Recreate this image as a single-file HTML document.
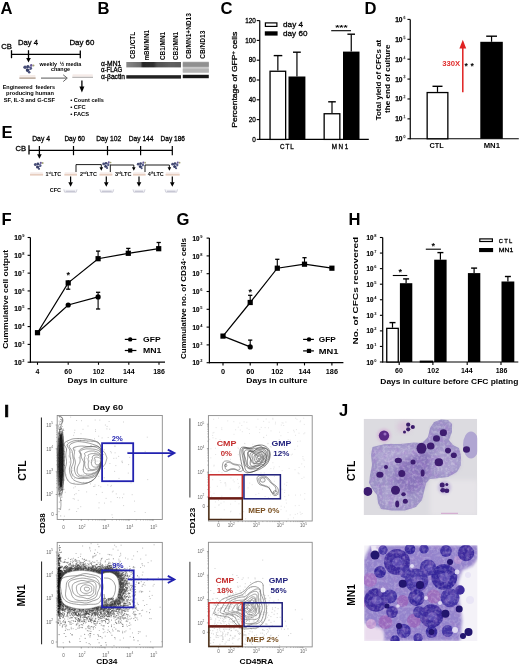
<!DOCTYPE html>
<html><head><meta charset="utf-8"><style>
html,body{margin:0;padding:0;background:#fff;width:520px;height:666px;overflow:hidden}
svg{display:block}
text{font-family:"Liberation Sans",sans-serif}
</style></head><body>
<svg width="520" height="666" viewBox="0 0 520 666">
<defs><filter id="soft" x="0" y="0" width="100%" height="100%"><feGaussianBlur stdDeviation="0.3"/></filter></defs>
<rect width="520" height="666" fill="#fff"/>
<g filter="url(#soft)">
<rect width="520" height="666" fill="#fff"/>
<text x="0.60" y="13.50" font-size="16.6" fill="#000" font-weight="bold" >A</text>
<text x="97.60" y="14.00" font-size="16.6" fill="#000" font-weight="bold" >B</text>
<text x="220.40" y="13.60" font-size="16.6" fill="#000" font-weight="bold" >C</text>
<text x="364.40" y="13.80" font-size="16.6" fill="#000" font-weight="bold" >D</text>
<text x="1.40" y="138.00" font-size="16.6" fill="#000" font-weight="bold" >E</text>
<text x="1.60" y="225.00" font-size="16.6" fill="#000" font-weight="bold" >F</text>
<text x="176.40" y="225.00" font-size="16.6" fill="#000" font-weight="bold" >G</text>
<text x="348.60" y="225.00" font-size="16.6" fill="#000" font-weight="bold" >H</text>
<text x="4.30" y="416.50" font-size="17.0" fill="#000" font-weight="bold" stroke="#000" stroke-width="0.7">I</text>
<text x="339.00" y="416.20" font-size="16.6" fill="#000" font-weight="bold" >J</text>
<text x="1.20" y="48.60" font-size="7.8" fill="#000" font-weight="normal" stroke="#000" stroke-width="0.28" textLength="10.70" lengthAdjust="spacingAndGlyphs" >CB</text>
<text x="18.00" y="45.20" font-size="7.6" fill="#000" font-weight="normal" stroke="#000" stroke-width="0.28" textLength="20.00" lengthAdjust="spacingAndGlyphs" >Day 4</text>
<text x="69.40" y="45.20" font-size="7.6" fill="#000" font-weight="normal" stroke="#000" stroke-width="0.28" textLength="25.00" lengthAdjust="spacingAndGlyphs" >Day 60</text>
<line x1="11.50" y1="54.40" x2="80.30" y2="54.40" stroke="#000" stroke-width="1.3" />
<line x1="11.50" y1="50.20" x2="11.50" y2="58.20" stroke="#000" stroke-width="1.3" />
<line x1="80.30" y1="50.60" x2="80.30" y2="58.20" stroke="#000" stroke-width="1.3" />
<line x1="28.50" y1="50.20" x2="28.50" y2="54.40" stroke="#000" stroke-width="1.3" />
<line x1="28.50" y1="54.40" x2="28.50" y2="58.60" stroke="#000" stroke-width="1.3" />
<path d="M26.20,58.10 L30.80,58.10 L28.50,62.60 Z" fill="#000"/>
<g transform="translate(21.60,63.20) scale(1.15)"><circle cx="3" cy="3.5" r="1.5" fill="#4a5078"/><circle cx="5.5" cy="2.9" r="1.4" fill="#3e4470"/><circle cx="7.6" cy="4.4" r="1.5" fill="#525a88"/><circle cx="5.2" cy="6" r="1.6" fill="#363c66"/><circle cx="8.4" cy="1.9" r="1.1" fill="#6a5a98"/><circle cx="10.3" cy="2.0" r="0.9" fill="#a0a070"/><circle cx="6.6" cy="7.8" r="1.1" fill="#4a5078"/><circle cx="6.4" cy="4.6" r="0.7" fill="#e8e8f0"/></g>
<rect x="19.40" y="75.40" width="16.20" height="3.2" fill="#f9f2ef"/>
<line x1="19.40" y1="78.10" x2="35.60" y2="78.10" stroke="#8a7460" stroke-width="0.9" />
<line x1="19.90" y1="75.80" x2="35.10" y2="75.80" stroke="#ead6d0" stroke-width="0.5" />
<text x="39.40" y="65.50" font-size="6.0" fill="#000" font-weight="bold" textLength="41.80" lengthAdjust="spacingAndGlyphs" >weekly&#160;&#160;&#189; media</text>
<text x="51.00" y="71.30" font-size="6.0" fill="#000" font-weight="bold" textLength="19.00" lengthAdjust="spacingAndGlyphs" >change</text>
<line x1="41.00" y1="78.10" x2="66.80" y2="78.10" stroke="#666" stroke-width="1.1" />
<path d="M63.2,74.8 L67.3,78.1 L63.2,81.6" fill="none" stroke="#666" stroke-width="1.0"/>
<rect x="72.30" y="74.60" width="20.70" height="3.2" fill="#f9f2ef"/>
<line x1="72.30" y1="77.30" x2="93.00" y2="77.30" stroke="#a0a0a0" stroke-width="0.9" />
<line x1="72.80" y1="75.00" x2="92.50" y2="75.00" stroke="#ead6d0" stroke-width="0.5" />
<line x1="81.90" y1="80.50" x2="81.90" y2="87.10" stroke="#000" stroke-width="1.3" />
<path d="M79.40,86.60 L84.40,86.60 L81.90,92.40 Z" fill="#000"/>
<text x="2.70" y="88.60" font-size="6.2" fill="#000" font-weight="bold" textLength="52.30" lengthAdjust="spacingAndGlyphs" >Engineered&#160; feeders</text>
<text x="6.00" y="94.80" font-size="6.2" fill="#000" font-weight="bold" textLength="48.00" lengthAdjust="spacingAndGlyphs" >producing human</text>
<text x="3.80" y="101.90" font-size="6.2" fill="#000" font-weight="bold" textLength="51.20" lengthAdjust="spacingAndGlyphs" >SF, IL-3 and G-CSF</text>
<text x="70.20" y="101.60" font-size="6.2" fill="#000" font-weight="bold" >&#8226;</text>
<text x="73.80" y="101.60" font-size="6.2" fill="#000" font-weight="bold" textLength="30.00" lengthAdjust="spacingAndGlyphs" >Count cells</text>
<text x="70.20" y="108.60" font-size="6.2" fill="#000" font-weight="bold" >&#8226;</text>
<text x="73.80" y="108.60" font-size="6.2" fill="#000" font-weight="bold" textLength="11.80" lengthAdjust="spacingAndGlyphs" >CFC</text>
<text x="70.20" y="115.50" font-size="6.2" fill="#000" font-weight="bold" >&#8226;</text>
<text x="73.80" y="115.50" font-size="6.2" fill="#000" font-weight="bold" textLength="15.20" lengthAdjust="spacingAndGlyphs" >FACS</text>
<text x="135.40" y="58.80" font-size="7.6" fill="#000" font-weight="bold" textLength="26.90" lengthAdjust="spacingAndGlyphs" transform="rotate(-90 135.40 58.80)" >CB1/CTL</text>
<text x="149.20" y="60.60" font-size="7.6" fill="#000" font-weight="bold" textLength="30.60" lengthAdjust="spacingAndGlyphs" transform="rotate(-90 149.20 60.60)" >mBM/MN1</text>
<text x="164.80" y="60.00" font-size="7.6" fill="#000" font-weight="bold" textLength="28.10" lengthAdjust="spacingAndGlyphs" transform="rotate(-90 164.80 60.00)" >CB1/MN1</text>
<text x="177.50" y="60.00" font-size="7.6" fill="#000" font-weight="bold" textLength="28.10" lengthAdjust="spacingAndGlyphs" transform="rotate(-90 177.50 60.00)" >CB2/MN1</text>
<text x="191.30" y="58.80" font-size="7.6" fill="#000" font-weight="bold" textLength="45.70" lengthAdjust="spacingAndGlyphs" transform="rotate(-90 191.30 58.80)" >CB/MN1+ND13</text>
<text x="204.60" y="58.80" font-size="7.6" fill="#000" font-weight="bold" textLength="28.20" lengthAdjust="spacingAndGlyphs" transform="rotate(-90 204.60 58.80)" >CB/ND13</text>
<text x="101.00" y="66.10" font-size="6.3" fill="#000" font-weight="normal" stroke="#000" stroke-width="0.28" textLength="20.30" lengthAdjust="spacingAndGlyphs" >&#945;-MN1</text>
<text x="101.00" y="72.40" font-size="6.3" fill="#000" font-weight="normal" stroke="#000" stroke-width="0.28" textLength="21.30" lengthAdjust="spacingAndGlyphs" >&#945;-FLAG</text>
<text x="101.00" y="78.60" font-size="6.3" fill="#000" font-weight="normal" stroke="#000" stroke-width="0.28" textLength="24.00" lengthAdjust="spacingAndGlyphs" >&#945;-&#946;actin</text>
<defs><linearGradient id="mn1g" x1="0" x2="1" y1="0" y2="0"><stop offset="0" stop-color="#888"/><stop offset="0.26" stop-color="#6a6a6a"/><stop offset="0.3" stop-color="#262626"/><stop offset="0.5" stop-color="#303030"/><stop offset="0.56" stop-color="#505050"/><stop offset="0.8" stop-color="#606060"/><stop offset="1" stop-color="#5a5a5a"/></linearGradient><filter id="bl1"><feGaussianBlur stdDeviation="0.5"/></filter><filter id="bl2"><feGaussianBlur stdDeviation="1.0"/></filter><filter id="bl3"><feGaussianBlur stdDeviation="2.0"/></filter></defs>
<rect x="126.30" y="62.00" width="54.70" height="5.40" fill="url(#mn1g)" filter="url(#bl1)"/>
<rect x="126.30" y="75.20" width="54.70" height="3.40" fill="#202020" filter="url(#bl1)"/>
<rect x="182.80" y="61.60" width="26.00" height="11.20" fill="#c8c8c8" />
<rect x="182.80" y="62.20" width="26.00" height="4.60" fill="#909090" filter="url(#bl1)"/>
<rect x="182.80" y="68.80" width="26.00" height="3.60" fill="#b4b4b4" filter="url(#bl1)"/>
<rect x="182.80" y="74.80" width="26.00" height="3.40" fill="#181818" filter="url(#bl1)"/>
<line x1="259.75" y1="20.60" x2="259.75" y2="139.90" stroke="#000" stroke-width="1.2" />
<line x1="259.25" y1="139.40" x2="368.80" y2="139.40" stroke="#000" stroke-width="1.2" />
<line x1="256.75" y1="139.40" x2="259.75" y2="139.40" stroke="#000" stroke-width="1.1" />
<text x="255.80" y="141.60" font-size="6.4" fill="#000" font-weight="normal" stroke="#000" stroke-width="0.28" text-anchor="end" >0</text>
<line x1="256.75" y1="119.60" x2="259.75" y2="119.60" stroke="#000" stroke-width="1.1" />
<text x="255.80" y="121.80" font-size="6.4" fill="#000" font-weight="normal" stroke="#000" stroke-width="0.28" text-anchor="end" >20</text>
<line x1="256.75" y1="99.80" x2="259.75" y2="99.80" stroke="#000" stroke-width="1.1" />
<text x="255.80" y="102.00" font-size="6.4" fill="#000" font-weight="normal" stroke="#000" stroke-width="0.28" text-anchor="end" >40</text>
<line x1="256.75" y1="80.00" x2="259.75" y2="80.00" stroke="#000" stroke-width="1.1" />
<text x="255.80" y="82.20" font-size="6.4" fill="#000" font-weight="normal" stroke="#000" stroke-width="0.28" text-anchor="end" >60</text>
<line x1="256.75" y1="60.20" x2="259.75" y2="60.20" stroke="#000" stroke-width="1.1" />
<text x="255.80" y="62.40" font-size="6.4" fill="#000" font-weight="normal" stroke="#000" stroke-width="0.28" text-anchor="end" >80</text>
<line x1="256.75" y1="40.40" x2="259.75" y2="40.40" stroke="#000" stroke-width="1.1" />
<text x="255.80" y="42.60" font-size="6.4" fill="#000" font-weight="normal" stroke="#000" stroke-width="0.28" text-anchor="end" >100</text>
<line x1="256.75" y1="20.60" x2="259.75" y2="20.60" stroke="#000" stroke-width="1.1" />
<text x="255.80" y="22.80" font-size="6.4" fill="#000" font-weight="normal" stroke="#000" stroke-width="0.28" text-anchor="end" >120</text>
<rect x="270.05" y="71.25" width="15.60" height="68.15" fill="#fff" stroke="#000" stroke-width="1.3" />
<line x1="277.85" y1="55.60" x2="277.85" y2="70.60" stroke="#000" stroke-width="1.2" />
<line x1="273.70" y1="55.60" x2="282.30" y2="55.60" stroke="#000" stroke-width="1.4" />
<rect x="288.50" y="76.50" width="16.90" height="62.90" fill="#000" />
<line x1="296.95" y1="52.20" x2="296.95" y2="76.50" stroke="#000" stroke-width="1.2" />
<line x1="293.00" y1="52.20" x2="300.80" y2="52.20" stroke="#000" stroke-width="1.4" />
<rect x="324.15" y="113.75" width="15.70" height="25.65" fill="#fff" stroke="#000" stroke-width="1.3" />
<line x1="332.00" y1="101.80" x2="332.00" y2="113.10" stroke="#000" stroke-width="1.2" />
<line x1="328.20" y1="101.80" x2="335.80" y2="101.80" stroke="#000" stroke-width="1.4" />
<rect x="343.00" y="51.60" width="16.50" height="87.80" fill="#000" />
<line x1="351.25" y1="34.20" x2="351.25" y2="51.60" stroke="#000" stroke-width="1.2" />
<line x1="347.40" y1="34.20" x2="355.00" y2="34.20" stroke="#000" stroke-width="1.4" />
<line x1="331.20" y1="30.70" x2="351.00" y2="30.70" stroke="#000" stroke-width="1.1" />
<text x="335.20" y="30.20" font-size="6.5" fill="#000" font-weight="bold" textLength="12.50" lengthAdjust="spacingAndGlyphs" >***</text>
<rect x="265.40" y="22.90" width="11.50" height="3.50" fill="#fff" stroke="#000" stroke-width="1.2" />
<rect x="264.80" y="31.30" width="12.80" height="4.30" fill="#000" />
<text x="283.10" y="27.30" font-size="7.8" fill="#000" font-weight="normal" stroke="#000" stroke-width="0.28" textLength="19.90" lengthAdjust="spacingAndGlyphs" >day 4</text>
<text x="283.10" y="35.90" font-size="7.8" fill="#000" font-weight="normal" stroke="#000" stroke-width="0.28" textLength="24.30" lengthAdjust="spacingAndGlyphs" >day 60</text>
<text x="237.50" y="79.70" font-size="7.0" fill="#000" font-weight="normal" stroke="#000" stroke-width="0.28" text-anchor="middle" textLength="96.00" lengthAdjust="spacingAndGlyphs" transform="rotate(-90 237.50 79.70)" >Percentage of GFP<tspan font-size="4.6" dy="-2.6">+</tspan><tspan dy="2.6"> cells</tspan></text>
<text x="280.00" y="148.70" font-size="6.3" fill="#000" font-weight="normal" stroke="#000" stroke-width="0.28" textLength="13.80" lengthAdjust="spacing" >CTL</text>
<text x="331.80" y="148.90" font-size="6.3" fill="#000" font-weight="normal" stroke="#000" stroke-width="0.28" textLength="16.40" lengthAdjust="spacing" >MN1</text>
<line x1="410.25" y1="19.40" x2="410.25" y2="139.25" stroke="#000" stroke-width="1.2" />
<line x1="409.75" y1="138.75" x2="518.80" y2="138.75" stroke="#000" stroke-width="1.2" />
<line x1="407.45" y1="138.75" x2="410.25" y2="138.75" stroke="#000" stroke-width="1.1" />
<text x="395.20" y="141.25" font-size="7.0" fill="#000" font-weight="bold" textLength="7.30" lengthAdjust="spacingAndGlyphs" stroke="#000" stroke-width="0.25">10</text>
<text x="403.40" y="138.15" font-size="3.4" fill="#555" font-weight="normal" stroke="#555" stroke-width="0.28" >0</text>
<line x1="407.45" y1="118.86" x2="410.25" y2="118.86" stroke="#000" stroke-width="1.1" />
<text x="395.20" y="121.36" font-size="7.0" fill="#000" font-weight="bold" textLength="7.30" lengthAdjust="spacingAndGlyphs" stroke="#000" stroke-width="0.25">10</text>
<text x="403.40" y="118.26" font-size="3.4" fill="#555" font-weight="normal" stroke="#555" stroke-width="0.28" >1</text>
<line x1="407.45" y1="98.97" x2="410.25" y2="98.97" stroke="#000" stroke-width="1.1" />
<text x="395.20" y="101.47" font-size="7.0" fill="#000" font-weight="bold" textLength="7.30" lengthAdjust="spacingAndGlyphs" stroke="#000" stroke-width="0.25">10</text>
<text x="403.40" y="98.37" font-size="3.4" fill="#555" font-weight="normal" stroke="#555" stroke-width="0.28" >2</text>
<line x1="407.45" y1="79.08" x2="410.25" y2="79.08" stroke="#000" stroke-width="1.1" />
<text x="395.20" y="81.58" font-size="7.0" fill="#000" font-weight="bold" textLength="7.30" lengthAdjust="spacingAndGlyphs" stroke="#000" stroke-width="0.25">10</text>
<text x="403.40" y="78.48" font-size="3.4" fill="#555" font-weight="normal" stroke="#555" stroke-width="0.28" >3</text>
<line x1="407.45" y1="59.18" x2="410.25" y2="59.18" stroke="#000" stroke-width="1.1" />
<text x="395.20" y="61.68" font-size="7.0" fill="#000" font-weight="bold" textLength="7.30" lengthAdjust="spacingAndGlyphs" stroke="#000" stroke-width="0.25">10</text>
<text x="403.40" y="58.58" font-size="3.4" fill="#555" font-weight="normal" stroke="#555" stroke-width="0.28" >4</text>
<line x1="407.45" y1="39.29" x2="410.25" y2="39.29" stroke="#000" stroke-width="1.1" />
<text x="395.20" y="41.79" font-size="7.0" fill="#000" font-weight="bold" textLength="7.30" lengthAdjust="spacingAndGlyphs" stroke="#000" stroke-width="0.25">10</text>
<text x="403.40" y="38.69" font-size="3.4" fill="#555" font-weight="normal" stroke="#555" stroke-width="0.28" >5</text>
<line x1="407.45" y1="19.40" x2="410.25" y2="19.40" stroke="#000" stroke-width="1.1" />
<text x="395.20" y="21.90" font-size="7.0" fill="#000" font-weight="bold" textLength="7.30" lengthAdjust="spacingAndGlyphs" stroke="#000" stroke-width="0.25">10</text>
<text x="403.40" y="18.80" font-size="3.4" fill="#555" font-weight="normal" stroke="#555" stroke-width="0.28" >6</text>
<rect x="427.15" y="92.55" width="20.70" height="46.20" fill="#fff" stroke="#000" stroke-width="1.3" />
<line x1="437.50" y1="86.30" x2="437.50" y2="91.90" stroke="#000" stroke-width="1.2" />
<line x1="432.50" y1="86.30" x2="442.50" y2="86.30" stroke="#000" stroke-width="1.4" />
<rect x="480.30" y="41.80" width="22.50" height="96.95" fill="#000" />
<line x1="491.55" y1="36.20" x2="491.55" y2="41.80" stroke="#000" stroke-width="1.2" />
<line x1="486.20" y1="36.20" x2="497.00" y2="36.20" stroke="#000" stroke-width="1.4" />
<line x1="462.80" y1="92.20" x2="462.80" y2="47.00" stroke="#e02020" stroke-width="1.5" />
<path d="M459.4,48.6 L466.2,48.6 L462.8,39.8 Z" fill="#e02020"/>
<text x="442.20" y="66.30" font-size="8.0" fill="#e02c2c" font-weight="bold" textLength="17.90" lengthAdjust="spacingAndGlyphs" >330X</text>
<text x="464.60" y="69.20" font-size="8.6" fill="#000" font-weight="bold" >*</text>
<text x="470.60" y="69.20" font-size="8.6" fill="#000" font-weight="bold" >*</text>
<text x="429.50" y="148.20" font-size="7.6" fill="#000" font-weight="bold" textLength="14.30" lengthAdjust="spacingAndGlyphs" >CTL</text>
<text x="483.70" y="148.20" font-size="7.6" fill="#000" font-weight="bold" textLength="16.30" lengthAdjust="spacingAndGlyphs" >MN1</text>
<text x="381.00" y="80.00" font-size="6.6" fill="#000" font-weight="bold" text-anchor="middle" textLength="80.50" lengthAdjust="spacingAndGlyphs" transform="rotate(-90 381.00 80.00)" >Total yield of CFCs at</text>
<text x="389.90" y="78.80" font-size="6.6" fill="#000" font-weight="bold" text-anchor="middle" textLength="68.50" lengthAdjust="spacingAndGlyphs" transform="rotate(-90 389.90 78.80)" >the end of culture</text>
<text x="15.60" y="150.60" font-size="7.2" fill="#000" font-weight="normal" stroke="#000" stroke-width="0.28" textLength="10.60" lengthAdjust="spacingAndGlyphs" >CB</text>
<text x="32.20" y="141.00" font-size="7.0" fill="#000" font-weight="normal" stroke="#000" stroke-width="0.28" textLength="17.80" lengthAdjust="spacingAndGlyphs" >Day 4</text>
<text x="64.40" y="141.00" font-size="7.0" fill="#000" font-weight="normal" stroke="#000" stroke-width="0.28" textLength="20.60" lengthAdjust="spacingAndGlyphs" >Day 60</text>
<text x="96.20" y="141.00" font-size="7.0" fill="#000" font-weight="normal" stroke="#000" stroke-width="0.28" textLength="25.00" lengthAdjust="spacingAndGlyphs" >Day 102</text>
<text x="128.70" y="141.00" font-size="7.0" fill="#000" font-weight="normal" stroke="#000" stroke-width="0.28" textLength="24.80" lengthAdjust="spacingAndGlyphs" >Day 144</text>
<text x="160.60" y="141.00" font-size="7.0" fill="#000" font-weight="normal" stroke="#000" stroke-width="0.28" textLength="24.40" lengthAdjust="spacingAndGlyphs" >Day 186</text>
<line x1="29.00" y1="150.40" x2="172.30" y2="150.40" stroke="#000" stroke-width="1.3" />
<line x1="29.00" y1="145.20" x2="29.00" y2="154.60" stroke="#000" stroke-width="1.3" />
<line x1="73.50" y1="146.00" x2="73.50" y2="155.20" stroke="#000" stroke-width="1.2" />
<line x1="107.50" y1="146.00" x2="107.50" y2="155.20" stroke="#000" stroke-width="1.2" />
<line x1="140.60" y1="146.00" x2="140.60" y2="155.20" stroke="#000" stroke-width="1.2" />
<line x1="172.30" y1="146.00" x2="172.30" y2="155.20" stroke="#000" stroke-width="1.2" />
<line x1="39.40" y1="146.00" x2="39.40" y2="150.40" stroke="#000" stroke-width="1.2" />
<line x1="39.40" y1="150.40" x2="39.40" y2="154.80" stroke="#000" stroke-width="1.3" />
<path d="M37.10,154.30 L41.70,154.30 L39.40,158.80 Z" fill="#000"/>
<g transform="translate(32.40,161.00) scale(1.0)"><circle cx="3" cy="3.5" r="1.5" fill="#4a5078"/><circle cx="5.5" cy="2.9" r="1.4" fill="#3e4470"/><circle cx="7.6" cy="4.4" r="1.5" fill="#525a88"/><circle cx="5.2" cy="6" r="1.6" fill="#363c66"/><circle cx="8.4" cy="1.9" r="1.1" fill="#6a5a98"/><circle cx="10.3" cy="2.0" r="0.9" fill="#a0a070"/><circle cx="6.6" cy="7.8" r="1.1" fill="#4a5078"/><circle cx="6.4" cy="4.6" r="0.7" fill="#e8e8f0"/></g>
<rect x="30.00" y="172.60" width="13.10" height="2.8" fill="#f9f2ef"/>
<line x1="30.00" y1="174.90" x2="43.10" y2="174.90" stroke="#d8b098" stroke-width="0.9" />
<line x1="30.50" y1="173.00" x2="42.60" y2="173.00" stroke="#ead6d0" stroke-width="0.5" />
<rect x="64.40" y="172.60" width="12.60" height="2.8" fill="#f9f2ef"/>
<line x1="64.40" y1="174.90" x2="77.00" y2="174.90" stroke="#d8b098" stroke-width="0.9" />
<line x1="64.90" y1="173.00" x2="76.50" y2="173.00" stroke="#ead6d0" stroke-width="0.5" />
<rect x="99.50" y="172.60" width="12.80" height="2.8" fill="#f9f2ef"/>
<line x1="99.50" y1="174.90" x2="112.30" y2="174.90" stroke="#d8b098" stroke-width="0.9" />
<line x1="100.00" y1="173.00" x2="111.80" y2="173.00" stroke="#ead6d0" stroke-width="0.5" />
<rect x="133.00" y="172.60" width="12.60" height="2.8" fill="#f9f2ef"/>
<line x1="133.00" y1="174.90" x2="145.60" y2="174.90" stroke="#d8b098" stroke-width="0.9" />
<line x1="133.50" y1="173.00" x2="145.10" y2="173.00" stroke="#ead6d0" stroke-width="0.5" />
<rect x="165.60" y="172.60" width="14.10" height="2.8" fill="#f9f2ef"/>
<line x1="165.60" y1="174.90" x2="179.70" y2="174.90" stroke="#d8b098" stroke-width="0.9" />
<line x1="166.10" y1="173.00" x2="179.20" y2="173.00" stroke="#ead6d0" stroke-width="0.5" />
<text x="45.60" y="176.10" font-size="6.0" fill="#000" font-weight="bold" textLength="15.60" lengthAdjust="spacingAndGlyphs" >1<tspan font-size="3.2" dy="-2">st</tspan><tspan dy="2">LTC</tspan></text>
<text x="80.00" y="176.10" font-size="6.0" fill="#000" font-weight="bold" textLength="16.90" lengthAdjust="spacingAndGlyphs" >2<tspan font-size="3.2" dy="-2">nd</tspan><tspan dy="2">LTC</tspan></text>
<text x="115.00" y="176.10" font-size="6.0" fill="#000" font-weight="bold" textLength="16.50" lengthAdjust="spacingAndGlyphs" >3<tspan font-size="3.2" dy="-2">rd</tspan><tspan dy="2">LTC</tspan></text>
<text x="147.80" y="176.10" font-size="6.0" fill="#000" font-weight="bold" textLength="16.00" lengthAdjust="spacingAndGlyphs" >4<tspan font-size="3.2" dy="-2">th</tspan><tspan dy="2">LTC</tspan></text>
<line x1="76.00" y1="172.00" x2="76.00" y2="164.60" stroke="#000" stroke-width="0.9" />
<line x1="76.00" y1="164.60" x2="101.30" y2="164.60" stroke="#000" stroke-width="0.9" />
<line x1="101.30" y1="164.60" x2="101.30" y2="167.80" stroke="#000" stroke-width="0.9" />
<path d="M99.50,167.30 L103.10,167.30 L101.30,170.80 Z" fill="#000"/>
<g transform="translate(100.80,160.60) scale(0.95)"><circle cx="3" cy="3.5" r="1.5" fill="#4a5078"/><circle cx="5.5" cy="2.9" r="1.4" fill="#3e4470"/><circle cx="7.6" cy="4.4" r="1.5" fill="#525a88"/><circle cx="5.2" cy="6" r="1.6" fill="#363c66"/><circle cx="8.4" cy="1.9" r="1.1" fill="#6a5a98"/><circle cx="10.3" cy="2.0" r="0.9" fill="#a0a070"/><circle cx="6.6" cy="7.8" r="1.1" fill="#4a5078"/><circle cx="6.4" cy="4.6" r="0.7" fill="#e8e8f0"/></g>
<line x1="110.30" y1="164.60" x2="110.30" y2="172.00" stroke="#000" stroke-width="0.9" />
<line x1="110.30" y1="165.00" x2="133.80" y2="165.00" stroke="#000" stroke-width="0.9" />
<line x1="133.80" y1="165.00" x2="133.80" y2="167.80" stroke="#000" stroke-width="0.9" />
<path d="M132.00,167.30 L135.60,167.30 L133.80,170.80 Z" fill="#000"/>
<g transform="translate(135.40,160.80) scale(0.95)"><circle cx="3" cy="3.5" r="1.5" fill="#4a5078"/><circle cx="5.5" cy="2.9" r="1.4" fill="#3e4470"/><circle cx="7.6" cy="4.4" r="1.5" fill="#525a88"/><circle cx="5.2" cy="6" r="1.6" fill="#363c66"/><circle cx="8.4" cy="1.9" r="1.1" fill="#6a5a98"/><circle cx="10.3" cy="2.0" r="0.9" fill="#a0a070"/><circle cx="6.6" cy="7.8" r="1.1" fill="#4a5078"/><circle cx="6.4" cy="4.6" r="0.7" fill="#e8e8f0"/></g>
<line x1="145.00" y1="165.00" x2="145.00" y2="172.00" stroke="#000" stroke-width="0.9" />
<line x1="145.00" y1="165.00" x2="169.40" y2="165.00" stroke="#000" stroke-width="0.9" />
<line x1="169.40" y1="165.00" x2="169.40" y2="167.80" stroke="#000" stroke-width="0.9" />
<path d="M167.60,167.30 L171.20,167.30 L169.40,170.80 Z" fill="#000"/>
<g transform="translate(169.80,160.80) scale(0.95)"><circle cx="3" cy="3.5" r="1.5" fill="#4a5078"/><circle cx="5.5" cy="2.9" r="1.4" fill="#3e4470"/><circle cx="7.6" cy="4.4" r="1.5" fill="#525a88"/><circle cx="5.2" cy="6" r="1.6" fill="#363c66"/><circle cx="8.4" cy="1.9" r="1.1" fill="#6a5a98"/><circle cx="10.3" cy="2.0" r="0.9" fill="#a0a070"/><circle cx="6.6" cy="7.8" r="1.1" fill="#4a5078"/><circle cx="6.4" cy="4.6" r="0.7" fill="#e8e8f0"/></g>
<line x1="70.60" y1="176.50" x2="70.60" y2="182.70" stroke="#000" stroke-width="1.2" />
<path d="M68.30,182.20 L72.90,182.20 L70.60,186.80 Z" fill="#000"/>
<line x1="106.30" y1="176.50" x2="106.30" y2="182.70" stroke="#000" stroke-width="1.2" />
<path d="M104.00,182.20 L108.60,182.20 L106.30,186.80 Z" fill="#000"/>
<line x1="139.00" y1="176.50" x2="139.00" y2="182.70" stroke="#000" stroke-width="1.2" />
<path d="M136.70,182.20 L141.30,182.20 L139.00,186.80 Z" fill="#000"/>
<line x1="172.30" y1="176.50" x2="172.30" y2="182.70" stroke="#000" stroke-width="1.2" />
<path d="M170.00,182.20 L174.60,182.20 L172.30,186.80 Z" fill="#000"/>
<text x="49.70" y="192.00" font-size="6.0" fill="#000" font-weight="bold" textLength="11.30" lengthAdjust="spacingAndGlyphs" >CFC</text>
<path d="M63.80,189.40 L64.60,192.20 L76.20,192.20 L77.00,189.40" fill="#f4f4f8" stroke="#b8b8c8" stroke-width="0.6"/>
<line x1="65.80" y1="191.20" x2="75.00" y2="191.20" stroke="#9898b0" stroke-width="0.6" />
<path d="M100.00,189.40 L100.80,192.20 L112.90,192.20 L113.70,189.40" fill="#f4f4f8" stroke="#b8b8c8" stroke-width="0.6"/>
<line x1="102.00" y1="191.20" x2="111.70" y2="191.20" stroke="#9898b0" stroke-width="0.6" />
<path d="M133.00,189.40 L133.80,192.20 L144.20,192.20 L145.00,189.40" fill="#f4f4f8" stroke="#b8b8c8" stroke-width="0.6"/>
<line x1="135.00" y1="191.20" x2="143.00" y2="191.20" stroke="#9898b0" stroke-width="0.6" />
<path d="M165.00,189.40 L165.80,192.20 L176.70,192.20 L177.50,189.40" fill="#f4f4f8" stroke="#b8b8c8" stroke-width="0.6"/>
<line x1="167.00" y1="191.20" x2="175.50" y2="191.20" stroke="#9898b0" stroke-width="0.6" />
<line x1="30.40" y1="237.50" x2="30.40" y2="362.70" stroke="#000" stroke-width="1.2" />
<line x1="29.90" y1="362.20" x2="165.00" y2="362.20" stroke="#000" stroke-width="1.2" />
<line x1="27.60" y1="362.20" x2="30.40" y2="362.20" stroke="#000" stroke-width="1.1" />
<text x="14.20" y="364.80" font-size="7.0" fill="#000" font-weight="bold" textLength="7.40" lengthAdjust="spacingAndGlyphs" stroke="#000" stroke-width="0.2">10</text>
<text x="22.30" y="361.80" font-size="4.0" fill="#000" font-weight="bold" >2</text>
<line x1="27.60" y1="344.39" x2="30.40" y2="344.39" stroke="#000" stroke-width="1.1" />
<text x="14.20" y="346.99" font-size="7.0" fill="#000" font-weight="bold" textLength="7.40" lengthAdjust="spacingAndGlyphs" stroke="#000" stroke-width="0.2">10</text>
<text x="22.30" y="343.99" font-size="4.0" fill="#000" font-weight="bold" >3</text>
<line x1="27.60" y1="326.57" x2="30.40" y2="326.57" stroke="#000" stroke-width="1.1" />
<text x="14.20" y="329.17" font-size="7.0" fill="#000" font-weight="bold" textLength="7.40" lengthAdjust="spacingAndGlyphs" stroke="#000" stroke-width="0.2">10</text>
<text x="22.30" y="326.17" font-size="4.0" fill="#000" font-weight="bold" >4</text>
<line x1="27.60" y1="308.76" x2="30.40" y2="308.76" stroke="#000" stroke-width="1.1" />
<text x="14.20" y="311.36" font-size="7.0" fill="#000" font-weight="bold" textLength="7.40" lengthAdjust="spacingAndGlyphs" stroke="#000" stroke-width="0.2">10</text>
<text x="22.30" y="308.36" font-size="4.0" fill="#000" font-weight="bold" >5</text>
<line x1="27.60" y1="290.94" x2="30.40" y2="290.94" stroke="#000" stroke-width="1.1" />
<text x="14.20" y="293.54" font-size="7.0" fill="#000" font-weight="bold" textLength="7.40" lengthAdjust="spacingAndGlyphs" stroke="#000" stroke-width="0.2">10</text>
<text x="22.30" y="290.54" font-size="4.0" fill="#000" font-weight="bold" >6</text>
<line x1="27.60" y1="273.13" x2="30.40" y2="273.13" stroke="#000" stroke-width="1.1" />
<text x="14.20" y="275.73" font-size="7.0" fill="#000" font-weight="bold" textLength="7.40" lengthAdjust="spacingAndGlyphs" stroke="#000" stroke-width="0.2">10</text>
<text x="22.30" y="272.73" font-size="4.0" fill="#000" font-weight="bold" >7</text>
<line x1="27.60" y1="255.31" x2="30.40" y2="255.31" stroke="#000" stroke-width="1.1" />
<text x="14.20" y="257.91" font-size="7.0" fill="#000" font-weight="bold" textLength="7.40" lengthAdjust="spacingAndGlyphs" stroke="#000" stroke-width="0.2">10</text>
<text x="22.30" y="254.91" font-size="4.0" fill="#000" font-weight="bold" >8</text>
<line x1="27.60" y1="237.50" x2="30.40" y2="237.50" stroke="#000" stroke-width="1.1" />
<text x="14.20" y="240.10" font-size="7.0" fill="#000" font-weight="bold" textLength="7.40" lengthAdjust="spacingAndGlyphs" stroke="#000" stroke-width="0.2">10</text>
<text x="22.30" y="237.10" font-size="4.0" fill="#000" font-weight="bold" >9</text>
<line x1="37.50" y1="362.20" x2="37.50" y2="364.80" stroke="#000" stroke-width="1.1" />
<line x1="68.20" y1="362.20" x2="68.20" y2="364.80" stroke="#000" stroke-width="1.1" />
<line x1="98.50" y1="362.20" x2="98.50" y2="364.80" stroke="#000" stroke-width="1.1" />
<line x1="128.80" y1="362.20" x2="128.80" y2="364.80" stroke="#000" stroke-width="1.1" />
<line x1="159.00" y1="362.20" x2="159.00" y2="364.80" stroke="#000" stroke-width="1.1" />
<text x="37.50" y="374.40" font-size="7.0" fill="#000" font-weight="bold" text-anchor="middle" >4</text>
<text x="68.20" y="374.40" font-size="7.0" fill="#000" font-weight="bold" text-anchor="middle" >60</text>
<text x="98.50" y="374.40" font-size="7.0" fill="#000" font-weight="bold" text-anchor="middle" >102</text>
<text x="128.80" y="374.40" font-size="7.0" fill="#000" font-weight="bold" text-anchor="middle" >144</text>
<text x="159.00" y="374.40" font-size="7.0" fill="#000" font-weight="bold" text-anchor="middle" >186</text>
<text x="67.60" y="383.20" font-size="7.3" fill="#000" font-weight="bold" textLength="60.20" lengthAdjust="spacingAndGlyphs" >Days in culture</text>
<text x="7.90" y="299.40" font-size="6.9" fill="#000" font-weight="bold" text-anchor="middle" textLength="98.80" lengthAdjust="spacingAndGlyphs" transform="rotate(-90 7.90 299.40)" >Cummulative cell output</text>
<polyline points="37.5,332.7 68.2,282.9 98.1,258.7 128.3,253.3 158.7,248.7" fill="none" stroke="#000" stroke-width="1.2"/>
<polyline points="37.5,332.7 68.2,305.0 98.1,296.9" fill="none" stroke="#000" stroke-width="1.2"/>
<line x1="68.20" y1="280.00" x2="68.20" y2="289.20" stroke="#000" stroke-width="1.1" />
<line x1="66.10" y1="289.20" x2="70.30" y2="289.20" stroke="#000" stroke-width="1.3" />
<line x1="98.10" y1="251.10" x2="98.10" y2="258.70" stroke="#000" stroke-width="1.1" />
<line x1="96.00" y1="251.10" x2="100.20" y2="251.10" stroke="#000" stroke-width="1.3" />
<line x1="128.30" y1="248.40" x2="128.30" y2="253.30" stroke="#000" stroke-width="1.1" />
<line x1="126.20" y1="248.40" x2="130.40" y2="248.40" stroke="#000" stroke-width="1.3" />
<line x1="158.70" y1="242.50" x2="158.70" y2="248.70" stroke="#000" stroke-width="1.1" />
<line x1="156.60" y1="242.50" x2="160.80" y2="242.50" stroke="#000" stroke-width="1.3" />
<line x1="98.10" y1="292.30" x2="98.10" y2="309.00" stroke="#000" stroke-width="1.1" />
<line x1="96.00" y1="292.30" x2="100.20" y2="292.30" stroke="#000" stroke-width="1.3" />
<line x1="96.00" y1="309.00" x2="100.20" y2="309.00" stroke="#000" stroke-width="1.3" />
<rect x="34.90" y="330.10" width="5.20" height="5.20" fill="#000" />
<rect x="65.60" y="280.30" width="5.20" height="5.20" fill="#000" />
<rect x="95.50" y="256.10" width="5.20" height="5.20" fill="#000" />
<rect x="125.70" y="250.70" width="5.20" height="5.20" fill="#000" />
<rect x="156.10" y="246.10" width="5.20" height="5.20" fill="#000" />
<circle cx="68.20" cy="305.00" r="2.6" fill="#000"/>
<circle cx="98.10" cy="296.90" r="2.6" fill="#000"/>
<text x="68.20" y="278.40" font-size="9" fill="#000" font-weight="bold" text-anchor="middle" >*</text>
<line x1="124.80" y1="339.40" x2="136.40" y2="339.40" stroke="#000" stroke-width="1.2" />
<circle cx="130.20" cy="339.40" r="2.2" fill="#000"/>
<line x1="124.80" y1="350.50" x2="136.40" y2="350.50" stroke="#000" stroke-width="1.2" />
<rect x="128.10" y="348.40" width="4.20" height="4.20" fill="#000" />
<text x="143.00" y="342.20" font-size="6.6" fill="#000" font-weight="bold" textLength="17.60" lengthAdjust="spacingAndGlyphs" >GFP</text>
<text x="143.00" y="353.30" font-size="6.6" fill="#000" font-weight="bold" textLength="18.40" lengthAdjust="spacingAndGlyphs" >MN1</text>
<line x1="209.40" y1="238.10" x2="209.40" y2="363.20" stroke="#000" stroke-width="1.2" />
<line x1="208.90" y1="362.70" x2="343.40" y2="362.70" stroke="#000" stroke-width="1.2" />
<line x1="206.60" y1="362.70" x2="209.40" y2="362.70" stroke="#000" stroke-width="1.1" />
<text x="192.60" y="365.30" font-size="7.0" fill="#000" font-weight="bold" textLength="7.00" lengthAdjust="spacingAndGlyphs" stroke="#000" stroke-width="0.2">10</text>
<text x="200.30" y="362.30" font-size="4.0" fill="#000" font-weight="bold" >2</text>
<line x1="206.60" y1="344.90" x2="209.40" y2="344.90" stroke="#000" stroke-width="1.1" />
<text x="192.60" y="347.50" font-size="7.0" fill="#000" font-weight="bold" textLength="7.00" lengthAdjust="spacingAndGlyphs" stroke="#000" stroke-width="0.2">10</text>
<text x="200.30" y="344.50" font-size="4.0" fill="#000" font-weight="bold" >3</text>
<line x1="206.60" y1="327.10" x2="209.40" y2="327.10" stroke="#000" stroke-width="1.1" />
<text x="192.60" y="329.70" font-size="7.0" fill="#000" font-weight="bold" textLength="7.00" lengthAdjust="spacingAndGlyphs" stroke="#000" stroke-width="0.2">10</text>
<text x="200.30" y="326.70" font-size="4.0" fill="#000" font-weight="bold" >4</text>
<line x1="206.60" y1="309.30" x2="209.40" y2="309.30" stroke="#000" stroke-width="1.1" />
<text x="192.60" y="311.90" font-size="7.0" fill="#000" font-weight="bold" textLength="7.00" lengthAdjust="spacingAndGlyphs" stroke="#000" stroke-width="0.2">10</text>
<text x="200.30" y="308.90" font-size="4.0" fill="#000" font-weight="bold" >5</text>
<line x1="206.60" y1="291.50" x2="209.40" y2="291.50" stroke="#000" stroke-width="1.1" />
<text x="192.60" y="294.10" font-size="7.0" fill="#000" font-weight="bold" textLength="7.00" lengthAdjust="spacingAndGlyphs" stroke="#000" stroke-width="0.2">10</text>
<text x="200.30" y="291.10" font-size="4.0" fill="#000" font-weight="bold" >6</text>
<line x1="206.60" y1="273.70" x2="209.40" y2="273.70" stroke="#000" stroke-width="1.1" />
<text x="192.60" y="276.30" font-size="7.0" fill="#000" font-weight="bold" textLength="7.00" lengthAdjust="spacingAndGlyphs" stroke="#000" stroke-width="0.2">10</text>
<text x="200.30" y="273.30" font-size="4.0" fill="#000" font-weight="bold" >7</text>
<line x1="206.60" y1="255.90" x2="209.40" y2="255.90" stroke="#000" stroke-width="1.1" />
<text x="192.60" y="258.50" font-size="7.0" fill="#000" font-weight="bold" textLength="7.00" lengthAdjust="spacingAndGlyphs" stroke="#000" stroke-width="0.2">10</text>
<text x="200.30" y="255.50" font-size="4.0" fill="#000" font-weight="bold" >8</text>
<line x1="206.60" y1="238.10" x2="209.40" y2="238.10" stroke="#000" stroke-width="1.1" />
<text x="192.60" y="240.70" font-size="7.0" fill="#000" font-weight="bold" textLength="7.00" lengthAdjust="spacingAndGlyphs" stroke="#000" stroke-width="0.2">10</text>
<text x="200.30" y="237.70" font-size="4.0" fill="#000" font-weight="bold" >9</text>
<line x1="223.00" y1="362.70" x2="223.00" y2="365.40" stroke="#000" stroke-width="1.1" />
<line x1="250.20" y1="362.70" x2="250.20" y2="365.40" stroke="#000" stroke-width="1.1" />
<line x1="277.30" y1="362.70" x2="277.30" y2="365.40" stroke="#000" stroke-width="1.1" />
<line x1="304.50" y1="362.70" x2="304.50" y2="365.40" stroke="#000" stroke-width="1.1" />
<line x1="331.90" y1="362.70" x2="331.90" y2="365.40" stroke="#000" stroke-width="1.1" />
<text x="223.00" y="373.70" font-size="7.3" fill="#000" font-weight="bold" text-anchor="middle" >0</text>
<text x="250.20" y="373.70" font-size="7.3" fill="#000" font-weight="bold" text-anchor="middle" >60</text>
<text x="277.30" y="373.70" font-size="7.3" fill="#000" font-weight="bold" text-anchor="middle" >102</text>
<text x="304.50" y="373.70" font-size="7.3" fill="#000" font-weight="bold" text-anchor="middle" >144</text>
<text x="331.90" y="373.70" font-size="7.3" fill="#000" font-weight="bold" text-anchor="middle" >186</text>
<text x="246.30" y="383.00" font-size="7.2" fill="#000" font-weight="bold" textLength="61.10" lengthAdjust="spacingAndGlyphs" >Days in culture</text>
<text x="186.40" y="298.50" font-size="7.0" fill="#000" font-weight="bold" text-anchor="middle" textLength="121.00" lengthAdjust="spacingAndGlyphs" transform="rotate(-90 186.40 298.50)" >Cummulative no. of CD34<tspan font-size="4.2" dy="-2.4">+</tspan><tspan dy="2.4"> cells</tspan></text>
<polyline points="223,336.1 250.2,302.5 277.3,268.2 304.5,264.2 331.9,268.2" fill="none" stroke="#000" stroke-width="1.2"/>
<polyline points="223,336.1 250.2,346.9" fill="none" stroke="#000" stroke-width="1.2"/>
<line x1="250.20" y1="340.10" x2="250.20" y2="346.90" stroke="#000" stroke-width="1.1" />
<line x1="248.10" y1="340.10" x2="252.30" y2="340.10" stroke="#000" stroke-width="1.3" />
<line x1="250.20" y1="295.30" x2="250.20" y2="302.50" stroke="#000" stroke-width="1.1" />
<line x1="248.10" y1="295.30" x2="252.30" y2="295.30" stroke="#000" stroke-width="1.3" />
<line x1="277.30" y1="259.30" x2="277.30" y2="268.20" stroke="#000" stroke-width="1.1" />
<line x1="275.20" y1="259.30" x2="279.40" y2="259.30" stroke="#000" stroke-width="1.3" />
<line x1="304.50" y1="257.70" x2="304.50" y2="264.20" stroke="#000" stroke-width="1.1" />
<line x1="302.40" y1="257.70" x2="306.60" y2="257.70" stroke="#000" stroke-width="1.3" />
<rect x="220.40" y="333.50" width="5.20" height="5.20" fill="#000" />
<rect x="247.60" y="299.90" width="5.20" height="5.20" fill="#000" />
<rect x="274.70" y="265.60" width="5.20" height="5.20" fill="#000" />
<rect x="301.90" y="261.60" width="5.20" height="5.20" fill="#000" />
<rect x="329.30" y="265.60" width="5.20" height="5.20" fill="#000" />
<circle cx="250.20" cy="346.90" r="2.6" fill="#000"/>
<text x="250.20" y="295.20" font-size="9" fill="#000" font-weight="bold" text-anchor="middle" >*</text>
<line x1="303.10" y1="339.40" x2="313.90" y2="339.40" stroke="#000" stroke-width="1.2" />
<circle cx="309.00" cy="339.40" r="2.2" fill="#000"/>
<line x1="303.10" y1="350.90" x2="313.90" y2="350.90" stroke="#000" stroke-width="1.2" />
<rect x="306.90" y="348.80" width="4.20" height="4.20" fill="#000" />
<text x="318.80" y="342.20" font-size="6.6" fill="#000" font-weight="bold" textLength="17.00" lengthAdjust="spacingAndGlyphs" >GFP</text>
<text x="318.80" y="353.70" font-size="6.6" fill="#000" font-weight="bold" textLength="19.70" lengthAdjust="spacingAndGlyphs" >MN1</text>
<line x1="382.70" y1="237.50" x2="382.70" y2="362.50" stroke="#000" stroke-width="1.2" />
<line x1="382.20" y1="362.00" x2="518.30" y2="362.00" stroke="#000" stroke-width="1.2" />
<line x1="379.90" y1="362.00" x2="382.70" y2="362.00" stroke="#000" stroke-width="1.1" />
<text x="366.50" y="364.60" font-size="7.0" fill="#000" font-weight="bold" textLength="7.00" lengthAdjust="spacingAndGlyphs" stroke="#000" stroke-width="0.2">10</text>
<text x="374.20" y="361.60" font-size="4.0" fill="#000" font-weight="bold" >0</text>
<line x1="379.90" y1="346.44" x2="382.70" y2="346.44" stroke="#000" stroke-width="1.1" />
<text x="366.50" y="349.04" font-size="7.0" fill="#000" font-weight="bold" textLength="7.00" lengthAdjust="spacingAndGlyphs" stroke="#000" stroke-width="0.2">10</text>
<text x="374.20" y="346.04" font-size="4.0" fill="#000" font-weight="bold" >1</text>
<line x1="379.90" y1="330.88" x2="382.70" y2="330.88" stroke="#000" stroke-width="1.1" />
<text x="366.50" y="333.48" font-size="7.0" fill="#000" font-weight="bold" textLength="7.00" lengthAdjust="spacingAndGlyphs" stroke="#000" stroke-width="0.2">10</text>
<text x="374.20" y="330.48" font-size="4.0" fill="#000" font-weight="bold" >2</text>
<line x1="379.90" y1="315.31" x2="382.70" y2="315.31" stroke="#000" stroke-width="1.1" />
<text x="366.50" y="317.91" font-size="7.0" fill="#000" font-weight="bold" textLength="7.00" lengthAdjust="spacingAndGlyphs" stroke="#000" stroke-width="0.2">10</text>
<text x="374.20" y="314.91" font-size="4.0" fill="#000" font-weight="bold" >3</text>
<line x1="379.90" y1="299.75" x2="382.70" y2="299.75" stroke="#000" stroke-width="1.1" />
<text x="366.50" y="302.35" font-size="7.0" fill="#000" font-weight="bold" textLength="7.00" lengthAdjust="spacingAndGlyphs" stroke="#000" stroke-width="0.2">10</text>
<text x="374.20" y="299.35" font-size="4.0" fill="#000" font-weight="bold" >4</text>
<line x1="379.90" y1="284.19" x2="382.70" y2="284.19" stroke="#000" stroke-width="1.1" />
<text x="366.50" y="286.79" font-size="7.0" fill="#000" font-weight="bold" textLength="7.00" lengthAdjust="spacingAndGlyphs" stroke="#000" stroke-width="0.2">10</text>
<text x="374.20" y="283.79" font-size="4.0" fill="#000" font-weight="bold" >5</text>
<line x1="379.90" y1="268.62" x2="382.70" y2="268.62" stroke="#000" stroke-width="1.1" />
<text x="366.50" y="271.23" font-size="7.0" fill="#000" font-weight="bold" textLength="7.00" lengthAdjust="spacingAndGlyphs" stroke="#000" stroke-width="0.2">10</text>
<text x="374.20" y="268.23" font-size="4.0" fill="#000" font-weight="bold" >6</text>
<line x1="379.90" y1="253.06" x2="382.70" y2="253.06" stroke="#000" stroke-width="1.1" />
<text x="366.50" y="255.66" font-size="7.0" fill="#000" font-weight="bold" textLength="7.00" lengthAdjust="spacingAndGlyphs" stroke="#000" stroke-width="0.2">10</text>
<text x="374.20" y="252.66" font-size="4.0" fill="#000" font-weight="bold" >7</text>
<line x1="379.90" y1="237.50" x2="382.70" y2="237.50" stroke="#000" stroke-width="1.1" />
<text x="366.50" y="240.10" font-size="7.0" fill="#000" font-weight="bold" textLength="7.00" lengthAdjust="spacingAndGlyphs" stroke="#000" stroke-width="0.2">10</text>
<text x="374.20" y="237.10" font-size="4.0" fill="#000" font-weight="bold" >8</text>
<line x1="399.20" y1="362.00" x2="399.20" y2="364.90" stroke="#000" stroke-width="1.1" />
<line x1="432.90" y1="362.00" x2="432.90" y2="364.90" stroke="#000" stroke-width="1.1" />
<line x1="467.20" y1="362.00" x2="467.20" y2="364.90" stroke="#000" stroke-width="1.1" />
<line x1="501.00" y1="362.00" x2="501.00" y2="364.90" stroke="#000" stroke-width="1.1" />
<text x="398.90" y="373.30" font-size="7.0" fill="#000" font-weight="bold" text-anchor="middle" >60</text>
<text x="433.20" y="373.30" font-size="7.0" fill="#000" font-weight="bold" text-anchor="middle" >102</text>
<text x="466.80" y="373.30" font-size="7.0" fill="#000" font-weight="bold" text-anchor="middle" >144</text>
<text x="501.50" y="373.30" font-size="7.0" fill="#000" font-weight="bold" text-anchor="middle" >186</text>
<text x="380.30" y="384.00" font-size="7.2" fill="#000" font-weight="bold" textLength="138.00" lengthAdjust="spacingAndGlyphs" >Days in culture before CFC plating</text>
<text x="358.50" y="290.60" font-size="7.0" fill="#000" font-weight="bold" text-anchor="middle" textLength="107.70" lengthAdjust="spacingAndGlyphs" transform="rotate(-90 358.50 290.60)" >No. of CFCs recovered</text>
<rect x="386.75" y="328.35" width="11.50" height="33.65" fill="#fff" stroke="#000" stroke-width="1.3" />
<line x1="392.50" y1="322.60" x2="392.50" y2="327.70" stroke="#000" stroke-width="1.2" />
<line x1="389.50" y1="322.60" x2="395.50" y2="322.60" stroke="#000" stroke-width="1.4" />
<rect x="399.90" y="283.20" width="12.40" height="78.80" fill="#000" />
<line x1="406.10" y1="278.90" x2="406.10" y2="283.20" stroke="#000" stroke-width="1.2" />
<line x1="403.10" y1="278.90" x2="409.10" y2="278.90" stroke="#000" stroke-width="1.4" />
<rect x="420.35" y="361.25" width="12.20" height="0.75" fill="#fff" stroke="#000" stroke-width="1.3" />
<rect x="434.20" y="259.70" width="12.40" height="102.30" fill="#000" />
<line x1="440.40" y1="252.60" x2="440.40" y2="259.70" stroke="#000" stroke-width="1.2" />
<line x1="437.40" y1="252.60" x2="443.40" y2="252.60" stroke="#000" stroke-width="1.4" />
<rect x="467.90" y="273.10" width="12.40" height="88.90" fill="#000" />
<line x1="474.10" y1="268.10" x2="474.10" y2="273.10" stroke="#000" stroke-width="1.2" />
<line x1="471.10" y1="268.10" x2="477.10" y2="268.10" stroke="#000" stroke-width="1.4" />
<rect x="501.50" y="281.50" width="12.80" height="80.50" fill="#000" />
<line x1="507.90" y1="276.50" x2="507.90" y2="281.50" stroke="#000" stroke-width="1.2" />
<line x1="504.90" y1="276.50" x2="510.90" y2="276.50" stroke="#000" stroke-width="1.4" />
<line x1="392.80" y1="275.50" x2="407.30" y2="275.50" stroke="#000" stroke-width="1.1" />
<text x="400.20" y="275.40" font-size="9" fill="#000" font-weight="bold" text-anchor="middle" >*</text>
<line x1="425.80" y1="249.20" x2="440.90" y2="249.20" stroke="#000" stroke-width="1.1" />
<text x="433.30" y="249.40" font-size="9" fill="#000" font-weight="bold" text-anchor="middle" >*</text>
<rect x="479.80" y="238.90" width="12.60" height="2.60" fill="#fff" stroke="#000" stroke-width="1.2" />
<rect x="479.10" y="248.00" width="14.00" height="4.10" fill="#000" />
<text x="498.80" y="242.50" font-size="5.9" fill="#000" font-weight="normal" stroke="#000" stroke-width="0.28" textLength="13.40" lengthAdjust="spacing" >CTL</text>
<text x="498.80" y="252.40" font-size="5.9" fill="#000" font-weight="normal" stroke="#000" stroke-width="0.28" textLength="14.40" lengthAdjust="spacingAndGlyphs" >MN1</text>
<!--FLOW-->
<rect x="57.20" y="415.50" width="105.10" height="104.00" fill="#fff" stroke="#8a8a8a" stroke-width="0.9" />
<path d="M56.1,441.6h1.1M56.1,437.4h1.1M56.1,434.5h1.1M56.1,432.1h1.1M56.1,430.3h1.1M56.1,428.7h1.1M56.1,427.3h1.1M56.1,426.1h1.1M56.1,464.8h1.1M56.1,460.8h1.1M56.1,457.9h1.1M56.1,455.7h1.1M56.1,453.9h1.1M56.1,452.3h1.1M56.1,451.0h1.1M56.1,449.8h1.1M56.1,487.7h1.1M56.1,483.6h1.1M56.1,480.8h1.1M56.1,478.6h1.1M56.1,476.8h1.1M56.1,475.3h1.1M56.1,474.0h1.1M56.1,472.8h1.1" stroke="#777" stroke-width="0.45"/>
<line x1="55.70" y1="425.00" x2="57.20" y2="425.00" stroke="#555" stroke-width="0.5" />
<text x="46.20" y="426.80" font-size="4.6" fill="#666" font-weight="normal" >10</text>
<text x="51.30" y="424.40" font-size="3.2" fill="#666" font-weight="normal" >5</text>
<line x1="55.70" y1="448.75" x2="57.20" y2="448.75" stroke="#555" stroke-width="0.5" />
<text x="46.20" y="450.55" font-size="4.6" fill="#666" font-weight="normal" >10</text>
<text x="51.30" y="448.15" font-size="3.2" fill="#666" font-weight="normal" >4</text>
<line x1="55.70" y1="471.75" x2="57.20" y2="471.75" stroke="#555" stroke-width="0.5" />
<text x="46.20" y="473.55" font-size="4.6" fill="#666" font-weight="normal" >10</text>
<text x="51.30" y="471.15" font-size="3.2" fill="#666" font-weight="normal" >3</text>
<line x1="55.70" y1="494.50" x2="57.20" y2="494.50" stroke="#555" stroke-width="0.5" />
<text x="46.20" y="496.30" font-size="4.6" fill="#666" font-weight="normal" >10</text>
<text x="51.30" y="493.90" font-size="3.2" fill="#666" font-weight="normal" >2</text>
<line x1="55.70" y1="514.50" x2="57.20" y2="514.50" stroke="#555" stroke-width="0.5" />
<text x="51.20" y="516.20" font-size="4.6" fill="#666" font-weight="normal" >0</text>
<path d="M88.4,519.5v1.1M92.6,519.5v1.1M95.6,519.5v1.1M97.9,519.5v1.1M99.7,519.5v1.1M101.3,519.5v1.1M102.7,519.5v1.1M103.9,519.5v1.1M112.2,519.5v1.1M116.5,519.5v1.1M119.4,519.5v1.1M121.8,519.5v1.1M123.7,519.5v1.1M125.3,519.5v1.1M126.7,519.5v1.1M127.9,519.5v1.1M136.2,519.5v1.1M140.5,519.5v1.1M143.4,519.5v1.1M145.8,519.5v1.1M147.7,519.5v1.1M149.3,519.5v1.1M150.7,519.5v1.1M151.9,519.5v1.1" stroke="#777" stroke-width="0.45"/>
<line x1="63.60" y1="519.50" x2="63.60" y2="521.00" stroke="#555" stroke-width="0.5" />
<text x="63.60" y="529.00" font-size="4.6" fill="#666" font-weight="normal" text-anchor="middle" >0</text>
<line x1="81.30" y1="519.50" x2="81.30" y2="521.00" stroke="#555" stroke-width="0.5" />
<text x="78.50" y="529.00" font-size="4.6" fill="#666" font-weight="normal" >10</text>
<text x="83.70" y="526.80" font-size="3.2" fill="#666" font-weight="normal" >2</text>
<line x1="105.00" y1="519.50" x2="105.00" y2="521.00" stroke="#555" stroke-width="0.5" />
<text x="102.20" y="529.00" font-size="4.6" fill="#666" font-weight="normal" >10</text>
<text x="107.40" y="526.80" font-size="3.2" fill="#666" font-weight="normal" >3</text>
<line x1="129.00" y1="519.50" x2="129.00" y2="521.00" stroke="#555" stroke-width="0.5" />
<text x="126.20" y="529.00" font-size="4.6" fill="#666" font-weight="normal" >10</text>
<text x="131.40" y="526.80" font-size="3.2" fill="#666" font-weight="normal" >4</text>
<line x1="153.00" y1="519.50" x2="153.00" y2="521.00" stroke="#555" stroke-width="0.5" />
<text x="150.20" y="529.00" font-size="4.6" fill="#666" font-weight="normal" >10</text>
<text x="155.40" y="526.80" font-size="3.2" fill="#666" font-weight="normal" >5</text>
<path d="M61.0 456.4h.01M73.2 498.6h.01M65.3 492.3h.01M122.1 461.0h.01M114.6 471.4h.01M107.8 485.0h.01M147.3 437.2h.01M71.3 471.2h.01M106.1 498.4h.01M86.5 474.6h.01M102.3 492.4h.01M73.2 474.1h.01M78.8 475.8h.01M93.0 476.6h.01M105.4 425.0h.01M118.6 456.4h.01M90.7 445.5h.01M78.2 500.3h.01M119.6 497.8h.01M67.6 445.0h.01M88.2 471.4h.01M80.4 440.4h.01M90.5 483.9h.01M93.1 472.6h.01M102.9 451.0h.01M83.2 474.4h.01M122.5 462.6h.01M95.0 452.6h.01M74.8 449.2h.01M83.2 477.4h.01M94.8 486.5h.01M74.5 450.0h.01M62.0 477.3h.01M98.7 485.6h.01M72.8 470.3h.01M83.7 482.4h.01M72.2 458.1h.01M109.3 480.7h.01M82.7 469.6h.01M122.1 442.0h.01M111.4 485.4h.01M91.5 460.2h.01M123.6 505.6h.01M116.3 493.9h.01M109.1 421.5h.01M96.2 472.1h.01M102.1 437.9h.01M72.2 475.9h.01M112.4 491.9h.01M71.8 471.9h.01M110.7 451.6h.01M59.2 458.3h.01M113.2 491.1h.01M113.8 458.4h.01M87.7 468.4h.01M84.3 440.1h.01M99.8 420.1h.01M66.2 474.9h.01M97.8 466.2h.01M61.0 435.4h.01M62.6 448.1h.01M88.0 426.0h.01M132.2 494.7h.01M91.5 445.8h.01M109.7 429.2h.01M104.2 449.7h.01M75.1 450.4h.01M108.2 437.5h.01M74.5 494.7h.01M92.2 441.7h.01M75.3 486.7h.01M99.1 502.8h.01M61.3 485.5h.01M111.4 452.8h.01M112.0 514.8h.01M98.9 507.9h.01M99.2 461.0h.01M74.8 447.6h.01M119.0 478.4h.01M112.6 517.5h.01M100.8 486.8h.01M60.8 442.9h.01M81.3 475.1h.01M64.9 456.6h.01M58.2 508.7h.01M115.1 452.8h.01M94.5 438.8h.01M80.1 453.4h.01M134.8 511.5h.01M71.2 452.4h.01M78.5 440.9h.01M110.9 501.8h.01M127.9 452.2h.01M63.0 489.9h.01M86.3 458.1h.01M70.6 417.1h.01M97.1 461.1h.01M68.7 455.9h.01M76.6 420.5h.01M117.4 497.5h.01M145.3 512.5h.01M97.9 443.8h.01M96.4 494.6h.01M98.6 436.2h.01M67.6 442.4h.01M104.5 468.6h.01M73.7 487.9h.01M73.6 435.3h.01M115.0 446.1h.01M110.8 486.4h.01M109.9 463.5h.01M106.9 428.9h.01M131.0 482.9h.01M74.4 499.1h.01M81.5 420.7h.01M73.5 447.8h.01M95.2 420.0h.01M122.5 497.7h.01M68.0 480.1h.01M92.3 480.0h.01M59.3 476.5h.01M83.0 429.3h.01M107.1 426.4h.01M62.7 467.5h.01M87.7 441.7h.01M104.2 477.8h.01M74.4 432.7h.01M62.3 438.0h.01M123.8 494.1h.01M91.0 462.3h.01M145.2 451.4h.01M121.9 461.9h.01M89.9 469.2h.01M86.1 482.6h.01M69.0 509.8h.01M86.6 491.9h.01M62.7 471.8h.01M76.6 511.5h.01M134.5 501.1h.01M114.9 446.2h.01M72.9 468.1h.01M98.8 447.5h.01M85.2 439.3h.01M123.5 422.0h.01M64.4 516.2h.01M78.8 490.5h.01M115.8 465.6h.01M103.6 454.5h.01M84.9 459.0h.01M89.6 461.0h.01M93.6 486.5h.01M80.7 506.7h.01M74.8 430.2h.01M81.0 433.7h.01M95.5 429.7h.01M147.7 479.6h.01M78.9 457.7h.01M95.5 431.4h.01M128.3 473.1h.01M128.6 464.6h.01M116.5 441.2h.01M78.1 508.6h.01M116.3 458.2h.01M95.0 485.0h.01M74.1 483.0h.01M58.9 490.9h.01M76.1 493.7h.01M69.4 462.1h.01M113.7 440.1h.01M93.7 460.2h.01M94.0 455.6h.01M69.6 509.3h.01M129.7 457.4h.01M69.3 457.0h.01M63.2 432.3h.01M104.5 503.1h.01M85.1 462.0h.01M74.4 478.7h.01M98.7 476.4h.01" stroke="#666" stroke-width="0.5" stroke-linecap="square" opacity="0.6"/>
<path d="M59.4 451.1h.01M61.6 465.5h.01M59.8 471.3h.01M60.3 464.8h.01M58.7 426.0h.01M59.8 468.3h.01M58.4 458.0h.01M63.8 479.2h.01M61.1 435.1h.01M59.8 483.3h.01M58.5 452.3h.01M61.0 427.9h.01M58.8 489.0h.01M61.1 451.8h.01M60.6 469.7h.01M60.1 458.9h.01M58.7 484.1h.01M60.1 484.4h.01M59.6 484.5h.01M59.2 476.5h.01M59.3 429.5h.01M58.7 428.2h.01M58.9 466.1h.01M60.2 442.8h.01M58.5 471.4h.01M60.5 465.4h.01M61.4 433.5h.01M61.8 441.1h.01M59.2 439.1h.01M60.1 444.1h.01M60.2 457.8h.01M58.3 475.7h.01M58.7 489.0h.01M61.1 442.4h.01M59.4 450.6h.01M59.7 493.3h.01M58.7 480.0h.01M61.3 466.7h.01M59.8 441.6h.01M59.1 465.1h.01M60.1 450.0h.01M59.4 502.1h.01M60.8 463.8h.01M58.8 467.7h.01M58.8 439.7h.01M58.6 440.9h.01M60.5 448.5h.01M61.4 449.3h.01M62.3 457.2h.01M58.8 469.5h.01M58.5 466.7h.01M61.5 482.2h.01M59.0 434.6h.01M59.3 466.2h.01M58.4 466.8h.01M59.9 494.0h.01M59.2 457.5h.01M60.5 468.5h.01M58.8 445.4h.01M61.8 470.5h.01M60.0 470.0h.01M59.8 449.2h.01M61.1 453.1h.01M59.6 461.3h.01M59.3 473.6h.01M59.3 438.7h.01M59.3 479.8h.01M61.3 455.2h.01M60.6 500.3h.01M58.7 491.5h.01M58.8 453.8h.01M58.8 449.3h.01M59.0 511.6h.01M59.2 474.7h.01M60.1 473.4h.01M59.2 453.4h.01M59.0 459.3h.01M58.6 478.2h.01M59.3 474.4h.01M58.7 445.2h.01M62.6 487.1h.01M59.1 468.2h.01M58.9 442.7h.01M58.7 482.1h.01M59.1 458.4h.01M61.9 477.8h.01M63.2 450.8h.01M58.7 469.3h.01M58.8 429.1h.01M61.7 469.5h.01M59.7 431.2h.01M59.3 465.3h.01M59.0 460.7h.01M61.1 476.6h.01M58.7 471.8h.01M59.9 486.1h.01M61.2 440.3h.01M59.1 493.6h.01M58.4 494.4h.01M63.2 437.7h.01M58.9 445.9h.01M58.4 450.4h.01M59.1 461.5h.01M58.8 465.7h.01M58.9 473.9h.01M59.3 456.8h.01M58.5 441.4h.01M59.2 481.1h.01M59.3 455.0h.01M59.7 484.9h.01M60.1 472.7h.01M59.1 455.5h.01M59.6 485.6h.01M58.8 478.2h.01M58.6 451.7h.01M60.6 429.4h.01M62.0 450.9h.01M59.3 474.4h.01M64.9 457.1h.01M61.8 497.5h.01M61.5 467.2h.01M61.6 465.8h.01M59.2 470.0h.01M61.7 444.1h.01M61.5 459.4h.01M59.9 448.6h.01M61.0 426.0h.01M59.9 476.8h.01M58.9 452.9h.01M58.4 459.4h.01M58.9 432.1h.01M59.2 450.0h.01M59.5 477.7h.01M58.7 463.8h.01M61.4 451.4h.01M61.3 492.7h.01M63.7 460.7h.01M60.9 454.8h.01M59.4 485.0h.01M58.6 426.9h.01M59.3 473.0h.01M59.0 439.4h.01M58.3 446.0h.01M58.8 448.1h.01M60.4 464.5h.01M60.1 464.1h.01M59.4 468.0h.01M61.1 466.1h.01M58.5 490.1h.01M59.6 496.0h.01M59.2 476.2h.01M60.2 477.1h.01M60.1 454.3h.01M58.8 439.7h.01M61.2 473.8h.01M60.2 462.6h.01M59.9 479.2h.01M58.7 425.1h.01M60.7 515.9h.01M63.2 436.3h.01M61.6 462.6h.01M59.1 481.9h.01M59.7 434.0h.01M59.6 450.8h.01M59.2 421.2h.01M60.7 433.1h.01M59.7 422.9h.01M60.7 464.0h.01M59.6 467.9h.01M60.3 455.5h.01M59.0 487.4h.01M58.8 489.9h.01M59.1 461.8h.01M61.2 457.5h.01M61.3 456.4h.01M59.9 452.8h.01M58.4 488.3h.01M59.2 466.8h.01M59.3 455.3h.01M59.2 457.4h.01M58.4 473.0h.01M61.2 454.0h.01M58.9 468.3h.01M59.0 461.3h.01M64.0 489.3h.01M58.8 485.4h.01M58.8 433.5h.01M60.0 458.8h.01M59.9 476.3h.01M59.6 453.0h.01M60.5 478.3h.01M62.2 468.8h.01M60.7 474.0h.01M59.6 460.8h.01M58.9 468.2h.01M60.9 472.6h.01M59.8 432.4h.01M59.1 443.6h.01M59.4 441.5h.01M58.4 495.9h.01M58.7 468.1h.01M59.5 469.6h.01M61.0 465.5h.01M64.6 451.6h.01M60.0 447.1h.01M60.5 479.1h.01M58.7 454.5h.01M58.9 493.9h.01M62.8 466.0h.01M58.9 463.9h.01M59.2 457.7h.01M58.5 460.6h.01M59.6 462.8h.01M58.3 492.7h.01M59.6 509.1h.01M60.7 438.9h.01M58.4 467.2h.01M61.1 476.4h.01M60.3 444.0h.01M59.5 449.4h.01M61.1 452.9h.01M60.5 475.2h.01M62.7 461.2h.01M58.7 460.3h.01M60.8 463.8h.01M61.0 467.2h.01M59.2 508.6h.01M60.8 465.8h.01M61.2 478.9h.01M60.4 451.7h.01M59.4 469.3h.01M58.5 455.9h.01M60.9 459.2h.01M62.9 444.1h.01M59.6 445.8h.01M58.9 471.4h.01M59.3 477.2h.01M63.0 471.5h.01M62.9 448.8h.01M59.2 468.6h.01M60.9 481.2h.01M60.6 461.5h.01M59.4 467.7h.01M61.1 485.7h.01M59.6 453.8h.01M59.1 481.6h.01M60.9 453.5h.01M59.8 473.3h.01M59.7 454.2h.01M59.9 468.5h.01M60.9 491.5h.01M59.5 449.3h.01M61.9 450.2h.01M58.7 455.9h.01" stroke="#333" stroke-width="0.5" stroke-linecap="square" opacity="0.7"/>
<path d="M57.6,461.5 a3.3,34 0 1,0 6.6,0 a3.3,34 0 1,0 -6.6,0Z M58.1,461.0 a2.8,30 0 1,0 5.6,0 a2.8,30 0 1,0 -5.6,0Z M58.6,460.5 a2.3,26 0 1,0 4.6,0 a2.3,26 0 1,0 -4.6,0Z M59.0,460.0 a1.9,22 0 1,0 3.8,0 a1.9,22 0 1,0 -3.8,0Z M59.4,460.0 a1.5,18 0 1,0 3.0,0 a1.5,18 0 1,0 -3.0,0Z" fill="none" stroke="#333" stroke-width="0.6"/>
<ellipse cx="61.0" cy="461" rx="2.0" ry="28" fill="#141414" filter="url(#bl1)"/>
<path d="M61.2 463.6h.01M63.7 454.1h.01M60.3 461.7h.01M58.9 467.2h.01M60.3 457.1h.01M59.3 444.8h.01M60.4 459.8h.01M60.9 459.5h.01M60.0 460.9h.01M60.2 469.9h.01M59.1 457.5h.01M61.1 456.8h.01M60.2 484.6h.01M62.0 475.4h.01M62.0 459.3h.01M60.1 447.6h.01M60.6 454.4h.01M61.0 465.9h.01M61.7 472.3h.01M59.3 494.0h.01M60.9 457.3h.01M62.8 462.8h.01M60.8 455.8h.01M61.2 461.9h.01M60.9 455.5h.01M59.7 446.0h.01M61.9 475.0h.01M61.2 462.6h.01M61.1 478.7h.01M61.7 453.9h.01M61.7 464.5h.01M59.0 470.0h.01M61.4 434.9h.01M60.4 442.7h.01M61.1 471.4h.01M60.2 462.4h.01M60.1 435.6h.01M61.9 450.8h.01M60.9 446.5h.01M60.7 454.4h.01M60.7 482.4h.01M61.0 453.1h.01M60.9 489.1h.01M58.6 457.6h.01M60.1 451.0h.01M60.7 482.8h.01M61.7 474.3h.01M62.3 480.3h.01M60.0 488.1h.01M62.9 476.0h.01M61.1 478.2h.01M61.5 437.5h.01M60.4 449.9h.01M60.4 467.5h.01M62.4 464.2h.01M60.8 471.4h.01M60.9 454.8h.01M62.1 476.8h.01M62.7 489.4h.01M59.5 469.6h.01M60.8 473.1h.01M61.0 468.6h.01M62.8 474.4h.01M63.5 464.6h.01M60.9 454.7h.01M61.4 464.4h.01M61.9 463.2h.01M62.1 440.5h.01M60.7 464.9h.01M61.8 462.0h.01M60.3 464.6h.01M58.3 454.1h.01M59.6 468.3h.01M61.2 470.3h.01M61.8 451.9h.01M58.7 466.1h.01M59.2 472.5h.01M61.0 471.9h.01M57.6 448.9h.01M61.6 447.4h.01M62.0 461.9h.01M58.0 447.0h.01M61.8 496.1h.01M60.8 450.2h.01M62.4 450.4h.01M61.3 470.3h.01M60.8 454.8h.01M61.1 428.8h.01M62.0 459.1h.01M61.2 447.4h.01M61.1 453.8h.01M59.6 438.6h.01M61.5 448.4h.01M61.1 458.6h.01M62.9 459.7h.01M61.0 445.3h.01M60.9 450.7h.01M60.4 448.8h.01M61.8 462.5h.01M60.8 458.4h.01M60.3 443.2h.01M62.6 469.3h.01M62.8 450.7h.01M60.6 465.7h.01M60.0 447.6h.01M62.2 464.4h.01M60.2 458.6h.01M63.9 461.0h.01M60.9 467.2h.01M62.0 466.3h.01M59.7 462.5h.01M61.0 462.5h.01M62.1 442.6h.01M61.5 459.2h.01M60.5 429.9h.01M63.5 429.2h.01M61.8 455.9h.01M60.8 457.1h.01M60.4 480.8h.01M60.8 469.4h.01M62.4 475.5h.01M60.3 455.9h.01M61.1 466.4h.01M60.2 476.3h.01M62.3 467.6h.01M60.9 465.2h.01M61.9 461.8h.01M61.6 447.7h.01M60.5 448.1h.01M61.8 440.6h.01M62.0 466.1h.01M59.9 456.7h.01M61.8 451.2h.01M64.6 465.4h.01M60.8 452.6h.01M61.7 475.0h.01M59.7 487.0h.01M61.5 466.8h.01M60.5 451.1h.01M61.8 439.9h.01M61.0 488.5h.01M59.9 466.9h.01M62.2 444.4h.01M60.8 475.5h.01M60.0 437.6h.01M61.1 454.6h.01M60.1 457.4h.01M61.5 455.7h.01M61.0 444.9h.01M60.7 493.8h.01M61.7 455.2h.01M59.8 466.0h.01M62.0 461.2h.01M59.0 438.6h.01M62.7 453.1h.01M61.2 463.6h.01M60.8 473.6h.01M60.3 456.0h.01M61.6 465.8h.01M60.9 456.1h.01M60.9 468.9h.01M62.1 426.5h.01M60.6 469.1h.01M60.8 452.1h.01M61.5 452.7h.01M62.1 421.3h.01M60.9 446.0h.01M61.2 469.3h.01M61.1 492.9h.01M61.8 451.0h.01M62.6 451.6h.01M60.1 467.6h.01M60.9 464.8h.01M61.0 452.7h.01M61.7 458.5h.01M62.6 455.5h.01M61.0 469.5h.01M61.3 471.9h.01M62.2 485.3h.01M59.8 473.6h.01M60.3 470.2h.01M60.6 463.1h.01M61.0 473.9h.01M61.3 447.2h.01M60.5 490.9h.01M62.8 464.8h.01M60.3 480.6h.01M60.8 449.9h.01M62.2 475.3h.01M61.8 466.5h.01M61.0 458.4h.01M61.4 451.7h.01M61.9 448.7h.01M61.0 486.0h.01M61.7 478.0h.01M60.1 462.6h.01M61.1 463.7h.01M59.4 450.9h.01M60.1 435.4h.01M59.9 436.0h.01M62.3 452.5h.01M60.6 458.8h.01M61.3 444.7h.01M60.1 472.1h.01M60.8 468.2h.01M60.8 463.2h.01M60.2 436.5h.01M61.9 458.0h.01M59.3 460.6h.01M61.7 443.4h.01M63.7 430.5h.01M60.2 487.7h.01M61.1 469.7h.01M59.4 455.6h.01M61.0 483.3h.01M59.3 476.5h.01M61.7 467.3h.01M60.5 464.1h.01M59.1 471.9h.01M59.7 481.4h.01M59.4 462.0h.01M60.7 457.8h.01M61.9 469.1h.01M60.6 421.6h.01M59.8 462.2h.01M60.1 455.3h.01M61.1 460.7h.01M58.5 458.4h.01M61.6 465.7h.01M61.4 462.5h.01M58.5 461.9h.01M62.2 459.1h.01M59.3 467.4h.01M60.7 453.9h.01M62.2 474.7h.01M59.3 437.4h.01M59.1 463.8h.01M59.8 467.3h.01M59.8 443.2h.01M60.8 455.0h.01M60.4 479.5h.01M60.4 459.2h.01M60.5 448.6h.01M60.8 419.3h.01M60.1 465.8h.01M61.3 462.4h.01M60.9 469.5h.01M59.9 489.7h.01M62.8 460.9h.01M59.6 462.9h.01M61.7 451.4h.01M60.2 460.1h.01M61.3 460.6h.01M61.5 471.6h.01M61.8 468.8h.01M62.4 450.3h.01M60.1 454.3h.01M63.9 480.3h.01M61.4 447.6h.01M60.1 471.5h.01M59.6 483.7h.01M63.4 470.2h.01M62.6 464.5h.01M60.9 480.1h.01M61.7 465.9h.01M62.3 460.9h.01M61.1 458.2h.01M60.5 477.1h.01M60.9 470.7h.01M61.8 482.6h.01M61.0 456.3h.01M59.7 456.6h.01M61.7 454.9h.01M59.2 464.9h.01M60.2 451.3h.01M62.2 474.0h.01M61.2 465.7h.01M61.2 447.3h.01M61.1 419.5h.01M62.0 435.4h.01M60.9 481.1h.01M59.0 460.1h.01M61.2 463.1h.01M57.8 455.0h.01M58.9 466.5h.01M62.6 434.1h.01M62.0 433.0h.01M60.5 438.1h.01M60.9 461.9h.01M61.1 470.8h.01M62.0 467.6h.01M60.2 459.2h.01M60.1 443.0h.01M60.3 472.1h.01M61.1 457.0h.01M61.2 460.7h.01M60.6 459.9h.01M61.7 454.4h.01M59.9 450.8h.01M60.9 452.7h.01M60.3 442.9h.01M59.9 464.4h.01M62.2 458.5h.01M60.6 475.2h.01M59.9 435.6h.01M61.0 477.4h.01M59.9 459.9h.01M61.6 458.7h.01M61.8 449.7h.01M62.0 449.5h.01M59.9 440.0h.01M60.8 473.5h.01M62.9 457.9h.01M60.8 471.0h.01M62.3 472.5h.01M62.5 453.9h.01M59.6 457.6h.01M62.2 456.1h.01M61.7 475.3h.01M61.9 462.8h.01M62.7 463.3h.01M61.4 471.0h.01M61.1 459.9h.01M61.6 489.6h.01M60.6 448.0h.01M61.5 478.5h.01M58.9 480.6h.01M62.7 445.0h.01M60.4 473.1h.01M61.5 464.9h.01M61.3 473.2h.01M61.1 444.2h.01M61.1 464.4h.01M61.0 447.3h.01M59.3 456.4h.01M60.4 480.9h.01M62.2 459.1h.01M59.9 429.5h.01M59.9 441.4h.01M63.1 445.0h.01M62.2 475.2h.01M62.6 451.2h.01M61.0 439.2h.01M61.2 476.6h.01M61.8 464.5h.01M61.5 465.8h.01M60.9 449.8h.01M59.5 481.0h.01M60.2 459.3h.01M59.4 433.4h.01M62.6 445.1h.01M60.6 449.2h.01M60.8 458.7h.01M61.3 471.7h.01M61.0 450.8h.01M61.5 452.6h.01M60.3 491.9h.01M59.4 462.2h.01M62.7 453.6h.01M60.2 461.5h.01M60.5 443.5h.01M60.1 468.5h.01M60.4 474.6h.01M61.0 452.8h.01M61.7 475.0h.01M59.9 456.9h.01M61.2 465.0h.01M60.3 450.6h.01M62.2 449.8h.01M59.7 440.0h.01M61.0 464.1h.01M61.7 457.0h.01M59.6 457.5h.01M61.0 445.2h.01M61.1 444.6h.01M60.1 452.1h.01M60.7 467.6h.01M61.9 465.2h.01M61.2 451.4h.01M60.5 465.1h.01M60.7 485.6h.01M61.4 462.5h.01M62.2 489.3h.01M61.7 467.1h.01M61.7 479.6h.01M62.5 453.6h.01M59.4 477.4h.01M59.5 444.4h.01M58.6 464.4h.01M61.8 456.3h.01M58.6 433.0h.01M60.9 441.9h.01M61.7 476.8h.01M59.5 467.9h.01M60.2 479.1h.01M60.6 463.7h.01M61.7 420.3h.01M59.4 464.5h.01M61.2 453.0h.01M61.6 453.9h.01M61.1 454.7h.01M61.1 450.2h.01M62.2 447.5h.01M61.1 478.3h.01M60.9 467.2h.01M60.6 451.8h.01M61.6 455.0h.01M60.6 474.6h.01M61.6 466.3h.01M61.0 463.7h.01M62.0 443.8h.01M60.1 454.8h.01M61.0 445.0h.01M61.3 434.1h.01M61.3 473.4h.01M62.0 456.3h.01M61.3 455.1h.01M61.8 447.5h.01M62.9 471.5h.01M61.8 490.2h.01M59.8 469.1h.01M59.5 473.9h.01M61.6 443.5h.01M60.5 463.4h.01M61.2 463.9h.01M60.7 481.7h.01M62.2 461.0h.01M62.1 447.7h.01M59.8 460.0h.01M61.2 454.8h.01M60.6 481.1h.01M59.6 470.2h.01M61.6 465.7h.01M60.8 463.4h.01M61.3 472.7h.01M63.4 454.0h.01M62.2 448.0h.01M62.0 434.5h.01M60.5 477.5h.01M59.7 467.9h.01M62.2 469.8h.01M60.6 461.4h.01M60.9 484.1h.01M60.5 447.1h.01M61.0 477.7h.01M63.3 449.0h.01M60.6 454.5h.01M60.6 443.8h.01M61.1 462.1h.01M61.2 456.7h.01M59.7 466.8h.01M59.1 452.6h.01M60.3 441.3h.01M60.7 468.7h.01M60.1 478.8h.01M59.9 471.0h.01M59.9 460.0h.01M60.5 466.4h.01M60.8 436.9h.01M59.3 456.0h.01M60.3 476.9h.01M61.2 467.1h.01M60.8 448.7h.01M59.5 472.7h.01M60.5 458.8h.01M60.9 470.9h.01M61.6 441.0h.01M59.2 453.3h.01M61.6 465.2h.01M60.4 464.9h.01M61.1 468.4h.01M61.6 460.5h.01M60.0 457.9h.01M60.1 467.3h.01M60.8 472.8h.01M61.6 439.5h.01M60.3 456.2h.01M59.5 457.8h.01M60.2 462.9h.01M61.2 474.8h.01M62.0 442.1h.01M60.4 468.1h.01M60.5 436.5h.01M60.7 450.1h.01M60.7 453.4h.01M59.9 456.9h.01M60.4 452.1h.01M61.1 453.5h.01M61.0 455.9h.01M60.9 456.9h.01M59.9 434.9h.01M60.3 441.1h.01M60.1 454.6h.01M61.9 468.1h.01M62.3 474.7h.01M61.2 500.5h.01M62.4 462.2h.01M60.6 449.7h.01M60.6 463.2h.01M59.6 470.2h.01" stroke="#222" stroke-width="0.5" stroke-linecap="square" opacity="0.8"/>
<path d="M58.6,416.5 Q62.5,415.8 62.6,420 Q62,426 59.5,428 M59,494 Q62,500 60.5,510" fill="none" stroke="#555" stroke-width="0.5"/>
<path d="M64.2,443.5 L64.7,442.7 L65.6,442.0 L66.8,441.3 L68.0,440.7 L69.3,440.2 L70.4,439.7 L71.4,439.3 L72.3,439.0 L73.3,438.8 L74.2,438.7 L75.3,438.6 L76.5,438.5 L77.9,438.5 L79.4,438.5 L81.0,438.6 L82.7,438.7 L84.3,438.8 L85.8,439.0 L87.2,439.2 L88.6,439.4 L89.9,439.6 L91.2,439.9 L92.4,440.2 L93.5,440.5 L94.6,440.8 L95.6,441.1 L96.5,441.5 L97.3,441.8 L98.1,442.3 L98.8,442.8 L99.4,443.4 L99.8,443.9 L100.2,444.6 L100.6,445.3 L100.9,446.3 L101.2,447.4 L101.5,448.9 L101.9,450.6 L102.2,452.5 L102.5,454.5 L102.6,456.3 L102.7,458.0 L102.6,459.5 L102.5,460.8 L102.2,462.1 L101.9,463.3 L101.6,464.5 L101.2,465.8 L100.8,467.1 L100.3,468.4 L99.8,469.8 L99.2,471.0 L98.6,472.3 L98.0,473.5 L97.4,474.6 L96.7,475.8 L96.0,476.8 L95.3,477.9 L94.5,478.8 L93.5,479.7 L92.4,480.5 L91.2,481.3 L89.9,481.9 L88.5,482.5 L87.1,483.1 L85.8,483.5 L84.5,483.8 L83.2,484.1 L81.9,484.2 L80.6,484.3 L79.3,484.3 L78.0,484.3 L76.7,484.2 L75.3,484.1 L74.0,483.9 L72.7,483.6 L71.5,483.3 L70.4,482.8 L69.5,482.2 L68.7,481.5 L68.1,480.8 L67.5,479.9 L67.0,479.0 L66.5,478.0 L66.1,476.9 L65.7,475.7 L65.4,474.4 L65.2,473.1 L65.0,471.8 L65.0,470.5 L65.1,469.2 L65.4,468.0 L65.7,466.7 L66.1,465.4 L66.3,464.1 L66.5,462.8 L66.5,461.5 L66.4,460.1 L66.2,458.8 L66.0,457.5 L65.9,456.2 L65.8,455.0 L65.9,453.9 L66.0,452.8 L66.2,451.9 L66.4,450.9 L66.5,450.0 L66.5,449.0 L66.2,448.0 L65.6,447.1 L65.0,446.1 L64.4,445.2 L64.1,444.3Z M67.1,444.9 L67.5,444.2 L68.3,443.5 L69.3,442.8 L70.4,442.2 L71.6,441.7 L72.6,441.3 L73.6,440.9 L74.5,440.7 L75.4,440.5 L76.3,440.4 L77.3,440.4 L78.5,440.4 L79.8,440.4 L81.3,440.5 L82.8,440.6 L84.3,440.7 L85.8,440.8 L87.1,440.9 L88.3,441.0 L89.5,441.1 L90.6,441.1 L91.7,441.2 L92.8,441.2 L93.8,441.4 L94.8,441.5 L95.7,441.7 L96.6,442.0 L97.4,442.3 L98.2,442.8 L98.9,443.4 L99.4,444.1 L99.9,444.7 L100.3,445.4 L100.6,446.3 L100.9,447.2 L101.1,448.4 L101.4,449.9 L101.7,451.7 L102.0,453.7 L102.1,455.6 L102.2,457.2 L102.4,458.4 L102.5,459.6 L102.4,460.8 L102.0,462.0 L101.8,463.1 L101.4,464.0 L101.1,465.0 L100.7,466.2 L100.3,467.5 L99.9,468.9 L99.3,470.3 L98.7,471.6 L98.1,472.9 L97.5,474.1 L96.8,475.3 L96.1,476.5 L95.4,477.6 L94.5,478.7 L93.5,479.7 L92.4,480.5 L91.2,481.3 L89.9,481.9 L88.6,482.4 L87.3,482.8 L86.1,483.0 L85.0,483.1 L83.9,483.1 L82.8,483.0 L81.8,482.9 L80.8,482.6 L79.8,482.4 L78.8,482.1 L77.8,481.8 L76.8,481.5 L75.8,481.1 L74.9,480.7 L74.0,480.2 L73.3,479.6 L72.7,479.0 L72.2,478.3 L71.7,477.5 L71.3,476.7 L70.9,475.8 L70.5,474.9 L70.1,473.8 L69.8,472.7 L69.6,471.6 L69.5,470.4 L69.4,469.3 L69.5,468.2 L69.8,467.1 L70.1,466.0 L70.4,464.8 L70.7,463.7 L70.9,462.6 L70.9,461.4 L70.8,460.3 L70.6,459.1 L70.4,457.9 L70.1,456.8 L70.0,455.7 L69.9,454.7 L69.9,453.8 L69.9,452.8 L70.0,451.9 L69.9,451.1 L69.8,450.1 L69.4,449.2 L68.8,448.3 L68.1,447.4 L67.5,446.5 L67.1,445.7Z M69.2,445.9 L69.5,445.2 L70.2,444.5 L71.1,443.8 L72.1,443.3 L73.2,442.8 L74.2,442.4 L75.1,442.1 L75.9,441.9 L76.8,441.7 L77.7,441.6 L78.7,441.6 L79.9,441.7 L81.2,441.8 L82.7,442.0 L84.2,442.2 L85.7,442.5 L87.2,442.8 L88.6,443.1 L89.8,443.4 L91.0,443.7 L92.1,444.1 L93.1,444.4 L94.1,444.7 L95.0,445.0 L95.9,445.3 L96.7,445.6 L97.4,446.0 L98.1,446.3 L98.7,446.7 L99.2,447.1 L99.6,447.6 L100.0,448.1 L100.3,448.6 L100.6,449.2 L100.8,449.9 L101.0,450.7 L101.3,451.8 L101.5,453.1 L101.8,454.5 L102.0,455.8 L102.3,457.1 L102.4,458.4 L102.3,459.7 L102.1,460.8 L101.8,461.8 L101.7,462.9 L101.4,464.0 L101.1,465.1 L100.7,466.3 L100.3,467.5 L99.9,468.6 L99.4,469.7 L98.9,470.8 L98.4,471.7 L97.8,472.7 L97.3,473.5 L96.7,474.4 L96.1,475.1 L95.5,475.8 L94.8,476.4 L93.9,476.8 L93.1,477.2 L92.1,477.5 L91.2,477.7 L90.3,477.9 L89.3,478.1 L88.5,478.2 L87.5,478.3 L86.6,478.4 L85.6,478.4 L84.6,478.4 L83.6,478.5 L82.5,478.5 L81.4,478.5 L80.2,478.5 L79.0,478.5 L77.9,478.3 L76.8,478.1 L75.9,477.8 L75.1,477.4 L74.4,476.9 L73.7,476.4 L73.1,475.7 L72.5,475.0 L72.1,474.1 L71.7,473.2 L71.4,472.2 L71.2,471.1 L71.1,469.9 L71.2,468.8 L71.4,467.8 L71.8,466.7 L72.3,465.6 L72.8,464.5 L73.2,463.5 L73.5,462.4 L73.6,461.4 L73.6,460.3 L73.4,459.3 L73.2,458.2 L73.0,457.2 L72.7,456.2 L72.6,455.3 L72.5,454.4 L72.5,453.5 L72.4,452.7 L72.3,451.8 L72.0,450.9 L71.6,450.1 L70.9,449.2 L70.3,448.3 L69.7,447.5 L69.3,446.7Z M73.4,447.9 L74.0,447.5 L74.9,447.1 L76.1,446.8 L77.3,446.5 L78.5,446.3 L79.6,446.2 L80.5,446.1 L81.3,446.1 L82.1,446.1 L83.0,446.1 L83.8,446.2 L84.8,446.2 L85.8,446.4 L86.9,446.5 L88.0,446.6 L89.1,446.7 L90.1,446.7 L90.9,446.7 L91.7,446.6 L92.5,446.5 L93.3,446.4 L94.0,446.3 L94.7,446.3 L95.5,446.2 L96.2,446.2 L96.8,446.3 L97.5,446.4 L98.1,446.6 L98.7,446.9 L99.2,447.2 L99.7,447.7 L100.0,448.1 L100.3,448.6 L100.6,449.2 L100.8,449.9 L101.0,450.8 L101.3,451.9 L101.5,453.3 L101.8,454.7 L101.9,456.2 L102.1,457.5 L102.1,458.8 L102.0,459.9 L101.9,460.9 L101.8,461.8 L101.6,462.8 L101.3,463.5 L101.0,464.3 L100.7,465.2 L100.4,466.1 L100.0,467.1 L99.6,468.0 L99.2,468.9 L98.7,469.8 L98.3,470.6 L97.8,471.4 L97.4,472.1 L96.8,472.9 L96.2,473.5 L95.6,474.2 L94.8,474.7 L94.0,475.2 L93.0,475.7 L92.1,476.1 L91.2,476.4 L90.2,476.7 L89.3,476.9 L88.4,477.1 L87.5,477.3 L86.5,477.4 L85.6,477.4 L84.6,477.5 L83.6,477.5 L82.5,477.5 L81.5,477.4 L80.5,477.3 L79.5,477.1 L78.7,476.8 L78.0,476.4 L77.3,476.0 L76.8,475.5 L76.3,474.9 L75.9,474.2 L75.5,473.5 L75.2,472.7 L74.9,471.8 L74.7,470.9 L74.6,469.9 L74.5,468.9 L74.5,468.0 L74.6,467.0 L74.8,466.1 L75.0,465.1 L75.3,464.2 L75.4,463.3 L75.4,462.3 L75.3,461.4 L75.1,460.4 L74.8,459.3 L74.5,458.3 L74.2,457.4 L74.0,456.4 L74.0,455.6 L74.1,454.7 L74.2,454.0 L74.4,453.2 L74.5,452.5 L74.5,451.8 L74.3,451.1 L74.0,450.4 L73.6,449.7 L73.3,449.1 L73.2,448.5Z M79.1,450.7 L79.4,450.2 L79.9,449.8 L80.5,449.3 L81.2,448.9 L81.9,448.6 L82.5,448.3 L83.0,448.0 L83.5,447.8 L84.0,447.6 L84.6,447.5 L85.1,447.3 L85.8,447.2 L86.5,447.1 L87.3,447.0 L88.2,446.8 L89.1,446.7 L90.0,446.6 L90.9,446.6 L91.7,446.6 L92.5,446.6 L93.4,446.7 L94.2,446.8 L95.0,447.0 L95.8,447.2 L96.5,447.5 L97.2,447.9 L97.9,448.2 L98.5,448.6 L99.0,449.0 L99.4,449.5 L99.8,449.9 L100.1,450.3 L100.3,450.8 L100.5,451.3 L100.7,451.9 L100.9,452.6 L101.1,453.5 L101.3,454.6 L101.5,455.8 L101.7,456.9 L101.9,458.0 L101.9,459.1 L101.7,460.1 L101.8,460.9 L101.7,461.7 L101.4,462.4 L101.1,463.1 L100.9,463.9 L100.7,464.8 L100.4,465.7 L100.0,466.6 L99.7,467.4 L99.3,468.2 L98.9,469.0 L98.5,469.7 L98.1,470.3 L97.7,471.0 L97.2,471.6 L96.7,472.1 L96.2,472.6 L95.5,473.0 L94.8,473.4 L94.0,473.7 L93.2,474.1 L92.4,474.4 L91.5,474.7 L90.7,475.0 L89.8,475.2 L88.9,475.4 L88.0,475.6 L87.1,475.8 L86.1,475.9 L85.1,476.0 L84.1,476.1 L83.0,476.1 L82.0,476.0 L81.1,475.9 L80.3,475.7 L79.6,475.3 L79.0,474.9 L78.5,474.4 L78.0,473.9 L77.7,473.2 L77.4,472.5 L77.2,471.8 L77.1,470.9 L77.1,470.0 L77.1,469.0 L77.3,468.1 L77.5,467.2 L77.8,466.3 L78.3,465.4 L78.7,464.5 L79.2,463.7 L79.6,462.9 L79.9,462.1 L80.0,461.3 L80.1,460.5 L80.1,459.7 L80.1,458.9 L80.0,458.2 L80.0,457.5 L80.1,456.8 L80.2,456.2 L80.3,455.6 L80.4,455.0 L80.5,454.5 L80.5,453.9 L80.3,453.4 L79.9,452.8 L79.6,452.2 L79.2,451.7 L79.0,451.1Z M80.1,451.2 L80.4,450.8 L81.0,450.4 L81.7,450.1 L82.5,449.8 L83.3,449.5 L84.0,449.3 L84.6,449.2 L85.2,449.0 L85.7,449.0 L86.3,448.9 L86.9,448.9 L87.6,448.9 L88.3,448.9 L89.1,448.9 L90.0,448.9 L90.9,448.9 L91.7,449.0 L92.5,449.0 L93.2,449.1 L94.0,449.2 L94.7,449.3 L95.4,449.4 L96.0,449.6 L96.7,449.8 L97.3,450.0 L97.8,450.2 L98.3,450.5 L98.8,450.7 L99.2,451.0 L99.6,451.4 L99.9,451.7 L100.2,452.0 L100.4,452.4 L100.5,452.8 L100.7,453.3 L100.9,453.9 L101.0,454.7 L101.2,455.6 L101.4,456.6 L101.5,457.6 L101.6,458.6 L101.6,459.5 L101.6,460.2 L101.7,460.9 L101.4,461.6 L101.2,462.2 L101.1,462.8 L100.9,463.6 L100.7,464.3 L100.4,465.1 L100.1,465.8 L99.8,466.5 L99.5,467.2 L99.1,467.9 L98.8,468.5 L98.4,469.1 L98.0,469.7 L97.6,470.3 L97.2,470.8 L96.6,471.3 L96.0,471.8 L95.4,472.2 L94.6,472.6 L93.8,473.0 L93.0,473.3 L92.3,473.6 L91.5,473.8 L90.8,474.0 L90.0,474.1 L89.3,474.1 L88.6,474.1 L87.9,474.1 L87.2,474.0 L86.5,473.9 L85.8,473.7 L85.2,473.5 L84.6,473.2 L84.2,472.8 L83.9,472.4 L83.6,471.9 L83.5,471.4 L83.4,470.8 L83.3,470.2 L83.3,469.6 L83.3,468.9 L83.3,468.3 L83.4,467.5 L83.5,466.8 L83.5,466.2 L83.6,465.5 L83.7,464.9 L83.8,464.3 L83.9,463.7 L83.9,463.1 L83.8,462.5 L83.7,461.9 L83.4,461.2 L83.0,460.6 L82.6,459.8 L82.2,459.1 L81.8,458.4 L81.6,457.7 L81.4,457.1 L81.3,456.5 L81.3,455.9 L81.4,455.3 L81.4,454.8 L81.3,454.2 L81.1,453.7 L80.8,453.1 L80.4,452.6 L80.1,452.1 L80.0,451.6Z M84.6,453.3 L84.9,453.0 L85.3,452.7 L85.9,452.5 L86.5,452.2 L87.0,452.0 L87.5,451.8 L87.9,451.6 L88.3,451.5 L88.7,451.4 L89.1,451.3 L89.5,451.2 L90.0,451.1 L90.5,451.1 L91.1,451.0 L91.8,451.0 L92.5,451.0 L93.2,451.0 L93.8,451.0 L94.5,451.1 L95.1,451.3 L95.8,451.5 L96.4,451.7 L97.0,451.9 L97.5,452.2 L98.0,452.5 L98.4,452.7 L98.9,453.0 L99.2,453.2 L99.5,453.5 L99.8,453.7 L100.1,454.0 L100.2,454.2 L100.4,454.4 L100.5,454.7 L100.7,455.1 L100.8,455.5 L100.9,456.0 L101.1,456.7 L101.2,457.4 L101.4,458.1 L101.5,458.8 L101.5,459.6 L101.5,460.3 L101.3,460.9 L101.3,461.5 L101.1,462.0 L101.0,462.6 L100.8,463.3 L100.6,463.9 L100.4,464.6 L100.2,465.1 L99.9,465.7 L99.6,466.2 L99.4,466.7 L99.1,467.1 L98.8,467.6 L98.5,468.0 L98.2,468.4 L97.9,468.7 L97.5,469.0 L97.1,469.2 L96.6,469.4 L96.1,469.7 L95.6,469.8 L95.0,470.0 L94.5,470.2 L94.0,470.3 L93.4,470.4 L92.9,470.5 L92.3,470.6 L91.8,470.6 L91.2,470.6 L90.6,470.6 L90.0,470.6 L89.4,470.6 L88.8,470.5 L88.3,470.4 L87.8,470.2 L87.4,470.0 L87.0,469.7 L86.7,469.4 L86.4,469.1 L86.2,468.7 L85.9,468.3 L85.7,467.9 L85.4,467.4 L85.2,466.8 L85.0,466.3 L84.9,465.8 L84.7,465.2 L84.7,464.7 L84.7,464.1 L84.7,463.6 L84.7,463.0 L84.8,462.4 L84.7,461.8 L84.6,461.2 L84.5,460.6 L84.4,460.0 L84.3,459.3 L84.3,458.8 L84.3,458.2 L84.4,457.7 L84.6,457.2 L84.8,456.8 L85.0,456.4 L85.1,456.0 L85.2,455.6 L85.1,455.2 L85.0,454.8 L84.7,454.4 L84.6,454.0 L84.5,453.6Z M88.1,455.0 L88.4,454.8 L88.7,454.6 L89.2,454.4 L89.7,454.2 L90.1,454.1 L90.5,453.9 L90.8,453.8 L91.2,453.7 L91.5,453.7 L91.8,453.6 L92.2,453.6 L92.6,453.6 L93.0,453.6 L93.5,453.6 L94.1,453.6 L94.6,453.6 L95.1,453.7 L95.6,453.7 L96.1,453.8 L96.5,453.8 L97.0,453.9 L97.4,454.0 L97.8,454.1 L98.2,454.2 L98.5,454.2 L98.8,454.3 L99.1,454.3 L99.4,454.4 L99.7,454.5 L99.9,454.6 L100.1,454.7 L100.3,454.8 L100.4,455.0 L100.5,455.3 L100.6,455.6 L100.8,455.9 L100.9,456.4 L101.0,457.1 L101.1,457.8 L101.2,458.5 L101.3,459.3 L101.2,460.0 L101.2,460.5 L101.2,460.9 L101.1,461.4 L101.0,461.8 L100.9,462.3 L100.7,462.7 L100.6,463.0 L100.4,463.4 L100.3,463.8 L100.1,464.2 L99.9,464.5 L99.7,464.9 L99.5,465.2 L99.3,465.6 L99.1,465.9 L98.9,466.3 L98.6,466.6 L98.3,466.9 L97.9,467.3 L97.5,467.6 L97.0,467.9 L96.4,468.3 L95.9,468.6 L95.4,468.8 L94.8,469.1 L94.3,469.3 L93.8,469.4 L93.2,469.5 L92.7,469.6 L92.2,469.6 L91.7,469.6 L91.2,469.5 L90.7,469.5 L90.2,469.3 L89.8,469.2 L89.5,469.0 L89.2,468.7 L89.0,468.4 L88.8,468.1 L88.7,467.8 L88.6,467.4 L88.5,467.0 L88.4,466.6 L88.3,466.1 L88.3,465.7 L88.2,465.2 L88.2,464.7 L88.2,464.3 L88.2,463.9 L88.3,463.4 L88.3,463.0 L88.4,462.5 L88.4,462.1 L88.4,461.6 L88.4,461.2 L88.3,460.7 L88.2,460.2 L88.1,459.7 L88.1,459.3 L88.1,458.9 L88.1,458.5 L88.3,458.1 L88.4,457.8 L88.5,457.4 L88.6,457.1 L88.7,456.8 L88.6,456.5 L88.5,456.2 L88.3,455.9 L88.1,455.6 L88.1,455.3Z M92.2,457.0 L92.3,456.8 L92.4,456.6 L92.6,456.4 L92.9,456.2 L93.1,456.0 L93.3,455.9 L93.4,455.7 L93.6,455.6 L93.7,455.5 L93.9,455.4 L94.1,455.3 L94.3,455.2 L94.6,455.1 L94.9,455.1 L95.3,455.0 L95.7,455.0 L96.1,455.0 L96.5,455.0 L96.8,455.0 L97.2,455.1 L97.6,455.1 L98.0,455.3 L98.3,455.4 L98.6,455.5 L98.9,455.6 L99.2,455.8 L99.4,455.9 L99.7,456.0 L99.9,456.2 L100.1,456.3 L100.2,456.5 L100.3,456.6 L100.4,456.8 L100.5,457.0 L100.6,457.2 L100.7,457.5 L100.8,457.9 L100.8,458.4 L100.9,458.9 L101.0,459.4 L101.0,459.9 L101.0,460.3 L101.0,460.6 L101.0,461.0 L101.0,461.3 L100.8,461.5 L100.8,461.8 L100.7,462.2 L100.6,462.5 L100.5,462.9 L100.3,463.2 L100.2,463.6 L100.0,463.9 L99.9,464.2 L99.7,464.5 L99.5,464.8 L99.3,465.1 L99.1,465.4 L98.9,465.7 L98.7,465.9 L98.4,466.1 L98.0,466.4 L97.7,466.6 L97.3,466.7 L96.9,466.9 L96.6,467.0 L96.2,467.1 L95.9,467.1 L95.6,467.2 L95.2,467.2 L94.9,467.1 L94.6,467.1 L94.3,467.0 L94.0,467.0 L93.7,466.9 L93.4,466.8 L93.1,466.7 L92.9,466.5 L92.7,466.4 L92.5,466.2 L92.4,466.0 L92.2,465.7 L92.1,465.5 L92.0,465.3 L91.9,465.0 L91.8,464.7 L91.6,464.4 L91.5,464.1 L91.5,463.8 L91.4,463.4 L91.4,463.1 L91.4,462.8 L91.5,462.5 L91.6,462.1 L91.7,461.8 L91.7,461.5 L91.8,461.1 L91.8,460.8 L91.9,460.4 L91.9,460.1 L92.0,459.8 L92.1,459.5 L92.2,459.3 L92.3,459.1 L92.4,458.8 L92.5,458.6 L92.6,458.4 L92.6,458.2 L92.6,458.0 L92.5,457.8 L92.4,457.6 L92.2,457.4 L92.2,457.2Z M94.4,458.1 L94.4,457.9 L94.6,457.8 L94.7,457.6 L94.9,457.5 L95.1,457.4 L95.3,457.3 L95.4,457.2 L95.6,457.2 L95.7,457.1 L95.9,457.1 L96.1,457.1 L96.3,457.1 L96.6,457.1 L96.9,457.1 L97.2,457.2 L97.5,457.2 L97.8,457.3 L98.1,457.4 L98.4,457.5 L98.6,457.6 L98.9,457.7 L99.1,457.8 L99.3,457.9 L99.5,457.9 L99.6,458.0 L99.8,458.0 L99.9,458.1 L100.0,458.1 L100.1,458.1 L100.2,458.2 L100.3,458.3 L100.4,458.3 L100.5,458.4 L100.5,458.5 L100.6,458.7 L100.6,458.8 L100.7,459.1 L100.7,459.3 L100.8,459.6 L100.8,460.0 L100.8,460.3 L100.8,460.5 L100.9,460.7 L100.8,461.0 L100.8,461.2 L100.7,461.4 L100.7,461.6 L100.6,461.8 L100.5,462.0 L100.5,462.2 L100.4,462.4 L100.3,462.6 L100.2,462.8 L100.1,463.0 L100.0,463.2 L99.9,463.4 L99.8,463.5 L99.7,463.7 L99.5,463.9 L99.4,464.0 L99.2,464.2 L99.0,464.3 L98.7,464.5 L98.5,464.6 L98.3,464.7 L98.0,464.8 L97.8,464.8 L97.6,464.8 L97.4,464.9 L97.2,464.9 L97.0,464.8 L96.8,464.8 L96.6,464.8 L96.4,464.7 L96.3,464.7 L96.1,464.6 L95.9,464.5 L95.8,464.4 L95.7,464.3 L95.6,464.2 L95.5,464.0 L95.5,463.9 L95.4,463.7 L95.4,463.6 L95.3,463.4 L95.3,463.2 L95.2,463.0 L95.2,462.8 L95.2,462.6 L95.1,462.4 L95.1,462.2 L95.2,462.1 L95.2,461.9 L95.2,461.7 L95.3,461.5 L95.3,461.3 L95.2,461.1 L95.2,460.9 L95.2,460.7 L95.1,460.4 L95.1,460.2 L95.0,460.1 L95.0,459.9 L95.0,459.7 L95.0,459.5 L95.0,459.4 L95.0,459.2 L94.9,459.0 L94.9,458.9 L94.7,458.7 L94.6,458.5 L94.5,458.4 L94.4,458.2Z" fill="none" stroke="#4a4a4a" stroke-width="0.55"/>
<path d="M101,449 Q106,452 107,458 Q106,465 102,468" fill="none" stroke="#555" stroke-width="0.5"/>
<path d="M59,417 Q63,416 63,421 Q61,426 59,424" fill="none" stroke="#555" stroke-width="0.5"/>
<rect x="57.20" y="542.40" width="105.10" height="104.60" fill="#fff" stroke="#8a8a8a" stroke-width="0.9" />
<path d="M56.1,568.1h1.1M56.1,564.0h1.1M56.1,561.2h1.1M56.1,558.9h1.1M56.1,557.1h1.1M56.1,555.6h1.1M56.1,554.2h1.1M56.1,553.1h1.1M56.1,591.1h1.1M56.1,587.0h1.1M56.1,584.2h1.1M56.1,581.9h1.1M56.1,580.1h1.1M56.1,578.6h1.1M56.1,577.2h1.1M56.1,576.1h1.1M56.1,614.8h1.1M56.1,610.5h1.1M56.1,607.6h1.1M56.1,605.2h1.1M56.1,603.3h1.1M56.1,601.7h1.1M56.1,600.3h1.1M56.1,599.1h1.1" stroke="#777" stroke-width="0.45"/>
<line x1="55.70" y1="552.00" x2="57.20" y2="552.00" stroke="#555" stroke-width="0.5" />
<text x="46.20" y="553.80" font-size="4.6" fill="#666" font-weight="normal" >10</text>
<text x="51.30" y="551.40" font-size="3.2" fill="#666" font-weight="normal" >5</text>
<line x1="55.70" y1="575.00" x2="57.20" y2="575.00" stroke="#555" stroke-width="0.5" />
<text x="46.20" y="576.80" font-size="4.6" fill="#666" font-weight="normal" >10</text>
<text x="51.30" y="574.40" font-size="3.2" fill="#666" font-weight="normal" >4</text>
<line x1="55.70" y1="598.00" x2="57.20" y2="598.00" stroke="#555" stroke-width="0.5" />
<text x="46.20" y="599.80" font-size="4.6" fill="#666" font-weight="normal" >10</text>
<text x="51.30" y="597.40" font-size="3.2" fill="#666" font-weight="normal" >3</text>
<line x1="55.70" y1="622.00" x2="57.20" y2="622.00" stroke="#555" stroke-width="0.5" />
<text x="46.20" y="623.80" font-size="4.6" fill="#666" font-weight="normal" >10</text>
<text x="51.30" y="621.40" font-size="3.2" fill="#666" font-weight="normal" >2</text>
<line x1="55.70" y1="642.00" x2="57.20" y2="642.00" stroke="#555" stroke-width="0.5" />
<text x="51.20" y="643.70" font-size="4.6" fill="#666" font-weight="normal" >0</text>
<path d="M88.4,647.0v1.1M92.6,647.0v1.1M95.6,647.0v1.1M97.9,647.0v1.1M99.7,647.0v1.1M101.3,647.0v1.1M102.7,647.0v1.1M103.9,647.0v1.1M112.2,647.0v1.1M116.5,647.0v1.1M119.4,647.0v1.1M121.8,647.0v1.1M123.7,647.0v1.1M125.3,647.0v1.1M126.7,647.0v1.1M127.9,647.0v1.1M136.2,647.0v1.1M140.5,647.0v1.1M143.4,647.0v1.1M145.8,647.0v1.1M147.7,647.0v1.1M149.3,647.0v1.1M150.7,647.0v1.1M151.9,647.0v1.1" stroke="#777" stroke-width="0.45"/>
<line x1="63.60" y1="647.00" x2="63.60" y2="648.50" stroke="#555" stroke-width="0.5" />
<text x="63.60" y="656.50" font-size="4.6" fill="#666" font-weight="normal" text-anchor="middle" >0</text>
<line x1="81.30" y1="647.00" x2="81.30" y2="648.50" stroke="#555" stroke-width="0.5" />
<text x="78.50" y="656.50" font-size="4.6" fill="#666" font-weight="normal" >10</text>
<text x="83.70" y="654.30" font-size="3.2" fill="#666" font-weight="normal" >2</text>
<line x1="105.00" y1="647.00" x2="105.00" y2="648.50" stroke="#555" stroke-width="0.5" />
<text x="102.20" y="656.50" font-size="4.6" fill="#666" font-weight="normal" >10</text>
<text x="107.40" y="654.30" font-size="3.2" fill="#666" font-weight="normal" >3</text>
<line x1="129.00" y1="647.00" x2="129.00" y2="648.50" stroke="#555" stroke-width="0.5" />
<text x="126.20" y="656.50" font-size="4.6" fill="#666" font-weight="normal" >10</text>
<text x="131.40" y="654.30" font-size="3.2" fill="#666" font-weight="normal" >4</text>
<line x1="153.00" y1="647.00" x2="153.00" y2="648.50" stroke="#555" stroke-width="0.5" />
<text x="150.20" y="656.50" font-size="4.6" fill="#666" font-weight="normal" >10</text>
<text x="155.40" y="654.30" font-size="3.2" fill="#666" font-weight="normal" >5</text>
<path d="M116.6 574.3h.01M108.9 616.3h.01M118.3 578.2h.01M67.8 563.0h.01M104.7 571.8h.01M101.3 608.9h.01M105.5 568.6h.01M99.3 570.9h.01M63.6 608.0h.01M93.9 570.4h.01M58.5 580.8h.01M115.1 572.0h.01M80.8 611.5h.01M126.1 596.6h.01M120.3 599.3h.01M94.1 626.5h.01M84.0 566.8h.01M120.9 581.4h.01M61.4 609.4h.01M128.7 597.8h.01M85.8 568.4h.01M106.9 567.0h.01M126.7 587.5h.01M59.1 600.5h.01M119.8 606.0h.01M75.9 564.7h.01M125.6 587.1h.01M100.9 572.0h.01M113.7 573.4h.01M88.9 631.0h.01M110.9 605.5h.01M118.2 601.2h.01M100.0 615.1h.01M59.6 607.5h.01M71.1 624.5h.01M73.3 568.5h.01M110.1 565.4h.01M121.1 593.6h.01M107.7 609.9h.01M121.7 580.1h.01M84.5 566.6h.01M111.5 567.8h.01M122.4 599.0h.01M61.2 574.4h.01M97.3 571.9h.01M92.6 566.6h.01M57.9 595.3h.01M101.4 573.3h.01M103.4 609.9h.01M122.5 601.6h.01M121.1 602.0h.01M80.2 566.6h.01M121.5 599.0h.01M88.7 567.6h.01M119.1 593.3h.01M59.7 606.5h.01M85.5 615.1h.01M106.6 571.9h.01M121.5 591.7h.01M124.8 586.3h.01M58.7 585.6h.01M116.6 575.5h.01M104.6 606.4h.01M122.9 580.1h.01M119.6 603.7h.01M105.9 572.1h.01M83.1 621.0h.01M129.6 604.3h.01M58.4 585.1h.01M107.1 570.3h.01M118.8 598.7h.01M98.6 566.4h.01M122.0 582.3h.01M69.9 611.5h.01M97.4 610.2h.01M68.1 616.9h.01M112.2 607.4h.01M67.8 606.9h.01M72.4 568.2h.01M111.6 606.5h.01M58.5 571.0h.01M112.3 571.2h.01M97.9 572.6h.01M111.9 607.6h.01M120.8 573.8h.01M117.5 573.7h.01M70.1 568.3h.01M120.0 612.6h.01M107.3 566.5h.01M114.4 571.4h.01M134.0 614.4h.01M77.1 568.5h.01M70.3 609.7h.01M84.2 566.6h.01M118.7 576.1h.01M77.9 569.3h.01M118.1 576.1h.01M82.8 564.8h.01M57.8 592.7h.01M126.4 581.4h.01M71.8 570.4h.01M133.0 570.5h.01M116.6 615.5h.01M125.2 592.1h.01M57.8 578.5h.01M99.0 573.5h.01M101.8 606.0h.01M66.4 569.5h.01M104.2 606.0h.01M58.4 585.5h.01M121.3 596.9h.01M100.8 560.8h.01M105.0 571.1h.01M92.6 571.4h.01M128.9 590.4h.01M76.8 562.9h.01M64.8 574.1h.01M86.1 610.1h.01M105.1 616.0h.01M108.4 607.5h.01M79.7 611.1h.01M67.5 569.8h.01M100.5 569.9h.01M60.5 577.4h.01M89.2 569.4h.01M60.2 574.1h.01M58.7 592.5h.01M89.1 617.1h.01M60.4 580.5h.01M114.5 602.4h.01M125.8 580.6h.01M63.2 604.5h.01M102.3 609.2h.01M114.6 603.2h.01M104.6 570.8h.01M79.5 609.3h.01M97.7 611.5h.01M133.7 580.7h.01M115.5 573.3h.01M88.4 569.4h.01M85.5 568.2h.01M73.4 613.8h.01M93.3 568.2h.01M89.0 564.9h.01M58.8 591.1h.01M93.4 571.4h.01M104.1 605.3h.01M111.0 570.0h.01M118.8 604.2h.01M65.2 611.6h.01M117.2 617.7h.01M63.9 607.0h.01M124.1 578.8h.01M109.3 571.3h.01M109.1 608.2h.01M77.8 568.1h.01M129.4 579.8h.01M108.4 571.9h.01M104.2 607.9h.01M113.9 564.1h.01M60.5 578.3h.01M70.5 559.6h.01M103.9 607.5h.01M96.0 607.7h.01M65.2 626.2h.01M95.8 614.0h.01M120.2 582.2h.01M88.7 613.6h.01M98.6 571.8h.01M104.2 608.3h.01M121.9 598.9h.01M121.5 576.8h.01M126.8 609.2h.01M87.9 610.4h.01M111.2 608.2h.01M86.5 568.0h.01M117.6 603.7h.01M62.0 603.0h.01M118.6 576.6h.01M79.5 619.8h.01M93.0 610.5h.01M124.5 576.3h.01M101.0 566.6h.01M121.1 589.2h.01M101.3 625.1h.01M122.8 572.9h.01M61.0 577.7h.01M71.3 614.0h.01M110.1 608.9h.01M66.4 569.9h.01M132.4 586.7h.01M100.0 571.6h.01M122.8 592.2h.01M149.5 612.7h.01M109.2 570.5h.01M124.0 581.0h.01M131.1 580.5h.01M136.9 618.0h.01M120.8 581.7h.01M121.6 592.5h.01M58.9 590.2h.01M62.2 609.0h.01M88.9 567.3h.01M104.7 569.0h.01M92.8 618.8h.01M75.5 621.5h.01M125.8 571.0h.01M124.8 581.1h.01M75.4 567.1h.01M59.5 582.4h.01M66.8 607.0h.01M68.8 571.6h.01M78.6 619.3h.01M59.0 591.1h.01M106.9 619.2h.01M64.5 611.7h.01M63.1 570.3h.01M103.5 607.8h.01M97.3 608.6h.01M92.8 571.4h.01M102.0 570.1h.01M65.3 605.1h.01M114.6 568.9h.01M112.5 608.2h.01M97.4 607.9h.01M101.6 573.4h.01M105.3 571.5h.01M111.5 615.7h.01M102.9 570.4h.01M73.4 565.8h.01M111.7 608.6h.01M94.0 608.7h.01M114.8 603.7h.01M94.8 570.4h.01M85.1 567.5h.01M127.2 605.4h.01M60.4 575.2h.01M72.4 569.4h.01M118.7 572.1h.01M118.5 603.8h.01M122.2 618.3h.01M64.9 572.4h.01M101.9 607.5h.01M89.3 628.6h.01M132.4 577.5h.01M110.8 567.8h.01M121.3 599.2h.01M70.0 570.2h.01M102.6 573.7h.01M112.8 569.8h.01M62.5 625.2h.01M112.5 570.5h.01M59.7 591.7h.01M111.5 604.4h.01M69.9 570.6h.01M124.4 581.1h.01M79.2 565.6h.01M112.9 570.7h.01M120.6 570.9h.01M119.4 582.7h.01M115.2 604.7h.01M63.9 572.4h.01M122.8 593.8h.01M71.3 567.5h.01M118.4 576.5h.01M66.1 608.5h.01M87.4 611.7h.01M101.6 618.6h.01M69.9 611.1h.01M107.3 571.0h.01M119.7 578.5h.01M78.7 616.4h.01M59.1 604.3h.01M122.0 583.1h.01M90.0 609.4h.01M120.8 590.6h.01M97.6 569.3h.01M106.2 570.6h.01M113.7 568.9h.01M109.9 614.9h.01M73.8 621.4h.01M61.1 605.9h.01M74.7 611.5h.01M105.3 569.2h.01M61.4 600.2h.01M124.3 602.8h.01M110.8 613.7h.01M83.9 565.1h.01M91.8 568.9h.01M116.2 602.0h.01M114.2 570.2h.01M60.7 570.4h.01M61.6 577.7h.01M118.5 604.5h.01M121.9 575.4h.01M104.5 614.0h.01M104.5 609.5h.01M94.6 608.7h.01M60.0 614.7h.01M88.7 625.7h.01M128.2 605.5h.01M104.7 572.4h.01M89.1 643.6h.01M125.6 607.3h.01M70.3 608.9h.01M97.1 564.7h.01M127.2 589.0h.01M111.9 635.3h.01M96.8 608.7h.01M97.4 611.4h.01M113.0 568.2h.01M123.1 617.4h.01M76.4 567.1h.01M61.9 578.0h.01M59.1 608.6h.01M114.6 602.6h.01M111.4 605.5h.01M89.9 610.6h.01M103.8 610.9h.01M100.5 608.8h.01M117.4 571.4h.01M100.6 566.0h.01M83.2 569.8h.01M121.6 587.4h.01M113.5 572.7h.01M121.3 595.2h.01M109.0 562.2h.01M116.5 574.3h.01M112.4 605.4h.01M110.1 613.3h.01M65.7 570.0h.01M71.1 566.3h.01M90.7 563.2h.01M73.1 568.5h.01M117.5 573.9h.01M61.9 577.4h.01M116.3 573.4h.01M116.6 572.9h.01M69.4 569.1h.01M107.7 571.4h.01M83.3 563.8h.01M103.1 570.2h.01M71.3 568.4h.01M123.3 567.1h.01M122.2 605.3h.01M90.5 610.1h.01M108.4 604.6h.01M106.3 607.3h.01M105.5 621.4h.01M119.2 577.8h.01M126.4 614.1h.01M134.2 608.0h.01M114.4 571.4h.01M132.8 573.4h.01M102.7 606.4h.01M110.6 567.2h.01M116.3 606.7h.01M59.0 574.2h.01M112.6 568.3h.01M122.9 590.5h.01M85.5 614.3h.01M131.0 585.6h.01M117.5 570.0h.01M69.8 610.1h.01M69.9 622.4h.01M108.1 568.8h.01M92.9 610.8h.01M121.2 584.8h.01M93.2 570.3h.01M101.9 572.2h.01M60.2 580.2h.01M119.8 577.3h.01M109.3 568.8h.01M104.8 572.6h.01M129.1 584.1h.01M127.1 583.2h.01M108.3 612.2h.01M71.2 568.7h.01M93.8 610.5h.01M118.2 576.5h.01M72.9 566.4h.01M111.5 605.3h.01M111.5 605.7h.01M104.0 625.5h.01M68.2 607.2h.01M65.4 608.7h.01M88.5 621.1h.01M58.6 592.7h.01M76.5 612.0h.01M118.1 575.8h.01M109.5 565.7h.01M121.5 587.8h.01M120.2 582.4h.01M123.0 572.4h.01M106.2 615.7h.01M61.1 578.1h.01M97.3 572.7h.01M123.7 599.0h.01M84.9 566.6h.01M59.8 601.4h.01M116.3 603.1h.01M125.8 603.4h.01M120.5 605.1h.01M118.7 575.4h.01M120.7 603.9h.01M75.7 569.3h.01M87.9 610.1h.01M91.3 568.6h.01M116.4 571.4h.01M105.1 571.6h.01M80.6 617.7h.01M118.2 604.7h.01M95.9 614.3h.01M108.0 571.6h.01M84.4 559.3h.01M122.3 593.8h.01M104.0 605.7h.01M67.1 572.7h.01M113.2 565.3h.01M111.4 572.0h.01M103.1 606.4h.01M102.4 572.3h.01M58.5 573.1h.01M118.4 601.4h.01M77.8 615.8h.01M121.4 601.1h.01M59.0 579.0h.01M64.3 567.3h.01M112.6 571.7h.01M100.0 609.8h.01M63.0 608.2h.01M58.0 573.2h.01M124.7 618.0h.01M98.9 546.7h.01M83.7 619.9h.01M58.1 590.5h.01M118.8 579.5h.01M67.7 606.7h.01M89.8 619.0h.01M102.6 569.0h.01M116.6 602.2h.01M122.8 589.2h.01M115.2 611.4h.01M117.8 609.1h.01M63.0 574.8h.01M76.4 614.3h.01M69.4 612.7h.01M98.6 617.1h.01M64.2 572.9h.01M92.5 569.7h.01M96.1 610.3h.01M102.1 567.9h.01M96.5 571.6h.01M107.6 613.6h.01M113.9 573.2h.01M126.4 605.4h.01M105.3 608.0h.01M107.0 570.4h.01M91.3 570.4h.01M97.1 569.2h.01M120.8 585.3h.01M131.1 574.3h.01M102.5 570.7h.01M107.2 572.0h.01M116.9 609.6h.01M123.1 600.3h.01M64.3 615.8h.01M68.8 607.9h.01M113.0 630.9h.01M61.5 577.5h.01M120.2 606.5h.01M75.1 567.9h.01M58.3 599.9h.01M132.3 585.6h.01M72.1 565.9h.01M118.5 606.0h.01M127.9 615.0h.01M96.0 614.4h.01M116.4 605.3h.01M75.6 569.3h.01M112.7 607.3h.01M117.1 572.1h.01M118.8 574.4h.01M118.8 598.0h.01M111.5 611.0h.01M57.8 583.0h.01M122.1 573.7h.01M81.7 612.2h.01M110.7 571.6h.01M94.1 569.2h.01M104.9 606.0h.01M101.3 608.3h.01M112.2 567.8h.01M125.0 604.7h.01M110.1 613.1h.01M124.9 591.0h.01M117.5 577.4h.01M73.2 561.5h.01M110.4 569.6h.01M112.7 604.9h.01M67.4 566.5h.01M59.6 577.1h.01M120.5 598.6h.01M60.8 604.2h.01M119.3 568.5h.01M103.8 609.5h.01M115.4 607.7h.01M117.5 601.9h.01M115.8 566.6h.01M101.9 573.3h.01M118.7 603.4h.01M71.6 609.1h.01M59.9 565.5h.01M63.4 604.6h.01M86.4 611.7h.01M124.9 580.9h.01M126.3 603.7h.01M95.1 570.7h.01M120.0 589.9h.01M98.6 607.9h.01M123.0 580.5h.01M107.6 606.1h.01M108.6 612.3h.01M109.9 609.5h.01M62.5 609.8h.01M114.5 571.8h.01M122.5 585.0h.01M120.1 583.8h.01M58.1 580.4h.01M59.1 586.4h.01M112.2 610.6h.01M118.6 579.7h.01M109.3 607.8h.01M129.4 596.9h.01M111.4 570.5h.01M59.5 599.8h.01M64.0 573.5h.01M71.7 566.0h.01M126.7 600.0h.01M100.6 636.5h.01M70.4 567.8h.01M77.1 570.3h.01M93.6 568.7h.01M116.3 568.0h.01M100.6 607.1h.01M111.3 572.3h.01M58.9 593.4h.01M90.0 633.6h.01M105.3 614.1h.01M111.2 570.8h.01M106.2 618.5h.01M123.9 585.5h.01M119.5 599.7h.01M62.2 602.1h.01M123.8 603.9h.01M123.6 582.7h.01M114.7 603.4h.01M114.1 602.9h.01M98.1 612.1h.01M121.3 585.0h.01M123.1 600.4h.01M104.6 566.7h.01M119.0 598.6h.01M58.8 588.6h.01M105.6 571.7h.01M112.6 603.9h.01M85.9 569.8h.01M124.9 568.5h.01M67.9 569.0h.01M125.9 589.9h.01M107.2 606.6h.01M62.8 574.1h.01M119.3 586.3h.01M104.7 607.8h.01M103.8 571.2h.01M120.7 579.2h.01M58.6 601.7h.01M95.3 612.3h.01M98.8 571.5h.01M82.3 617.6h.01M116.6 623.4h.01M73.3 612.5h.01M118.0 602.9h.01M117.8 598.8h.01M118.9 595.4h.01M70.1 569.7h.01M59.9 571.3h.01M70.9 569.8h.01M114.8 565.9h.01M120.8 580.7h.01M116.0 601.9h.01M97.1 568.8h.01M123.3 585.7h.01M106.9 609.8h.01M123.0 599.2h.01M115.9 570.2h.01M95.0 614.8h.01M121.1 584.3h.01M75.1 608.4h.01M119.3 588.3h.01M122.6 632.8h.01M117.0 576.5h.01M129.1 625.5h.01M78.7 614.0h.01M115.1 616.6h.01M77.5 615.7h.01M119.1 571.9h.01M78.9 612.7h.01M108.3 569.9h.01M101.4 569.7h.01M78.2 569.6h.01M126.2 590.1h.01M58.9 569.3h.01M103.4 568.3h.01M111.4 565.7h.01M129.7 608.3h.01M73.6 566.7h.01M73.4 608.5h.01M117.5 574.6h.01M119.9 580.1h.01M87.4 613.4h.01M108.6 568.6h.01M114.4 602.8h.01M79.4 567.9h.01M111.3 565.9h.01M69.6 607.2h.01M78.5 614.5h.01M123.3 588.1h.01M105.4 613.2h.01M80.0 569.6h.01M115.2 569.6h.01M108.9 567.7h.01M87.3 610.2h.01M113.3 571.2h.01M79.7 610.7h.01M122.0 577.3h.01M119.5 574.3h.01M94.1 607.7h.01M86.5 612.9h.01M105.2 571.3h.01M100.0 567.5h.01M139.3 583.1h.01M102.7 569.5h.01M71.0 571.3h.01M100.0 572.5h.01M75.2 613.1h.01M59.0 602.0h.01M125.5 573.9h.01M106.5 568.8h.01M59.8 576.3h.01M58.9 569.9h.01M71.1 611.1h.01M100.1 610.9h.01M88.3 616.9h.01M117.4 574.5h.01M112.4 563.4h.01M126.1 583.2h.01M92.7 611.2h.01M83.9 569.9h.01M107.2 610.8h.01M93.9 623.7h.01M114.5 573.6h.01M125.4 575.7h.01M62.7 575.7h.01M115.0 611.5h.01M101.3 607.3h.01M118.1 566.1h.01M121.6 566.1h.01M59.3 605.3h.01M85.7 560.6h.01M86.3 568.5h.01M118.8 568.9h.01M118.9 608.6h.01M117.6 606.6h.01M140.0 613.7h.01M57.9 598.8h.01M58.1 608.3h.01M70.2 611.2h.01M113.4 558.8h.01M113.2 611.0h.01M68.9 608.7h.01M80.8 613.9h.01M92.3 567.9h.01M107.8 604.7h.01M119.6 611.0h.01M126.7 596.9h.01M74.7 614.6h.01M141.7 591.4h.01M88.6 564.2h.01M94.5 568.5h.01M105.3 571.0h.01M99.9 572.9h.01M127.9 601.1h.01M104.3 610.4h.01M120.9 598.6h.01M118.3 600.3h.01M105.5 605.9h.01M127.8 583.7h.01M58.7 608.4h.01M84.8 569.2h.01M92.8 610.5h.01M91.6 563.7h.01M76.9 570.5h.01M117.0 604.0h.01M118.5 611.1h.01M118.9 622.0h.01M111.1 606.7h.01M119.6 591.6h.01M107.4 566.4h.01M121.0 580.8h.01M106.1 570.9h.01M117.7 572.7h.01M119.8 603.7h.01M95.6 566.2h.01M64.0 610.7h.01M79.6 609.9h.01M58.8 597.0h.01M103.8 606.9h.01M93.1 571.1h.01M123.2 593.5h.01M117.4 612.0h.01M66.6 608.7h.01M59.0 592.8h.01M77.2 569.8h.01M112.1 571.0h.01M103.4 610.4h.01M59.7 607.7h.01M108.5 607.2h.01M106.9 619.5h.01M120.1 607.8h.01M97.9 609.4h.01M65.3 606.0h.01M112.6 610.9h.01M80.1 567.6h.01M75.5 613.3h.01M101.4 569.6h.01M76.7 569.1h.01M59.5 594.4h.01M82.8 621.7h.01M83.0 567.1h.01M77.4 565.6h.01M80.9 568.8h.01M99.9 611.9h.01M63.8 608.4h.01M72.5 569.1h.01M130.0 593.3h.01M78.8 611.2h.01M109.0 571.3h.01M97.6 614.2h.01M91.6 569.0h.01M119.3 594.0h.01M113.1 609.0h.01M105.4 609.8h.01M122.8 587.4h.01M114.6 604.4h.01M123.4 606.8h.01M60.6 613.3h.01M101.9 568.2h.01M67.1 606.2h.01M61.7 602.5h.01M59.1 603.9h.01M59.4 575.9h.01M61.0 608.4h.01M63.5 573.5h.01M99.7 570.5h.01M97.2 570.7h.01M98.4 571.1h.01M120.6 585.8h.01M94.8 621.6h.01M133.5 598.0h.01M120.7 605.8h.01M110.4 570.8h.01M59.6 584.6h.01M65.2 572.8h.01M60.1 581.2h.01M120.4 579.6h.01M97.3 621.9h.01M59.5 601.5h.01M106.0 572.4h.01M122.9 586.7h.01M103.3 609.8h.01M81.6 568.6h.01M66.4 567.9h.01M112.2 570.1h.01M114.8 603.3h.01M81.6 612.3h.01M75.2 612.7h.01M64.9 605.5h.01M75.4 621.1h.01M104.9 570.9h.01M85.5 567.8h.01M67.7 615.0h.01M73.6 613.8h.01M120.2 596.8h.01M102.2 569.7h.01M107.5 611.4h.01M59.2 590.2h.01M102.1 609.2h.01M70.8 609.8h.01M134.8 586.8h.01M61.5 577.7h.01M58.6 585.4h.01M118.1 575.5h.01M126.0 569.9h.01M101.3 559.2h.01M107.6 570.5h.01M69.7 569.2h.01M70.4 563.3h.01M83.2 612.6h.01M106.3 608.7h.01M58.6 619.2h.01M108.9 571.7h.01M67.1 608.2h.01M112.3 613.6h.01M61.6 572.4h.01M122.6 591.6h.01M124.0 579.6h.01M60.8 599.7h.01M109.7 572.0h.01M95.4 569.4h.01M98.3 617.0h.01M102.8 616.1h.01M115.2 604.7h.01M111.6 572.1h.01M67.1 562.7h.01M101.6 569.1h.01M95.8 568.1h.01M109.0 570.3h.01M58.6 602.7h.01M99.7 571.9h.01M111.5 571.5h.01M65.5 572.7h.01M71.5 609.5h.01M113.7 604.8h.01M117.9 602.9h.01M102.3 564.5h.01M110.4 605.3h.01M114.3 570.4h.01M59.6 586.2h.01M81.9 565.9h.01M122.6 609.9h.01M84.0 559.8h.01M61.5 566.9h.01M61.2 599.6h.01M131.5 587.3h.01M60.6 577.9h.01M120.1 601.2h.01M120.4 594.5h.01M113.6 611.9h.01M116.4 572.4h.01M75.2 570.2h.01M122.4 598.1h.01M109.5 570.2h.01M120.4 592.2h.01M117.5 603.1h.01M124.4 574.3h.01M102.4 569.2h.01M103.0 611.6h.01M120.2 617.1h.01M61.0 577.8h.01M105.5 571.9h.01M104.7 607.0h.01M110.3 572.4h.01M110.5 572.0h.01M75.8 566.3h.01M67.3 616.1h.01M102.8 572.0h.01M66.3 572.5h.01M116.7 599.9h.01M111.5 571.5h.01M87.4 566.0h.01M120.9 588.3h.01M106.9 607.9h.01M100.2 570.9h.01M96.8 609.2h.01M92.3 610.0h.01M58.4 582.2h.01M121.2 583.2h.01M59.2 578.1h.01M123.1 588.4h.01M115.5 604.4h.01M60.4 581.9h.01M62.6 614.4h.01M123.6 614.5h.01M100.4 568.8h.01M116.2 571.4h.01M127.0 571.0h.01M119.8 578.7h.01M64.3 604.8h.01M127.9 583.5h.01M99.1 642.8h.01M92.3 570.4h.01M111.0 569.7h.01M58.4 602.9h.01M121.0 596.6h.01M66.0 573.2h.01M75.1 559.4h.01M120.1 578.8h.01M75.0 610.3h.01M100.0 570.6h.01M90.2 610.5h.01M72.9 612.9h.01M92.0 610.3h.01M78.1 568.2h.01M63.0 614.0h.01M58.8 594.9h.01M116.7 611.6h.01M106.6 606.4h.01M89.1 614.0h.01M60.9 578.4h.01M80.7 616.5h.01M58.1 587.4h.01M58.1 591.3h.01M68.5 610.1h.01M65.0 610.4h.01M86.6 617.7h.01M120.6 581.9h.01M129.7 623.0h.01M59.6 570.1h.01M107.5 571.0h.01M79.5 563.9h.01M101.6 573.4h.01M79.2 621.7h.01M120.9 600.6h.01M74.4 609.7h.01M102.0 573.2h.01M87.2 618.1h.01M73.2 568.4h.01M78.1 569.6h.01M60.6 601.1h.01M118.5 597.5h.01M58.5 575.8h.01M80.8 619.3h.01M106.6 605.0h.01M91.9 610.9h.01M127.7 575.8h.01M139.1 579.3h.01M59.0 596.0h.01M124.9 589.8h.01M110.4 615.0h.01M58.5 580.8h.01M123.1 615.6h.01M105.8 642.6h.01M58.6 584.0h.01M115.7 605.8h.01M130.1 568.5h.01M69.1 570.5h.01M112.4 571.7h.01M116.4 569.3h.01M72.6 562.7h.01M78.2 568.9h.01M105.8 571.9h.01M105.8 571.3h.01M101.8 609.5h.01M91.3 569.6h.01M98.7 614.4h.01M59.6 592.8h.01M61.5 574.0h.01M121.0 576.3h.01M69.7 615.1h.01M113.0 604.1h.01M122.0 575.0h.01M117.1 573.1h.01M91.4 610.7h.01M83.3 564.7h.01M112.0 571.6h.01M118.4 576.2h.01M59.6 578.6h.01M59.3 599.0h.01M109.2 616.5h.01M142.1 563.8h.01M59.7 584.5h.01M85.7 566.1h.01M83.2 569.9h.01M110.6 607.3h.01M120.4 602.6h.01M91.2 568.4h.01M112.6 570.1h.01M89.6 614.2h.01M91.5 610.7h.01M133.3 581.3h.01M134.9 614.1h.01M61.9 577.0h.01M111.0 572.0h.01M68.4 569.9h.01M102.4 607.0h.01M126.4 588.7h.01M101.4 605.8h.01M64.5 614.5h.01M62.3 572.6h.01M58.6 578.5h.01M101.6 572.1h.01M107.7 567.8h.01M130.3 603.9h.01M82.0 569.0h.01M70.1 568.3h.01M62.8 572.5h.01M121.3 584.6h.01M110.2 572.4h.01M112.1 606.9h.01M104.4 571.1h.01M107.3 607.7h.01M99.2 569.1h.01M118.5 617.7h.01M108.2 569.1h.01M87.8 569.9h.01M58.5 583.4h.01M88.1 613.6h.01M57.8 569.7h.01M123.0 583.9h.01M107.7 567.1h.01M121.0 574.5h.01M70.1 571.2h.01M95.4 615.2h.01M80.1 616.8h.01M103.8 605.4h.01M134.3 589.8h.01M106.8 605.3h.01M106.1 607.6h.01M62.6 573.0h.01M108.1 571.4h.01M121.6 583.5h.01M128.0 582.7h.01M99.2 609.4h.01M133.8 618.6h.01M60.1 572.1h.01M122.2 598.8h.01M120.1 578.6h.01M112.4 572.7h.01M122.8 574.8h.01M68.7 571.4h.01M111.9 571.7h.01M138.6 582.9h.01M121.5 597.5h.01M61.9 606.2h.01M96.8 608.2h.01M84.3 616.9h.01M67.5 570.8h.01M78.7 611.9h.01M62.3 575.7h.01M118.9 620.8h.01M69.4 641.4h.01M59.7 574.7h.01M110.9 570.0h.01M58.6 575.9h.01M105.7 622.8h.01M123.4 578.2h.01M77.2 568.1h.01M108.2 609.7h.01M119.6 609.3h.01M118.9 603.2h.01M61.9 607.7h.01M64.5 605.0h.01M123.6 593.3h.01M88.7 568.9h.01M95.2 621.0h.01M121.7 583.5h.01M70.4 568.0h.01M75.8 569.5h.01M71.7 568.0h.01M89.2 569.6h.01M115.3 606.2h.01M119.6 589.7h.01M103.3 605.6h.01M129.8 603.0h.01M71.3 628.8h.01M58.0 605.2h.01M64.3 573.4h.01M95.9 569.9h.01M103.9 571.3h.01M114.9 570.8h.01M132.0 572.0h.01M58.0 585.9h.01M124.4 600.3h.01M72.5 612.7h.01M109.0 563.4h.01M105.2 605.7h.01M122.3 587.9h.01M59.3 581.3h.01M67.4 607.1h.01M63.5 572.4h.01M61.1 599.6h.01M62.3 605.5h.01M71.9 565.1h.01M96.7 608.9h.01M118.6 577.7h.01M119.8 570.8h.01M112.4 607.2h.01M59.1 558.9h.01M65.7 566.5h.01M122.3 583.3h.01M120.0 598.8h.01M109.6 567.6h.01M78.5 567.3h.01M86.7 611.9h.01M117.9 604.4h.01M120.5 585.8h.01M61.2 577.6h.01M115.5 572.6h.01M115.4 573.5h.01M119.0 583.5h.01M130.4 597.0h.01M126.4 583.8h.01M94.0 609.7h.01M59.8 581.6h.01M125.3 591.4h.01M97.7 614.2h.01M129.6 569.4h.01M120.0 576.0h.01M70.0 568.5h.01M110.7 571.7h.01M124.6 582.4h.01M58.8 594.7h.01M58.1 586.4h.01M108.4 614.6h.01M58.7 584.2h.01M103.9 620.5h.01M68.2 571.4h.01M116.8 600.5h.01M132.8 609.0h.01M91.3 616.4h.01M91.0 619.0h.01M70.0 569.7h.01M62.1 609.9h.01M124.3 578.4h.01M58.5 595.7h.01M58.0 602.2h.01M102.1 570.2h.01M110.5 604.9h.01M81.0 568.4h.01M96.3 564.4h.01M120.7 584.2h.01M121.3 597.0h.01M136.8 609.3h.01M60.0 575.5h.01M61.4 574.7h.01M120.9 582.6h.01M58.0 614.9h.01M122.8 589.3h.01M60.0 612.7h.01M124.9 610.2h.01M126.2 601.9h.01M101.1 574.0h.01M73.8 568.6h.01M67.5 568.1h.01M82.1 568.3h.01M62.1 571.8h.01M58.5 583.8h.01M120.1 587.3h.01M116.2 571.2h.01M124.8 631.9h.01M90.4 612.2h.01M96.0 569.8h.01M121.1 600.1h.01M112.6 603.8h.01M104.9 569.7h.01M71.9 568.6h.01M109.2 610.3h.01M105.4 571.3h.01M108.1 570.2h.01M119.8 599.6h.01M96.3 569.3h.01M111.2 569.3h.01M119.7 576.9h.01M120.6 586.3h.01M58.6 584.4h.01M91.6 615.0h.01M92.1 569.5h.01M90.6 620.1h.01M105.8 615.0h.01M60.7 597.9h.01M107.7 606.1h.01M69.3 609.0h.01M118.5 594.0h.01M117.6 576.3h.01M118.8 576.6h.01M101.8 608.2h.01M100.4 613.0h.01M73.9 565.9h.01M122.1 595.4h.01M90.0 636.9h.01M83.1 614.9h.01M107.0 559.5h.01M108.1 571.2h.01M127.4 570.4h.01M59.4 596.2h.01M119.5 581.6h.01M103.6 614.0h.01M87.9 568.1h.01M109.1 613.6h.01M63.4 606.5h.01M83.2 609.8h.01M57.8 606.3h.01M63.9 574.7h.01M119.6 591.3h.01M89.5 609.3h.01M59.1 575.6h.01M115.8 602.3h.01M119.2 580.2h.01M75.7 569.8h.01M123.4 601.1h.01M97.0 607.7h.01M94.5 621.2h.01M83.5 569.6h.01M84.9 564.2h.01M135.3 605.9h.01M108.7 611.8h.01M62.8 605.4h.01M66.0 565.9h.01M65.8 636.5h.01M113.9 606.3h.01M107.1 606.2h.01M58.8 588.4h.01M101.7 570.1h.01M99.7 618.8h.01M124.3 603.2h.01M105.7 571.7h.01M124.4 603.5h.01M106.9 569.7h.01M120.8 587.6h.01M118.2 597.0h.01M66.9 615.5h.01M62.3 606.1h.01M121.5 584.8h.01M91.2 610.2h.01M69.2 569.2h.01M113.2 572.1h.01M66.0 624.9h.01M121.2 591.3h.01M67.1 614.4h.01M111.8 572.2h.01M67.1 568.7h.01M120.8 576.0h.01M117.4 566.5h.01M94.7 614.5h.01M100.8 574.0h.01M101.3 569.4h.01M103.4 572.0h.01M134.3 596.2h.01M60.3 570.3h.01M85.9 614.2h.01M106.4 570.8h.01M125.4 575.8h.01M122.1 597.5h.01M76.8 614.8h.01M122.2 584.1h.01M104.5 612.3h.01M63.7 574.6h.01M121.5 613.0h.01M104.5 572.0h.01M97.9 634.7h.01M121.2 573.8h.01M107.5 571.9h.01M70.4 564.4h.01M65.1 567.1h.01M96.1 607.4h.01M75.8 608.9h.01M69.0 571.9h.01M109.3 605.8h.01M85.9 628.8h.01M112.7 607.2h.01M76.7 613.2h.01M90.6 568.2h.01M68.6 612.2h.01M67.5 612.9h.01M107.6 571.0h.01M101.4 613.2h.01M69.0 612.0h.01M96.6 570.7h.01M100.7 571.7h.01M66.0 616.6h.01M101.5 608.8h.01M79.4 562.0h.01M120.0 598.8h.01M70.7 615.6h.01M76.6 624.0h.01M65.6 573.3h.01M107.4 571.4h.01M90.2 635.4h.01M96.1 613.5h.01M106.2 608.8h.01M94.8 612.6h.01M59.0 568.6h.01M85.7 617.2h.01M110.5 604.6h.01M118.3 579.3h.01M92.7 613.5h.01M67.1 571.8h.01M69.7 609.6h.01M100.7 569.5h.01M106.9 619.4h.01M102.5 571.2h.01M78.8 569.1h.01M126.2 581.4h.01M84.6 621.5h.01M118.2 575.8h.01M96.3 571.7h.01M100.4 608.9h.01M69.0 569.4h.01M91.1 570.8h.01M118.5 605.1h.01M121.1 593.5h.01M103.1 573.5h.01M127.3 591.1h.01M99.7 564.3h.01M61.6 572.3h.01M83.2 609.3h.01M120.2 603.7h.01M119.8 586.0h.01M77.1 611.2h.01M115.7 575.3h.01M103.1 610.8h.01M104.9 608.4h.01M111.8 572.7h.01M124.4 592.3h.01M108.8 566.8h.01M60.8 579.7h.01M66.3 572.7h.01M105.8 565.0h.01M107.5 616.7h.01M66.1 606.7h.01M114.0 613.9h.01M94.1 570.6h.01M61.7 605.3h.01M125.2 598.6h.01M112.9 567.9h.01M107.4 567.0h.01M100.3 607.5h.01M69.9 570.6h.01M123.9 569.2h.01M67.1 569.9h.01M120.8 588.9h.01M60.1 607.3h.01M92.1 566.4h.01M125.0 588.7h.01M95.8 625.4h.01M77.5 570.1h.01M119.8 601.2h.01M58.1 577.4h.01M92.9 613.0h.01M65.2 559.5h.01M123.0 607.2h.01M109.7 571.4h.01M124.7 613.4h.01M59.8 592.1h.01M105.0 568.3h.01M119.1 600.7h.01M122.4 579.5h.01M112.8 562.6h.01M72.5 609.7h.01M68.0 571.5h.01M126.2 621.3h.01M127.3 585.4h.01M102.2 571.6h.01M103.2 566.1h.01M93.9 556.3h.01M97.3 611.7h.01M120.9 580.7h.01M84.8 613.1h.01M119.3 577.0h.01M109.4 631.7h.01M115.6 607.4h.01M134.0 640.0h.01M118.1 603.0h.01M79.6 566.0h.01M66.1 573.3h.01M99.1 608.1h.01M71.8 609.5h.01M91.6 610.0h.01M64.6 619.0h.01M119.2 584.3h.01M129.3 576.1h.01M123.3 599.4h.01M133.6 566.8h.01M69.7 571.8h.01M64.2 568.3h.01M108.9 604.8h.01M111.4 615.2h.01M111.4 606.9h.01M108.2 571.1h.01M119.5 589.4h.01M120.2 589.8h.01M82.5 609.2h.01M98.0 566.8h.01M98.5 569.6h.01M123.6 594.0h.01M59.8 604.0h.01M64.9 570.4h.01M88.8 569.2h.01M108.3 572.1h.01M105.0 607.2h.01M109.9 568.6h.01M83.9 611.5h.01M121.0 590.3h.01M59.1 587.8h.01M98.0 610.4h.01M74.3 609.7h.01M68.9 565.2h.01M126.7 576.1h.01M119.3 631.2h.01M116.4 572.9h.01M75.6 612.8h.01M108.9 559.1h.01M90.6 567.1h.01M79.7 569.3h.01M66.0 572.5h.01M70.1 563.7h.01M104.3 607.3h.01M109.7 605.4h.01M127.0 573.3h.01M62.5 605.5h.01M58.7 571.4h.01M116.9 573.8h.01M77.5 570.3h.01M125.8 592.0h.01M115.5 573.3h.01M101.0 613.5h.01M66.4 571.2h.01M65.4 630.4h.01M72.3 608.1h.01M96.1 567.8h.01M118.2 572.0h.01M67.1 606.7h.01M108.5 608.9h.01M62.6 573.9h.01M92.4 608.5h.01M114.3 573.3h.01M120.9 584.1h.01M80.7 563.0h.01M91.2 619.6h.01M121.9 599.4h.01M62.6 608.8h.01M66.3 570.7h.01M72.1 609.0h.01M120.9 578.8h.01M122.5 595.2h.01M133.6 591.5h.01M77.9 568.6h.01M102.1 606.8h.01M107.3 571.5h.01M125.2 605.4h.01M115.0 566.1h.01M118.3 573.6h.01M98.4 570.6h.01M98.8 566.5h.01M104.2 616.5h.01M93.1 613.2h.01M100.5 613.0h.01M80.4 617.0h.01M123.1 570.2h.01M123.5 586.9h.01M124.0 591.4h.01M107.2 611.7h.01M127.1 619.0h.01M128.4 592.9h.01M116.5 600.3h.01M83.4 568.9h.01M68.9 564.5h.01M63.0 575.6h.01M72.0 617.3h.01M63.0 606.5h.01M118.7 573.5h.01M111.6 611.0h.01M116.4 572.2h.01M108.6 568.8h.01M75.5 609.5h.01M121.9 586.3h.01M74.5 568.0h.01M125.8 575.1h.01M61.0 577.1h.01M70.7 569.9h.01M106.3 612.1h.01M97.9 570.4h.01M94.0 569.2h.01M102.6 607.0h.01M96.0 613.4h.01M67.4 607.3h.01M101.9 605.5h.01M57.9 611.9h.01M62.3 608.3h.01M114.3 569.6h.01M132.7 602.1h.01M121.9 589.4h.01M58.2 593.1h.01M107.9 623.5h.01M128.1 593.6h.01M111.6 571.9h.01M67.3 609.9h.01M105.6 571.1h.01M67.7 570.8h.01M119.8 602.4h.01M62.1 603.6h.01M100.0 623.4h.01M111.2 570.6h.01M58.5 581.1h.01M120.5 582.7h.01M99.7 571.2h.01M131.3 607.0h.01M100.6 614.4h.01M59.4 602.8h.01M99.5 566.5h.01M125.8 593.2h.01M119.1 604.9h.01M121.0 578.1h.01M92.9 610.6h.01M76.7 567.8h.01M70.2 610.5h.01M97.1 572.3h.01M59.3 580.4h.01M58.9 586.6h.01M86.8 611.2h.01M110.6 606.2h.01M86.7 612.9h.01M90.9 631.4h.01M71.9 559.0h.01M75.6 570.0h.01M94.1 610.8h.01M86.5 613.2h.01M89.5 614.8h.01M98.3 571.5h.01M135.1 592.8h.01M59.2 600.7h.01M76.5 568.5h.01M58.0 602.0h.01M77.7 569.4h.01M108.5 611.0h.01M123.2 584.1h.01M109.0 570.7h.01M65.7 573.0h.01M69.5 571.8h.01M88.2 609.2h.01M122.7 596.1h.01M93.1 565.9h.01M76.2 566.5h.01M58.6 573.1h.01M120.3 607.8h.01M103.0 570.6h.01M130.0 576.0h.01M60.1 606.8h.01M69.8 642.4h.01M103.2 572.6h.01M108.7 614.1h.01M122.7 600.4h.01M69.2 571.6h.01M98.2 571.1h.01M110.4 612.5h.01M59.4 610.0h.01M91.4 608.6h.01M112.5 604.0h.01M105.5 608.1h.01M113.7 616.5h.01M122.6 595.3h.01M83.5 623.6h.01M115.5 604.1h.01M99.1 572.5h.01M97.6 615.7h.01M104.2 620.5h.01M60.0 606.3h.01M108.7 567.2h.01M66.0 572.1h.01M108.7 569.5h.01M126.5 572.4h.01M116.0 573.8h.01M71.8 634.8h.01M77.7 568.0h.01M86.2 568.3h.01M115.9 574.2h.01M96.9 607.0h.01M116.3 572.7h.01M121.8 573.9h.01M119.6 594.3h.01M67.2 566.8h.01M69.4 569.2h.01M91.4 570.3h.01M89.1 568.0h.01M81.5 567.1h.01M111.5 626.6h.01M117.0 599.5h.01M106.7 569.6h.01M116.3 605.6h.01M98.4 613.7h.01M59.5 600.5h.01M68.6 571.0h.01M104.0 607.0h.01M75.4 568.7h.01M76.7 624.9h.01M97.5 606.7h.01M107.8 572.2h.01M75.7 559.8h.01M65.4 572.8h.01M103.9 607.3h.01M125.0 597.5h.01M123.2 576.1h.01M58.1 586.6h.01M113.8 572.9h.01M107.2 568.1h.01M104.6 618.1h.01M97.8 567.7h.01M108.1 630.1h.01M85.8 570.5h.01M91.4 622.6h.01M61.3 575.6h.01M60.0 581.3h.01M70.6 569.0h.01M68.8 570.2h.01M124.3 599.5h.01M119.9 592.3h.01M94.2 612.8h.01M74.1 612.5h.01M92.9 567.4h.01M95.8 570.5h.01M121.4 582.6h.01M122.1 587.2h.01M136.0 614.6h.01M114.3 607.8h.01M60.4 582.6h.01M116.7 571.4h.01M57.9 572.0h.01M58.2 580.3h.01M115.2 617.4h.01M61.6 570.2h.01M127.6 578.8h.01M119.8 583.1h.01M107.7 609.6h.01M105.7 607.6h.01M119.4 600.5h.01M89.0 566.4h.01M91.0 568.4h.01M103.1 572.5h.01M71.0 568.6h.01M119.4 602.8h.01M120.5 592.3h.01M117.9 618.8h.01M86.3 614.2h.01M96.9 568.8h.01M61.4 610.2h.01M120.0 572.9h.01M94.1 570.9h.01M114.3 603.3h.01M119.1 595.0h.01M58.4 591.7h.01M65.4 609.2h.01M95.2 566.1h.01M101.8 611.1h.01M122.8 590.0h.01M81.4 569.4h.01M122.5 626.5h.01M109.0 565.6h.01M120.4 593.9h.01M131.5 570.6h.01M109.2 614.6h.01M132.3 601.3h.01M94.9 608.6h.01M113.9 573.9h.01M125.3 584.4h.01M121.2 572.2h.01M116.2 575.5h.01M119.4 603.0h.01M100.1 570.6h.01M67.8 629.7h.01M62.1 609.5h.01M59.9 608.2h.01M61.3 579.0h.01M93.9 562.3h.01M83.3 610.4h.01M123.3 588.1h.01M113.1 570.9h.01M119.8 596.8h.01M75.7 617.8h.01M59.3 607.4h.01M106.1 604.9h.01M72.6 615.3h.01M88.2 568.7h.01M80.0 567.9h.01M120.3 605.8h.01M103.1 605.5h.01M113.1 563.6h.01M105.6 606.8h.01M119.6 584.0h.01M84.4 614.8h.01M75.6 613.3h.01M104.9 612.1h.01M116.6 569.5h.01M134.3 606.4h.01M123.3 583.9h.01M65.1 572.5h.01M134.1 595.5h.01M74.3 567.6h.01M59.6 574.8h.01M110.4 570.0h.01M118.2 594.7h.01M96.0 571.1h.01M95.4 569.3h.01M81.0 610.3h.01M113.9 570.3h.01M111.8 571.5h.01M66.7 567.5h.01M65.5 572.9h.01M98.6 569.1h.01M59.0 575.7h.01M61.3 572.4h.01M59.4 616.6h.01M105.6 571.7h.01M123.0 587.5h.01M102.9 605.5h.01M104.4 608.0h.01M101.4 609.7h.01M92.7 611.7h.01M89.3 612.4h.01M69.2 571.9h.01M123.7 608.7h.01M59.9 603.1h.01M60.4 605.6h.01M118.3 577.5h.01M83.1 611.4h.01M122.9 582.2h.01M91.8 611.7h.01M67.6 609.1h.01M130.7 590.1h.01M120.4 569.7h.01M68.3 570.3h.01M110.0 606.9h.01M117.3 609.1h.01M121.9 580.5h.01M58.5 588.1h.01M81.2 562.7h.01M98.5 572.1h.01M125.3 580.0h.01M87.9 569.4h.01M85.6 612.0h.01M98.5 609.2h.01M121.8 578.6h.01M119.8 598.9h.01M84.8 617.4h.01M78.6 613.5h.01M97.7 608.6h.01M80.4 568.1h.01M91.9 615.2h.01M111.6 569.6h.01M111.9 566.9h.01M87.7 570.0h.01M122.8 592.1h.01M118.3 574.2h.01M67.7 613.7h.01M110.7 568.6h.01M93.1 571.8h.01M92.4 613.1h.01M109.8 615.9h.01M123.3 586.3h.01M60.9 573.6h.01M107.3 570.4h.01M109.8 571.2h.01M95.4 621.5h.01M110.1 606.1h.01M60.6 604.9h.01M99.6 617.5h.01M112.0 570.2h.01M115.8 563.4h.01M106.7 570.3h.01M112.3 569.4h.01M120.9 592.5h.01M115.4 607.6h.01M76.5 615.4h.01M72.4 634.9h.01M142.2 586.2h.01M118.3 569.8h.01M59.4 576.2h.01M95.5 612.1h.01M93.0 570.2h.01M59.3 601.5h.01M103.1 607.7h.01M96.1 609.9h.01M93.1 609.2h.01M120.4 581.0h.01M106.0 572.2h.01M74.6 570.2h.01M130.5 604.2h.01M125.8 583.3h.01M118.3 594.8h.01M100.7 571.0h.01M107.9 568.9h.01M63.2 616.2h.01M122.7 578.5h.01M118.7 574.1h.01M121.3 595.0h.01M69.4 570.0h.01M138.5 583.3h.01M91.3 615.4h.01M135.6 608.1h.01M124.9 585.7h.01M64.3 574.4h.01M62.5 626.8h.01M118.0 571.5h.01M119.5 609.5h.01M120.1 597.0h.01M100.5 616.6h.01M115.2 570.1h.01M77.7 564.8h.01M108.6 615.7h.01M58.2 582.0h.01M125.8 587.3h.01M122.3 598.8h.01M118.1 599.9h.01M110.9 605.8h.01M96.4 607.5h.01M100.8 570.2h.01M107.9 611.4h.01M104.1 571.6h.01M72.8 615.2h.01M58.1 600.7h.01M99.4 572.7h.01M127.3 575.1h.01M106.5 607.1h.01M125.9 582.1h.01M58.7 600.8h.01M66.6 625.9h.01M82.3 610.3h.01M112.9 571.9h.01M119.7 573.5h.01M81.6 621.6h.01M75.2 609.4h.01M109.9 569.0h.01M74.4 609.4h.01M98.9 606.7h.01M85.2 638.4h.01M122.7 590.0h.01M126.8 580.1h.01M89.1 621.3h.01M107.5 611.5h.01M57.9 593.6h.01M107.2 571.7h.01M98.9 636.4h.01M113.5 573.1h.01M105.0 571.2h.01M99.9 607.0h.01M60.0 582.5h.01M123.1 584.6h.01M92.2 565.9h.01M95.7 618.9h.01M71.8 570.3h.01M108.4 572.3h.01M99.6 570.8h.01M58.9 574.3h.01M98.6 606.6h.01M82.4 615.1h.01M104.2 572.3h.01M90.9 617.3h.01M93.5 570.9h.01M87.9 619.1h.01M102.1 637.9h.01M95.8 571.1h.01M112.1 607.3h.01M118.8 611.9h.01M89.2 570.3h.01M123.6 589.7h.01M57.9 591.6h.01M120.7 594.8h.01M109.9 613.2h.01M119.5 592.6h.01M118.2 573.0h.01M103.6 573.0h.01M59.1 591.0h.01M62.9 607.1h.01M111.3 567.4h.01M101.4 573.6h.01M69.9 608.8h.01M93.3 569.2h.01M94.9 613.2h.01M63.6 574.3h.01M119.2 606.7h.01M63.6 573.0h.01M66.4 567.6h.01M103.1 607.0h.01M112.0 608.0h.01M83.3 616.9h.01M94.1 613.7h.01M93.1 571.3h.01M89.0 568.2h.01M80.8 609.2h.01M123.0 585.6h.01M61.9 576.4h.01M60.3 603.6h.01M78.0 566.3h.01M89.6 619.0h.01M111.8 568.1h.01M117.0 607.6h.01M108.3 570.8h.01M77.1 615.5h.01M131.0 572.3h.01M102.4 616.0h.01M75.3 614.2h.01M65.5 572.4h.01M122.1 591.5h.01M72.1 567.8h.01M99.5 572.4h.01M97.1 571.0h.01M59.8 581.1h.01M102.8 610.1h.01M118.8 591.1h.01M120.4 593.6h.01M63.6 574.8h.01M112.5 569.3h.01M105.2 605.1h.01M102.8 618.2h.01M84.1 613.1h.01M125.4 611.4h.01M97.7 567.5h.01M118.4 621.9h.01M126.7 589.1h.01M86.8 570.3h.01M122.1 610.7h.01M60.0 613.6h.01M116.2 601.4h.01M81.0 569.4h.01M120.9 587.2h.01M119.2 609.7h.01M113.9 614.9h.01M98.3 569.6h.01M112.0 610.9h.01M121.5 591.7h.01M119.1 591.7h.01M118.4 573.9h.01M100.4 564.7h.01M61.3 602.6h.01M102.5 566.9h.01M132.8 600.2h.01M58.0 588.7h.01M124.5 591.7h.01M75.8 614.8h.01M93.4 629.1h.01M70.3 569.1h.01M117.4 568.6h.01M67.2 570.1h.01M59.6 587.6h.01M78.0 568.1h.01M120.2 597.4h.01M104.1 571.2h.01M96.0 608.1h.01M118.0 576.3h.01M120.4 578.0h.01M127.5 575.3h.01M104.9 570.1h.01M119.4 596.0h.01M112.4 572.3h.01M120.6 587.8h.01M96.9 623.3h.01M114.6 572.9h.01M120.6 586.7h.01M106.9 566.4h.01M123.5 618.9h.01M111.4 571.4h.01M113.3 606.3h.01M119.0 575.5h.01M106.4 572.2h.01M99.4 569.9h.01M115.1 574.8h.01M119.8 588.9h.01M109.8 570.5h.01M121.8 579.6h.01M92.3 565.6h.01M67.7 566.6h.01M68.1 562.3h.01M127.6 602.9h.01M124.7 589.6h.01M121.0 591.7h.01M120.0 570.3h.01M68.8 570.0h.01M102.5 606.8h.01M91.1 569.1h.01M136.0 607.4h.01M61.4 575.5h.01M117.9 631.0h.01M89.0 611.0h.01M59.5 590.3h.01M102.8 608.8h.01M119.6 608.1h.01M107.0 606.2h.01M82.1 624.4h.01M119.9 591.9h.01M114.7 573.7h.01M108.2 606.8h.01M90.7 570.7h.01M120.8 589.2h.01M99.5 570.8h.01M81.3 569.9h.01M121.8 579.0h.01M93.4 622.1h.01M77.0 566.1h.01M69.3 613.6h.01M117.2 568.3h.01M120.0 603.6h.01M60.1 604.3h.01M77.9 628.2h.01M95.0 613.4h.01M117.9 603.3h.01M86.1 569.8h.01M105.3 607.7h.01M125.1 596.1h.01M98.7 607.4h.01M59.0 593.5h.01M100.2 610.7h.01M57.9 586.3h.01M112.6 569.1h.01M108.5 605.0h.01M108.3 565.5h.01M72.2 568.4h.01M78.1 568.2h.01M118.9 596.9h.01M61.0 576.3h.01M110.0 611.9h.01M119.3 603.0h.01M125.8 573.9h.01M76.8 610.1h.01M93.8 608.1h.01M79.3 619.8h.01M58.3 593.2h.01M114.5 601.9h.01M116.4 610.9h.01M122.9 575.5h.01M101.1 606.7h.01M77.5 569.7h.01M96.6 612.9h.01M82.9 610.3h.01M84.4 620.2h.01M122.3 580.7h.01M114.8 565.1h.01M94.9 569.6h.01M126.5 578.4h.01M108.7 572.2h.01M101.3 568.5h.01M100.8 570.8h.01M81.5 570.1h.01M84.0 568.7h.01M116.1 566.8h.01M58.5 605.8h.01M107.3 569.0h.01M123.9 584.5h.01M119.2 592.7h.01M95.1 623.8h.01M117.5 575.1h.01M87.8 613.5h.01M58.9 591.1h.01M134.7 595.2h.01M89.0 616.7h.01M126.3 578.6h.01M60.5 598.1h.01M97.2 614.4h.01M121.6 597.1h.01M123.0 583.3h.01M70.1 607.4h.01M90.8 569.8h.01M106.4 569.7h.01M92.4 568.3h.01M67.7 570.0h.01M118.4 579.9h.01M124.9 595.6h.01M119.5 601.2h.01M117.5 575.4h.01M122.5 590.5h.01M121.6 592.4h.01M92.8 614.4h.01M99.6 572.8h.01M98.4 610.5h.01M63.2 575.3h.01M118.2 609.5h.01M81.8 611.2h.01M121.5 586.4h.01M94.3 569.7h.01M69.9 621.4h.01M84.0 614.7h.01M120.3 585.6h.01M113.1 571.8h.01M98.3 573.2h.01M81.2 624.7h.01M100.8 618.2h.01M111.8 608.8h.01M118.4 600.0h.01M76.2 619.5h.01M111.6 612.6h.01M60.4 581.8h.01M60.3 573.7h.01M106.2 571.5h.01M105.9 572.3h.01M117.8 573.2h.01M96.2 568.6h.01M102.9 606.1h.01M70.8 612.7h.01M93.8 610.0h.01M82.4 558.8h.01M112.9 614.3h.01M95.5 570.7h.01M113.8 570.4h.01M123.1 583.4h.01M122.1 612.5h.01M98.9 569.1h.01M63.0 617.8h.01M102.6 572.4h.01M58.8 570.2h.01M117.7 603.9h.01M117.5 570.3h.01M77.5 620.3h.01M120.4 608.4h.01M118.9 603.8h.01M71.2 607.5h.01M63.6 569.8h.01M120.8 602.6h.01M67.4 608.6h.01M95.0 567.1h.01M104.5 572.5h.01M125.2 597.9h.01M116.5 619.3h.01M78.2 565.1h.01M63.2 604.8h.01M121.1 589.3h.01M65.3 606.9h.01M100.2 570.6h.01M88.2 616.4h.01M75.8 569.9h.01M115.5 574.7h.01M123.4 587.0h.01M102.4 614.3h.01M93.9 569.2h.01M112.3 572.4h.01M100.7 573.0h.01M119.1 600.4h.01M121.2 609.2h.01M80.4 567.5h.01M62.8 575.1h.01M122.3 578.2h.01M62.9 606.3h.01M66.1 606.5h.01M121.1 574.5h.01M119.9 575.6h.01M60.8 604.3h.01M65.4 571.7h.01M60.9 604.2h.01M88.0 570.4h.01M116.5 575.5h.01M68.7 608.9h.01M77.0 568.7h.01M109.2 611.0h.01M110.2 570.4h.01M120.3 584.5h.01M115.0 571.5h.01M103.6 615.3h.01M116.8 569.6h.01M66.7 571.4h.01M124.2 593.7h.01M107.0 605.4h.01M120.8 567.8h.01M123.1 606.8h.01M122.7 624.4h.01M128.8 606.8h.01M83.7 568.4h.01M63.0 572.6h.01M120.3 575.2h.01M92.3 614.8h.01M59.0 602.3h.01M97.9 616.0h.01M114.1 566.7h.01M123.1 594.6h.01M77.1 611.3h.01M96.3 607.6h.01M135.3 589.5h.01M104.0 570.9h.01M61.9 567.6h.01M66.0 609.7h.01M101.9 565.8h.01M106.5 571.9h.01M67.7 613.5h.01M80.1 568.3h.01M79.2 615.2h.01M102.9 573.4h.01M128.5 597.3h.01M58.3 600.7h.01M123.1 590.3h.01M123.5 606.3h.01M123.0 576.1h.01M118.1 599.9h.01M135.2 586.8h.01M76.7 568.2h.01M79.1 560.6h.01M108.8 570.7h.01M93.5 571.6h.01M96.1 609.2h.01M63.6 609.8h.01M82.2 627.7h.01M67.1 567.7h.01M95.9 607.9h.01M133.2 567.3h.01M114.0 606.7h.01M96.6 568.4h.01M84.6 568.6h.01M64.6 571.8h.01M117.4 576.1h.01M124.5 586.3h.01M119.2 597.3h.01M109.5 571.0h.01M105.6 570.1h.01M126.0 571.1h.01M69.2 569.7h.01M91.7 567.8h.01M75.4 570.1h.01M116.1 572.7h.01M121.0 583.1h.01M126.0 587.3h.01M105.7 570.8h.01M97.9 570.9h.01M118.2 573.5h.01M64.6 567.0h.01M108.9 607.0h.01M121.6 584.6h.01M66.1 570.3h.01M78.5 613.7h.01M121.3 571.1h.01M69.7 609.5h.01M74.8 617.5h.01M93.5 570.9h.01M70.5 571.4h.01M59.4 601.8h.01M116.0 607.0h.01M59.9 587.7h.01M112.4 605.0h.01M63.4 568.7h.01M129.8 616.2h.01M108.4 568.8h.01M120.4 594.8h.01M105.8 605.5h.01M103.1 572.1h.01M110.7 572.1h.01M106.8 568.6h.01M60.9 577.3h.01M78.4 609.0h.01M94.3 620.8h.01M91.2 569.1h.01M58.8 596.0h.01M89.5 611.0h.01M60.0 596.9h.01M77.7 569.0h.01M114.3 604.7h.01M110.7 606.6h.01M105.3 570.6h.01M60.7 573.5h.01M123.3 583.5h.01M118.7 597.5h.01M123.1 592.9h.01M97.9 621.2h.01M66.7 571.4h.01M58.7 589.3h.01M103.6 610.5h.01M125.0 580.7h.01M115.8 629.1h.01M97.8 566.8h.01M60.7 573.6h.01M115.9 566.5h.01M100.4 568.0h.01M112.8 569.3h.01M110.7 571.4h.01M58.0 573.4h.01M115.9 573.7h.01M119.1 618.3h.01M59.2 602.9h.01M61.0 607.1h.01M124.2 583.9h.01M102.4 608.0h.01M63.0 604.0h.01M81.9 565.8h.01M96.4 608.5h.01M118.1 601.8h.01M130.0 589.0h.01M74.0 610.0h.01M109.4 568.6h.01M59.5 573.4h.01M115.1 608.7h.01M121.3 578.1h.01M63.4 607.1h.01M78.2 564.5h.01M100.2 566.8h.01M123.5 572.7h.01M121.6 605.6h.01M128.9 602.8h.01M65.4 622.5h.01M119.5 575.0h.01M147.8 579.1h.01M96.5 571.3h.01M78.3 618.5h.01M111.1 571.0h.01M117.2 572.2h.01M81.6 567.3h.01M122.1 596.2h.01M110.8 569.2h.01M80.3 615.4h.01M119.3 588.6h.01M119.4 598.0h.01M122.2 606.2h.01M68.9 612.1h.01M120.2 576.3h.01M116.1 610.3h.01M60.5 573.2h.01M58.7 586.8h.01M120.2 604.0h.01M107.5 572.0h.01M58.2 603.4h.01M71.2 568.9h.01M125.1 591.2h.01M125.1 603.3h.01M108.3 568.5h.01M70.6 570.6h.01M85.4 567.7h.01M107.1 567.5h.01M118.1 574.1h.01M122.2 586.2h.01M88.1 569.0h.01M127.2 587.4h.01M121.1 592.0h.01M116.5 607.9h.01M126.6 582.6h.01M66.6 568.1h.01M113.1 604.3h.01M120.3 561.3h.01M120.7 580.8h.01M108.8 622.2h.01M115.2 574.6h.01M127.2 587.2h.01M79.3 628.0h.01M118.2 594.9h.01M96.3 609.3h.01M72.9 610.4h.01M94.6 565.8h.01M62.3 609.0h.01M110.1 609.6h.01M92.5 609.1h.01M120.3 595.3h.01M95.2 555.7h.01M59.8 593.6h.01M119.7 582.7h.01M99.6 607.2h.01M59.4 573.1h.01M110.1 605.2h.01M95.1 612.9h.01M101.8 565.4h.01M117.6 601.0h.01M127.1 591.0h.01M101.8 572.7h.01M58.5 608.4h.01M59.6 589.0h.01M113.8 608.0h.01M99.0 573.1h.01M70.4 568.8h.01M58.3 606.1h.01M106.6 608.2h.01M78.1 567.2h.01M75.3 570.5h.01M111.5 569.1h.01M117.1 600.4h.01M97.0 572.4h.01M74.0 570.3h.01M124.3 596.5h.01M75.0 570.2h.01M117.1 603.7h.01M63.4 616.2h.01M121.0 602.7h.01M90.8 619.8h.01M122.7 602.3h.01M71.6 570.9h.01M119.8 607.7h.01M119.6 589.9h.01M62.7 575.0h.01M115.4 601.6h.01M108.9 605.7h.01M105.7 570.6h.01M59.6 579.4h.01M107.3 616.6h.01M66.2 570.9h.01M65.5 566.6h.01M132.4 589.0h.01M68.6 571.4h.01M94.6 570.8h.01M100.4 607.2h.01M70.1 569.7h.01M106.3 568.5h.01M70.0 570.5h.01M60.2 605.2h.01M119.7 595.0h.01M117.1 606.9h.01M108.6 609.3h.01M58.7 598.7h.01M61.7 603.7h.01M133.5 637.4h.01M91.4 613.5h.01M123.4 603.2h.01M79.9 566.0h.01M107.2 566.9h.01M77.2 567.1h.01M121.1 596.0h.01M115.4 574.5h.01M90.3 608.8h.01M120.2 575.6h.01M66.9 607.2h.01M129.3 593.3h.01M58.2 598.5h.01M130.7 607.0h.01M92.8 569.5h.01M118.2 575.7h.01M60.2 576.5h.01M114.9 573.2h.01M88.6 570.9h.01M84.4 610.5h.01M78.0 565.6h.01M122.3 579.8h.01M83.1 566.0h.01M119.4 598.5h.01M103.9 570.5h.01M127.2 585.1h.01M99.1 568.7h.01M112.3 570.6h.01M75.4 569.4h.01M75.9 614.6h.01M64.7 609.6h.01M94.0 609.5h.01M104.6 610.2h.01M124.6 613.9h.01M97.3 615.4h.01M104.3 570.7h.01M71.6 571.1h.01M60.1 581.6h.01M119.3 585.0h.01M77.9 568.2h.01M79.1 567.2h.01M123.5 599.7h.01M64.4 624.3h.01M105.2 568.8h.01M94.4 608.9h.01M58.3 579.4h.01M95.5 610.7h.01M105.8 619.4h.01M120.8 575.6h.01M71.0 568.3h.01M62.3 576.7h.01M102.7 569.9h.01M63.7 609.8h.01M106.7 606.7h.01M118.8 565.2h.01M108.7 569.0h.01M103.0 609.3h.01M86.0 611.8h.01M83.3 567.9h.01M58.8 593.8h.01M72.1 609.1h.01M63.4 605.7h.01M108.0 571.2h.01M83.1 564.5h.01M109.1 616.8h.01M123.8 593.6h.01M65.2 572.8h.01M108.5 570.1h.01M110.6 572.0h.01M118.1 571.0h.01M110.7 567.3h.01M117.2 604.9h.01M62.2 572.1h.01M102.9 571.0h.01M134.9 615.7h.01M58.3 589.7h.01M90.5 612.1h.01M62.4 571.8h.01M129.2 587.2h.01M116.1 571.5h.01M135.2 617.3h.01M76.2 569.7h.01M58.8 588.8h.01M109.7 570.2h.01M109.3 609.9h.01M68.6 567.9h.01M114.5 571.2h.01M116.2 569.3h.01M118.2 607.8h.01M105.4 621.0h.01M59.9 586.6h.01M85.8 619.8h.01M73.8 569.8h.01M99.8 612.3h.01M65.0 567.2h.01M62.8 575.0h.01M120.5 595.5h.01M119.8 575.7h.01M117.6 574.3h.01M90.1 610.4h.01M60.6 599.2h.01M110.5 609.5h.01M120.5 590.0h.01M121.7 578.6h.01M102.9 606.3h.01M120.6 594.1h.01M96.9 571.1h.01M113.0 604.7h.01M95.3 608.0h.01M79.1 614.4h.01M104.7 568.8h.01M79.4 625.3h.01M105.8 572.2h.01M107.1 612.5h.01M118.9 597.2h.01M113.9 572.4h.01M100.2 609.1h.01M77.6 568.2h.01M62.7 571.5h.01M110.0 565.6h.01M106.6 571.8h.01M118.2 576.0h.01M125.7 583.7h.01M106.7 611.6h.01M84.3 619.6h.01M125.2 578.1h.01M61.9 573.4h.01M58.0 582.5h.01M63.5 603.7h.01M123.6 605.7h.01M118.2 566.7h.01M58.5 599.2h.01M127.0 596.5h.01M59.4 578.7h.01M118.8 572.5h.01M86.3 565.3h.01M115.4 574.0h.01M117.0 576.3h.01M57.8 579.9h.01M86.6 613.9h.01M59.6 576.8h.01M82.0 627.4h.01M119.0 575.1h.01M79.8 611.3h.01M89.8 570.4h.01M116.8 575.4h.01M69.9 624.0h.01M103.0 625.8h.01M61.1 574.9h.01M118.3 575.8h.01M61.6 575.4h.01M61.8 574.5h.01M108.0 572.3h.01M119.4 582.2h.01M124.8 584.8h.01M98.2 612.6h.01M111.5 572.8h.01M62.6 576.3h.01M92.5 614.2h.01M58.3 598.4h.01M59.4 576.1h.01M64.7 562.1h.01M104.0 571.3h.01M100.9 568.7h.01M108.3 569.6h.01M118.0 577.7h.01M116.7 573.1h.01M75.0 570.2h.01M96.4 568.2h.01M84.0 609.4h.01M97.6 610.3h.01M59.7 580.9h.01M109.5 605.2h.01M123.7 581.9h.01M122.2 584.1h.01M86.2 614.1h.01M106.6 605.3h.01M110.4 612.1h.01M118.1 575.4h.01M89.5 618.9h.01M98.4 606.8h.01M113.4 609.9h.01M123.2 589.6h.01M77.1 612.5h.01M118.5 571.8h.01M129.4 593.6h.01M59.5 574.7h.01M111.5 567.1h.01M97.9 613.1h.01M91.2 570.2h.01M80.1 641.5h.01M57.9 573.7h.01M124.1 580.9h.01M113.9 616.0h.01M58.1 604.8h.01M112.5 571.8h.01M115.0 563.8h.01M113.0 610.5h.01M62.0 575.2h.01M124.3 606.0h.01M104.1 572.6h.01M96.0 611.2h.01M84.2 564.8h.01M74.3 615.4h.01M123.1 615.4h.01M62.7 602.8h.01M80.0 620.2h.01M69.9 571.8h.01M95.9 572.1h.01M69.9 608.4h.01M107.2 569.2h.01M89.7 610.9h.01M64.8 562.0h.01M105.9 606.5h.01M94.9 614.9h.01M105.1 568.9h.01M117.2 573.3h.01M111.5 625.1h.01M116.9 598.3h.01M62.4 575.1h.01M85.6 613.6h.01M106.4 567.1h.01M77.5 568.7h.01M126.4 608.7h.01M60.8 579.7h.01M103.1 572.7h.01M100.0 572.6h.01M119.0 594.2h.01M117.6 609.0h.01M62.6 610.5h.01M80.1 566.1h.01M103.9 607.3h.01M62.0 572.9h.01M68.0 571.7h.01M66.4 572.5h.01M59.1 583.8h.01M85.0 613.3h.01M120.7 583.7h.01M79.3 609.9h.01M111.4 606.5h.01M121.3 597.1h.01M108.7 572.2h.01M60.9 574.8h.01M101.5 608.1h.01M114.5 566.4h.01M61.9 567.7h.01M96.8 570.5h.01M116.7 570.3h.01M126.3 597.0h.01M101.1 613.3h.01M108.3 612.6h.01M123.6 605.7h.01M121.9 579.7h.01M85.2 565.1h.01M78.6 567.3h.01M64.3 570.6h.01M123.0 597.2h.01M111.0 606.8h.01M120.8 577.4h.01M106.7 615.8h.01M112.3 566.3h.01M108.8 570.0h.01M65.7 607.2h.01M101.6 573.5h.01M84.5 615.8h.01M64.4 573.8h.01M96.4 567.7h.01M83.3 609.7h.01M64.0 562.5h.01M128.8 586.2h.01M63.3 574.7h.01M96.5 571.3h.01M102.8 571.4h.01M69.5 569.8h.01M58.0 585.6h.01M85.5 609.7h.01M99.4 614.9h.01M117.2 613.4h.01M108.4 613.0h.01M105.7 567.6h.01M65.2 609.5h.01M91.5 612.0h.01M129.6 602.5h.01M59.6 597.7h.01M88.7 610.0h.01M63.5 606.2h.01M118.4 600.5h.01M122.6 573.0h.01M58.6 584.7h.01M61.9 572.4h.01M127.8 609.1h.01M111.3 571.8h.01M81.9 566.8h.01M93.5 612.1h.01M97.4 570.7h.01M125.8 618.4h.01M118.6 607.1h.01M62.2 603.5h.01M62.0 571.3h.01M119.2 575.9h.01M97.7 609.5h.01M117.5 573.4h.01M95.1 609.0h.01M100.2 562.3h.01M122.0 606.5h.01M103.8 570.0h.01M59.1 580.3h.01M101.2 608.3h.01M114.8 637.5h.01M125.0 583.6h.01M67.7 612.5h.01M60.0 600.6h.01M76.1 568.0h.01M94.4 571.6h.01M122.4 616.0h.01M65.0 571.2h.01M123.9 610.5h.01M111.2 604.5h.01M114.5 573.3h.01M60.4 581.9h.01M123.7 592.4h.01M68.8 569.0h.01M89.7 561.1h.01M61.2 607.5h.01M118.3 594.9h.01M119.0 572.6h.01M59.6 577.6h.01M88.8 611.9h.01M85.5 610.5h.01M113.4 607.9h.01M97.0 571.4h.01M121.6 588.1h.01M59.3 586.3h.01M85.4 566.6h.01M119.4 580.2h.01M118.8 610.3h.01M112.9 612.2h.01M60.0 578.5h.01M58.4 597.2h.01M85.4 617.2h.01M60.8 573.6h.01M70.0 607.1h.01M112.5 571.3h.01M68.3 611.1h.01M107.7 571.9h.01M88.9 569.2h.01M94.0 569.5h.01M116.0 568.4h.01M111.5 620.1h.01M99.5 572.3h.01M68.4 606.9h.01M98.6 619.5h.01M121.4 591.4h.01M59.0 587.5h.01M59.7 603.8h.01M110.6 605.3h.01M63.6 573.0h.01M61.4 574.7h.01M102.0 616.2h.01M105.4 568.4h.01M122.0 590.1h.01M120.5 576.4h.01M91.2 567.7h.01M83.1 568.5h.01M60.0 583.9h.01M127.1 610.9h.01M64.8 572.0h.01M122.4 588.8h.01M110.2 563.1h.01M108.5 563.8h.01M60.1 575.4h.01M75.5 568.3h.01M112.8 567.7h.01M120.1 594.8h.01M60.0 592.1h.01M107.8 604.9h.01M81.2 569.2h.01M68.8 568.2h.01M59.4 587.6h.01M64.7 570.7h.01M74.0 569.9h.01M94.8 569.4h.01M93.9 566.2h.01M107.6 570.5h.01M110.5 568.2h.01M120.1 585.2h.01M102.8 606.9h.01M106.6 569.2h.01M106.3 607.1h.01M87.6 569.8h.01M62.8 574.6h.01M118.6 574.7h.01M105.0 569.5h.01M62.6 609.7h.01M91.2 626.5h.01M117.5 608.4h.01M119.7 590.2h.01M138.2 604.6h.01M126.2 590.0h.01M111.9 571.6h.01M62.2 602.3h.01M129.4 571.7h.01M123.5 574.5h.01M124.6 577.1h.01M124.0 610.6h.01M122.2 574.0h.01M61.6 601.4h.01M68.5 570.2h.01M71.1 567.8h.01M62.5 610.8h.01M60.1 602.7h.01M98.4 608.6h.01M119.1 582.1h.01M76.1 614.1h.01M84.0 613.9h.01M79.7 610.0h.01M122.3 573.9h.01M79.7 566.7h.01M58.3 593.2h.01M107.8 613.4h.01M95.8 571.1h.01M83.7 565.6h.01M93.0 608.1h.01M113.7 612.1h.01M61.1 616.4h.01M89.7 611.2h.01M82.9 562.6h.01M64.5 613.5h.01M119.0 623.4h.01M119.2 604.1h.01M76.4 570.5h.01M77.5 566.1h.01M119.0 573.6h.01M57.8 599.6h.01M120.0 581.8h.01M103.9 570.9h.01M60.5 581.7h.01M102.3 617.0h.01M76.1 612.1h.01M119.9 590.4h.01M114.9 610.1h.01M93.0 570.3h.01M106.5 614.6h.01M120.1 601.4h.01M118.2 571.1h.01M115.2 571.9h.01M108.9 570.7h.01M104.7 613.7h.01M61.3 573.6h.01M78.3 565.5h.01M92.8 608.4h.01M95.8 607.3h.01M113.4 568.2h.01M105.7 610.9h.01M58.5 601.8h.01M119.4 577.5h.01M63.5 604.0h.01M131.0 589.0h.01M120.0 583.7h.01M59.5 577.1h.01M115.7 572.8h.01M111.7 569.0h.01M84.8 614.4h.01M90.0 563.2h.01M121.0 592.2h.01M110.3 568.1h.01M123.7 605.5h.01M59.9 593.0h.01M117.0 607.5h.01M124.9 603.8h.01M68.5 609.9h.01M68.4 571.2h.01M63.0 617.5h.01M62.6 574.1h.01M58.2 586.6h.01M115.5 573.0h.01M113.2 606.2h.01M122.9 578.9h.01M100.0 571.7h.01M90.9 570.4h.01M113.8 612.9h.01M124.9 605.7h.01M110.5 572.3h.01M123.7 590.0h.01M71.0 618.0h.01M118.3 609.0h.01M97.5 570.2h.01M85.2 563.3h.01M122.3 582.1h.01M65.2 571.3h.01M118.4 575.9h.01M123.3 593.2h.01M80.3 610.6h.01M115.5 574.2h.01M133.7 612.2h.01M98.8 571.5h.01M102.0 620.5h.01M62.9 608.2h.01M136.0 608.6h.01M102.4 606.2h.01M103.5 611.1h.01M89.3 568.8h.01M124.1 605.2h.01M100.7 573.4h.01M58.0 609.4h.01M71.4 568.8h.01M64.4 622.1h.01M62.8 602.9h.01M137.5 575.8h.01M90.1 633.6h.01M79.3 609.1h.01M114.3 605.8h.01M61.5 577.9h.01M62.8 621.8h.01M58.0 622.8h.01M75.6 614.8h.01M119.7 589.9h.01M62.6 573.6h.01M105.1 570.7h.01M118.4 577.7h.01M120.3 602.3h.01M121.7 579.0h.01M61.0 579.8h.01M75.3 611.0h.01M86.1 613.8h.01M73.6 610.6h.01M104.1 609.1h.01M105.0 572.5h.01M86.4 612.1h.01M76.7 563.5h.01M115.7 570.7h.01M86.9 619.9h.01M113.8 573.8h.01M76.9 568.9h.01M120.0 575.3h.01M126.2 582.9h.01M84.2 566.7h.01M120.3 566.9h.01M103.3 613.2h.01M59.7 599.5h.01M124.8 601.1h.01M75.9 613.6h.01M60.2 597.1h.01M113.0 604.0h.01M85.8 611.1h.01M59.8 602.2h.01M119.7 569.2h.01M116.0 567.9h.01M59.7 578.9h.01M74.3 569.9h.01M98.6 571.5h.01M77.5 615.6h.01M116.3 616.0h.01M137.9 610.5h.01M95.3 618.9h.01M64.1 574.3h.01M125.2 607.5h.01M120.2 587.2h.01M85.5 615.9h.01M58.3 574.1h.01M80.5 567.7h.01M62.9 612.4h.01M71.0 569.6h.01M72.0 614.4h.01M88.2 567.8h.01M70.8 561.7h.01M122.2 579.9h.01M101.7 606.1h.01M102.8 607.2h.01M122.7 598.9h.01M83.5 609.4h.01M119.4 601.6h.01M77.7 569.6h.01M62.5 573.0h.01M60.8 567.4h.01M125.3 585.0h.01M103.3 567.5h.01M109.0 569.6h.01M105.7 571.3h.01M120.5 622.6h.01M65.7 605.4h.01M113.4 605.6h.01M105.9 571.7h.01M125.9 591.4h.01M116.2 574.6h.01M119.4 583.8h.01M93.7 621.3h.01M68.1 607.9h.01M121.2 575.6h.01M107.8 623.4h.01M109.6 606.4h.01M81.6 615.6h.01M124.9 605.6h.01M85.7 613.4h.01M86.4 570.0h.01M74.9 568.0h.01M78.5 614.0h.01M120.6 589.0h.01M88.9 626.4h.01M120.9 607.8h.01M86.6 609.6h.01M78.9 568.5h.01M124.4 588.9h.01M80.8 564.5h.01M120.4 582.2h.01M94.0 571.4h.01M83.1 570.2h.01M59.7 614.7h.01M121.6 583.8h.01M81.1 614.9h.01M123.0 598.1h.01M135.3 594.8h.01M113.6 571.9h.01M61.4 616.0h.01M140.0 631.8h.01M58.3 585.1h.01M108.2 607.6h.01M121.4 598.4h.01M76.9 560.6h.01M70.6 570.2h.01M78.3 569.0h.01M87.4 630.7h.01M108.6 571.0h.01M100.2 611.5h.01M91.9 626.7h.01M73.9 610.8h.01M98.5 571.9h.01M107.4 614.4h.01M72.1 609.3h.01M106.2 569.5h.01M117.2 602.6h.01M97.5 608.0h.01M114.1 571.8h.01M123.2 585.7h.01M110.2 606.5h.01M105.0 572.3h.01M61.5 603.8h.01M105.6 567.5h.01M71.9 617.5h.01M63.9 604.7h.01M95.9 614.7h.01M116.2 575.7h.01M119.6 597.8h.01M108.5 571.6h.01M59.3 594.4h.01M65.3 571.7h.01M71.5 570.3h.01M104.5 614.1h.01M94.7 623.8h.01M83.9 622.0h.01M78.6 570.5h.01M111.1 571.2h.01M117.0 572.6h.01M82.4 569.4h.01M130.1 619.0h.01M58.4 595.2h.01M96.1 612.1h.01M119.7 601.5h.01M97.3 608.3h.01M59.2 583.9h.01M92.0 568.1h.01M63.1 562.2h.01M60.0 582.4h.01M80.8 563.9h.01M105.0 606.6h.01M90.8 567.1h.01M88.7 609.5h.01M98.3 607.7h.01M94.7 607.7h.01M83.3 569.0h.01M113.4 566.7h.01M99.4 610.5h.01M114.0 618.0h.01M65.8 567.1h.01M64.6 570.9h.01M107.9 606.7h.01M108.6 616.6h.01M85.4 570.2h.01M112.9 571.1h.01M107.7 612.8h.01M101.1 570.7h.01M125.0 609.3h.01M108.1 568.5h.01M91.8 608.9h.01M105.0 570.8h.01M120.5 584.8h.01M80.5 570.4h.01M67.2 571.3h.01M103.3 571.3h.01M58.8 588.3h.01M120.1 619.2h.01M120.9 609.4h.01M121.2 576.5h.01M69.7 569.8h.01M75.5 613.2h.01M110.9 607.6h.01M62.9 614.2h.01M112.3 571.6h.01M122.7 594.3h.01M89.3 567.5h.01M117.5 577.3h.01M81.2 609.6h.01M74.8 565.6h.01M127.4 605.9h.01M126.8 614.6h.01M75.5 565.7h.01M59.7 587.4h.01M80.3 612.8h.01M120.5 585.5h.01M59.6 606.2h.01M58.4 588.4h.01M60.4 579.6h.01M60.1 606.6h.01M101.4 608.1h.01M125.3 608.8h.01M66.4 572.3h.01M123.1 610.2h.01M120.8 595.7h.01M121.6 614.8h.01M119.8 572.1h.01M58.2 569.3h.01M120.5 597.7h.01M58.7 565.0h.01M60.6 573.5h.01M63.6 568.0h.01M62.5 576.3h.01M111.1 571.3h.01M117.7 601.2h.01M74.4 612.5h.01M116.3 609.2h.01M65.7 571.2h.01M80.3 610.2h.01M83.1 562.9h.01M57.9 596.2h.01M99.6 573.4h.01M77.7 568.5h.01M119.5 592.4h.01M74.6 568.4h.01M77.9 609.3h.01M110.4 570.4h.01M127.6 596.1h.01M58.3 598.7h.01M58.9 597.7h.01M77.9 623.8h.01M120.8 577.6h.01M122.7 607.7h.01M120.7 597.7h.01M59.5 601.9h.01M62.1 573.7h.01M113.9 573.5h.01M88.3 628.1h.01M125.2 617.4h.01M108.4 612.3h.01M103.0 608.2h.01M88.6 613.9h.01M71.7 568.5h.01M94.6 613.3h.01M105.2 569.7h.01M60.2 581.4h.01M84.0 611.9h.01M101.3 573.4h.01M114.5 602.7h.01M66.1 572.3h.01M82.3 568.0h.01M100.4 572.6h.01M61.3 575.4h.01M124.3 596.7h.01M88.0 613.8h.01M109.1 609.0h.01M102.8 565.7h.01M63.4 615.6h.01M113.9 606.6h.01M58.9 593.0h.01M70.8 569.8h.01M67.3 571.8h.01M112.6 604.3h.01M104.0 571.6h.01M105.9 570.0h.01M122.1 590.6h.01M125.2 603.6h.01M71.5 610.9h.01M74.5 608.6h.01M116.8 569.1h.01M58.8 593.4h.01M91.2 620.9h.01M73.0 608.9h.01M78.3 565.4h.01M105.5 566.6h.01M77.9 610.1h.01M123.9 593.2h.01M105.8 607.9h.01M112.6 568.8h.01M93.0 569.8h.01M64.2 570.9h.01M59.2 577.8h.01M80.0 615.5h.01M118.2 613.9h.01M95.6 615.7h.01M64.7 567.4h.01M70.0 565.3h.01M121.2 611.1h.01M119.9 590.9h.01M120.8 592.1h.01M59.8 606.9h.01M116.8 598.9h.01M63.4 573.6h.01M67.1 612.2h.01M99.4 570.6h.01M94.5 570.3h.01M102.6 621.2h.01M58.5 561.1h.01M90.6 621.0h.01M109.7 612.1h.01M128.1 611.3h.01M117.4 601.7h.01M68.7 568.3h.01M61.3 571.1h.01M121.3 590.7h.01M121.3 596.5h.01M58.7 588.2h.01M75.2 567.1h.01M61.2 576.2h.01M69.3 568.0h.01M60.7 615.8h.01M106.7 606.7h.01M61.8 604.7h.01M80.8 569.4h.01M93.5 608.5h.01M60.7 580.0h.01M111.6 572.3h.01M126.3 594.3h.01M94.6 553.4h.01M83.6 569.5h.01M125.4 571.2h.01M114.4 573.4h.01M69.0 567.1h.01M123.9 577.3h.01M69.8 618.3h.01M118.0 615.8h.01M109.2 569.3h.01M107.8 619.5h.01M86.5 618.1h.01M118.5 601.1h.01M119.6 575.5h.01M119.3 563.1h.01M120.5 585.1h.01M127.0 588.6h.01M110.7 572.2h.01M85.6 568.2h.01M67.1 569.2h.01M92.7 608.2h.01M120.4 587.7h.01M59.9 597.8h.01M60.1 574.3h.01M99.0 572.3h.01M82.0 610.3h.01M124.6 611.6h.01M125.4 580.0h.01M62.1 574.4h.01M108.1 612.8h.01M97.9 607.2h.01M82.6 569.2h.01M118.9 603.0h.01M110.2 570.8h.01M59.1 581.6h.01M128.1 609.8h.01M127.2 580.0h.01M124.3 590.3h.01M60.1 577.6h.01M79.5 609.1h.01M61.4 601.7h.01M116.2 603.0h.01M96.5 570.4h.01M59.8 612.6h.01M59.0 603.9h.01M63.1 610.0h.01M115.3 620.1h.01M100.7 563.6h.01M110.3 565.4h.01M60.1 581.3h.01M109.9 605.2h.01M120.6 585.9h.01M65.3 606.4h.01M112.8 572.5h.01M122.2 597.8h.01M86.1 622.2h.01M63.7 574.7h.01M97.9 608.3h.01M111.5 613.9h.01M107.8 565.2h.01M124.3 571.8h.01M100.4 573.2h.01M116.3 600.0h.01M122.4 588.0h.01M109.5 566.4h.01M92.4 571.6h.01M122.5 586.3h.01M122.7 611.8h.01M115.9 573.3h.01M112.4 569.4h.01M116.0 569.5h.01M80.7 562.2h.01M92.0 569.1h.01M61.2 599.4h.01M116.2 569.1h.01M128.1 604.4h.01M104.4 616.4h.01M58.6 605.5h.01M113.9 607.3h.01M109.3 570.6h.01M61.5 566.2h.01M103.7 617.4h.01M64.1 572.9h.01M106.9 610.7h.01M91.2 570.3h.01M92.6 620.3h.01M122.2 571.2h.01M82.9 611.3h.01M121.8 569.3h.01M120.0 594.6h.01M114.5 605.8h.01M58.1 575.3h.01M91.3 620.4h.01M64.4 570.1h.01M58.4 602.7h.01M94.3 612.0h.01M85.5 611.5h.01M115.7 575.3h.01M106.1 571.2h.01M67.0 568.2h.01M95.7 567.0h.01M116.8 570.8h.01M109.0 566.7h.01M103.0 628.8h.01M105.6 570.8h.01M105.0 570.7h.01M120.4 581.3h.01M119.0 597.8h.01M73.4 570.4h.01M121.9 584.4h.01M96.7 570.8h.01M110.3 612.1h.01M80.2 566.6h.01M115.0 573.6h.01M124.9 575.8h.01M114.8 603.6h.01M60.5 595.8h.01M74.5 610.6h.01M107.4 569.6h.01M96.0 568.3h.01M126.5 583.8h.01M77.0 570.0h.01M113.7 571.3h.01M66.8 607.4h.01M100.7 609.9h.01M106.6 606.4h.01M116.5 601.5h.01M102.2 605.4h.01M80.9 568.8h.01M119.6 612.8h.01M114.2 573.7h.01M82.2 614.3h.01M68.3 571.1h.01M87.4 618.6h.01M110.8 571.8h.01M99.1 571.7h.01M99.1 568.4h.01M64.1 568.1h.01M74.9 560.6h.01M117.5 575.7h.01M71.4 613.2h.01M99.8 571.2h.01M64.3 610.1h.01M138.0 640.8h.01M101.6 621.0h.01M91.4 564.5h.01M115.1 564.9h.01M67.0 606.7h.01M110.9 608.7h.01M62.8 573.5h.01M62.1 575.1h.01M97.6 571.0h.01M103.1 573.3h.01M60.1 605.2h.01M104.4 608.9h.01M119.0 580.2h.01M92.8 567.3h.01M117.5 577.3h.01M121.8 575.6h.01M98.3 573.0h.01M103.5 572.6h.01M123.7 607.6h.01M86.0 567.2h.01M59.5 576.2h.01M123.4 578.7h.01M127.6 588.7h.01M101.2 612.8h.01M116.6 570.9h.01M120.5 585.4h.01M75.9 563.8h.01M101.6 606.1h.01M68.2 571.7h.01M69.7 567.4h.01M93.3 627.6h.01M66.6 565.7h.01M60.8 575.5h.01M106.9 615.9h.01M127.3 581.4h.01M99.4 568.9h.01M63.6 610.0h.01M69.8 608.4h.01M106.8 571.8h.01M73.4 610.1h.01M78.6 569.0h.01M109.7 566.4h.01M95.7 571.0h.01M106.2 606.8h.01M94.6 607.7h.01M105.4 561.1h.01M98.1 617.9h.01M112.8 572.3h.01M63.0 612.8h.01M61.3 573.1h.01M83.2 569.4h.01M78.4 618.5h.01M71.1 622.9h.01M114.7 610.4h.01M101.6 614.3h.01M119.9 581.1h.01M119.6 591.2h.01M58.3 575.8h.01M64.9 571.0h.01M104.2 567.2h.01M106.5 569.2h.01M116.8 574.9h.01M117.4 573.6h.01M65.5 568.3h.01M113.7 573.3h.01M62.3 574.2h.01M84.6 634.4h.01M101.8 608.7h.01M60.4 572.5h.01M115.5 572.4h.01M116.1 622.6h.01M86.9 612.8h.01M59.0 585.1h.01M124.1 618.7h.01M101.5 571.8h.01M104.0 610.5h.01M112.8 614.0h.01M76.6 564.7h.01M120.7 578.6h.01M88.8 567.9h.01M100.7 609.6h.01M70.0 570.7h.01M110.6 571.4h.01M100.2 608.1h.01M88.1 570.3h.01M64.2 633.5h.01M100.5 612.5h.01M123.3 577.5h.01M69.2 609.6h.01M121.4 623.2h.01M108.1 607.8h.01M115.0 606.4h.01M92.5 608.4h.01M92.9 570.0h.01M58.1 612.0h.01M119.9 576.5h.01M110.0 607.5h.01M122.3 584.0h.01M102.3 567.0h.01M109.0 608.1h.01M103.7 607.0h.01M112.5 572.2h.01M123.9 592.1h.01M69.8 563.9h.01M71.1 570.2h.01M97.5 609.2h.01M105.8 607.4h.01M91.1 570.7h.01M114.1 573.0h.01M70.4 607.7h.01M73.5 616.2h.01M79.7 568.7h.01M81.9 621.0h.01M117.2 604.0h.01M112.8 567.3h.01M87.3 611.7h.01M109.3 571.7h.01M73.1 565.5h.01M120.4 586.9h.01M119.7 579.2h.01M103.5 570.5h.01M101.2 612.8h.01M116.9 576.3h.01M60.4 582.2h.01M77.8 562.2h.01M121.3 575.2h.01M93.3 567.5h.01M91.9 615.2h.01M59.8 577.7h.01M101.9 608.1h.01M115.3 606.7h.01M88.7 614.4h.01M122.2 580.2h.01M62.7 604.9h.01M93.2 566.4h.01M73.1 620.5h.01M79.9 614.4h.01M125.5 587.7h.01M123.1 570.2h.01M102.3 571.4h.01M86.7 568.7h.01M58.4 588.3h.01M79.0 626.1h.01M68.3 607.1h.01M116.4 600.1h.01M122.5 575.6h.01M71.4 567.7h.01M123.2 579.1h.01M121.0 577.0h.01M58.7 570.7h.01M122.8 589.4h.01M122.0 577.6h.01M87.9 613.8h.01M113.7 569.6h.01M111.9 572.7h.01M121.9 597.3h.01M87.9 568.3h.01M78.2 614.7h.01M75.7 568.4h.01M107.8 606.1h.01M116.6 609.1h.01M84.2 567.8h.01M59.7 583.3h.01M59.5 589.1h.01M128.0 599.7h.01M80.2 613.7h.01M70.6 570.3h.01M62.5 576.1h.01M118.9 594.7h.01M121.2 581.9h.01M95.1 569.3h.01M97.9 609.3h.01M71.1 570.8h.01M118.0 605.8h.01M58.4 611.6h.01M97.9 571.0h.01M89.1 612.0h.01M60.6 570.6h.01M77.4 568.2h.01M87.0 569.6h.01M63.6 620.6h.01M117.5 573.9h.01M60.6 606.1h.01M65.5 622.9h.01M128.5 577.9h.01M118.8 614.8h.01M59.3 583.0h.01M92.1 618.1h.01M127.4 576.7h.01M112.6 605.7h.01M62.0 614.0h.01M104.1 571.2h.01M106.3 645.0h.01M60.5 603.2h.01M107.0 605.3h.01M101.0 616.5h.01M94.2 615.3h.01M126.0 584.4h.01M63.4 574.9h.01M79.1 568.5h.01M104.3 572.8h.01M67.5 610.8h.01M87.3 613.1h.01M101.6 611.3h.01M68.4 621.4h.01M84.9 568.2h.01M72.0 609.3h.01M124.3 589.9h.01M105.4 569.0h.01M57.8 580.9h.01M86.4 567.2h.01M98.1 562.9h.01M121.7 611.1h.01M118.4 573.6h.01M124.3 582.9h.01M123.5 582.7h.01M127.9 614.8h.01M121.3 590.9h.01M104.0 611.7h.01M58.5 606.2h.01M126.3 590.2h.01M105.8 571.8h.01M105.1 608.9h.01M77.0 566.3h.01M74.7 612.9h.01M79.2 621.2h.01M120.8 617.1h.01M73.2 564.3h.01M58.2 584.8h.01M58.3 599.4h.01M81.5 611.1h.01M60.5 581.8h.01M65.4 568.3h.01M90.9 612.1h.01M114.2 606.4h.01M59.9 620.2h.01M123.4 604.8h.01M105.8 607.4h.01M96.0 609.0h.01M65.3 606.4h.01M62.2 610.0h.01M60.0 597.6h.01M58.3 611.3h.01M103.6 570.8h.01M79.8 568.0h.01M123.1 585.4h.01M58.5 578.2h.01M77.2 612.2h.01M135.4 620.4h.01M97.7 570.5h.01M73.3 610.7h.01M109.6 571.1h.01M121.2 586.7h.01M63.2 573.9h.01M96.3 564.7h.01M105.7 571.2h.01M75.8 609.6h.01M59.7 608.6h.01M58.7 593.0h.01M78.2 621.2h.01M120.7 582.2h.01M77.2 565.9h.01M101.8 570.3h.01M116.5 568.6h.01M90.7 568.7h.01M92.7 567.8h.01M63.1 574.6h.01M77.0 617.2h.01M120.6 583.0h.01M109.8 571.5h.01M78.1 570.3h.01M103.5 568.8h.01M74.1 613.1h.01M58.2 597.2h.01M101.7 567.3h.01M98.7 570.9h.01M121.1 589.4h.01M103.7 570.2h.01M125.5 585.3h.01M62.5 574.9h.01M112.5 573.2h.01M65.4 621.4h.01M116.0 604.5h.01M113.7 573.1h.01M58.8 584.5h.01M112.9 604.3h.01M121.1 616.7h.01M122.2 582.7h.01M116.0 571.6h.01M64.3 573.3h.01M79.9 620.7h.01M93.5 566.0h.01M131.0 599.8h.01M58.9 602.9h.01M84.5 617.1h.01M58.2 590.6h.01M65.0 572.9h.01M59.3 591.9h.01M119.0 581.8h.01M100.5 569.4h.01M123.6 584.8h.01M58.5 612.2h.01M84.4 561.5h.01M59.5 615.1h.01M118.8 607.6h.01M126.8 620.8h.01M61.9 608.9h.01M114.3 604.9h.01M59.4 599.5h.01M120.8 613.9h.01M112.4 567.2h.01M99.5 615.5h.01M135.6 591.8h.01M75.4 618.5h.01M102.1 571.9h.01M116.0 571.0h.01M120.8 598.7h.01M121.1 574.2h.01M109.8 570.8h.01M118.9 595.7h.01M64.0 609.1h.01M60.0 593.6h.01M117.2 575.1h.01M118.7 597.2h.01M78.0 611.3h.01M121.2 584.2h.01M65.7 570.9h.01M119.4 593.8h.01M100.1 567.1h.01M108.6 619.0h.01M124.4 589.7h.01M111.5 606.8h.01M125.5 590.7h.01M118.4 597.3h.01M97.0 560.8h.01M77.9 615.5h.01M69.3 570.5h.01M103.9 567.4h.01M115.5 622.2h.01M104.8 569.5h.01M109.1 620.0h.01M76.3 561.3h.01M118.7 607.9h.01M95.1 567.9h.01M105.8 571.9h.01" stroke="#1c1c1c" stroke-width="0.55" stroke-linecap="square" opacity="0.85"/>
<path d="M86.3 612.2h.01M141.4 592.4h.01M119.7 556.4h.01M80.2 618.8h.01M122.9 577.5h.01M99.5 623.5h.01M114.2 627.4h.01M87.4 563.7h.01M125.9 611.0h.01M72.9 623.5h.01M115.7 606.4h.01M66.1 628.8h.01M109.3 608.0h.01M115.1 606.6h.01M73.5 558.3h.01M105.4 613.2h.01M90.2 614.3h.01M74.3 570.2h.01M108.6 607.1h.01M121.1 593.9h.01M90.6 621.1h.01M138.4 631.6h.01M59.6 604.5h.01M109.6 621.7h.01M100.6 617.7h.01M73.2 628.7h.01M68.4 558.3h.01M71.4 620.7h.01M104.8 631.9h.01M96.0 624.2h.01M78.3 557.5h.01M119.7 562.9h.01M103.2 612.9h.01M161.8 641.7h.01M128.3 570.4h.01M63.1 576.2h.01M130.3 600.1h.01M88.1 561.0h.01M127.4 616.5h.01M154.1 544.8h.01M132.5 632.9h.01M135.1 611.4h.01M135.4 579.8h.01M150.6 641.8h.01M90.4 644.7h.01M124.9 615.4h.01M69.8 608.6h.01M96.4 612.5h.01M89.7 547.4h.01M130.5 578.8h.01M151.2 618.7h.01M129.5 582.9h.01M100.8 609.4h.01M73.0 566.4h.01M83.6 617.3h.01M119.8 597.2h.01M58.2 606.4h.01M142.3 575.0h.01M90.1 627.6h.01M78.0 619.4h.01M79.9 614.6h.01M109.8 614.8h.01M131.0 584.0h.01M148.1 562.6h.01M139.7 644.5h.01M146.8 604.5h.01M149.7 591.3h.01M112.0 607.0h.01M82.7 625.4h.01M129.1 576.5h.01M119.9 583.9h.01M110.4 616.9h.01M134.7 567.4h.01M94.8 620.2h.01M114.1 624.4h.01M133.0 595.3h.01M60.3 547.5h.01M125.2 575.0h.01M131.5 618.3h.01M130.9 585.7h.01M109.7 554.6h.01M63.2 617.2h.01M137.4 551.7h.01M127.3 601.7h.01M91.1 543.7h.01M77.7 622.8h.01M113.1 549.1h.01M81.5 566.0h.01M102.0 622.6h.01M85.2 613.0h.01M114.6 545.2h.01M108.5 626.6h.01M70.2 567.4h.01M105.2 562.1h.01M129.6 566.4h.01M102.1 616.8h.01M100.7 570.1h.01M76.1 553.5h.01M97.1 570.2h.01M90.5 550.9h.01M136.4 582.1h.01M116.1 546.8h.01M119.4 616.4h.01M144.3 582.6h.01M80.5 556.4h.01M138.1 579.9h.01M87.8 627.3h.01M126.9 601.0h.01M116.0 563.0h.01M93.6 616.2h.01M120.7 621.4h.01M135.3 614.6h.01M113.7 613.5h.01M69.3 629.7h.01M87.7 609.6h.01M113.4 608.6h.01M121.7 589.4h.01M97.8 544.3h.01M126.8 599.3h.01M144.5 566.0h.01M97.6 552.4h.01M93.7 570.6h.01M98.5 635.6h.01M120.6 618.5h.01M114.6 614.1h.01M123.5 638.1h.01M65.6 627.1h.01M127.9 559.0h.01M160.1 607.2h.01M144.5 605.5h.01M84.6 621.5h.01M132.3 596.2h.01M130.5 590.2h.01M118.8 559.2h.01M72.1 570.8h.01M112.7 610.2h.01M118.0 630.7h.01M106.1 619.0h.01M115.1 614.9h.01M81.0 636.1h.01M118.8 600.1h.01M97.4 613.3h.01M119.1 597.7h.01M87.9 612.6h.01M78.8 620.4h.01M124.9 584.6h.01M140.7 559.0h.01M122.8 613.6h.01M126.0 605.2h.01M120.9 609.7h.01M72.8 560.3h.01M123.4 586.6h.01M106.2 606.7h.01M99.8 608.9h.01M93.7 613.0h.01M113.8 572.7h.01M65.8 571.1h.01M142.6 610.1h.01M117.8 613.8h.01M99.8 553.7h.01M91.8 619.2h.01M103.3 632.7h.01M142.6 548.1h.01M114.4 613.7h.01M103.1 614.3h.01M86.7 614.7h.01M86.6 560.4h.01M100.0 621.1h.01M127.4 600.1h.01M107.3 571.3h.01M100.6 618.6h.01M95.3 549.9h.01M90.6 629.0h.01M128.4 619.7h.01M158.3 577.8h.01M90.1 618.9h.01M115.7 570.7h.01M129.7 600.6h.01M115.4 603.1h.01M101.6 558.5h.01M68.5 612.1h.01M86.2 617.4h.01M133.6 555.9h.01M147.8 579.4h.01M132.0 591.4h.01M141.4 615.9h.01M116.8 623.6h.01M64.6 561.3h.01M122.6 631.3h.01M124.4 595.4h.01M65.4 608.6h.01M125.5 572.7h.01M121.4 620.3h.01M102.6 572.7h.01M60.0 591.5h.01M107.7 567.7h.01M120.3 619.1h.01M123.0 582.2h.01M146.7 611.7h.01M96.2 554.9h.01M137.4 603.1h.01M112.2 570.3h.01M99.6 569.3h.01M116.7 563.4h.01M125.1 593.5h.01M105.5 611.4h.01M123.5 626.3h.01M80.2 627.4h.01M58.3 570.9h.01M89.8 548.8h.01M89.8 612.4h.01M133.7 611.8h.01M145.0 585.2h.01M120.7 555.1h.01M137.7 619.8h.01M153.1 586.0h.01M89.1 609.3h.01M116.3 605.9h.01M115.7 603.5h.01M95.5 627.7h.01M57.8 560.2h.01M107.4 632.5h.01M123.0 625.0h.01M154.1 584.4h.01M66.6 562.5h.01M93.0 557.3h.01M138.4 633.4h.01M85.0 612.2h.01M150.2 609.4h.01M149.4 596.4h.01M83.1 615.6h.01M70.5 568.1h.01M96.4 610.4h.01M115.2 573.4h.01M135.8 584.6h.01M76.4 570.2h.01M129.3 595.4h.01M152.2 595.4h.01M97.3 612.8h.01M106.1 608.6h.01M83.6 618.3h.01M61.4 623.4h.01M127.3 626.5h.01M143.2 600.6h.01M97.0 564.4h.01M127.5 584.4h.01M115.1 605.8h.01M92.7 556.3h.01M70.3 617.3h.01M67.9 619.1h.01M93.3 617.0h.01M118.0 550.2h.01M99.7 568.4h.01M97.7 639.5h.01M79.0 615.2h.01M111.7 555.1h.01M72.2 618.0h.01M95.1 616.9h.01M65.8 572.0h.01M74.2 611.2h.01M73.9 609.5h.01M105.3 636.2h.01M103.3 605.2h.01M91.6 562.5h.01M120.6 553.3h.01M111.6 616.9h.01M141.8 610.5h.01M127.0 600.4h.01M79.6 638.8h.01M99.6 566.0h.01M78.9 609.9h.01M125.5 558.0h.01M131.2 607.3h.01M71.2 627.3h.01M104.0 615.8h.01M122.3 617.2h.01M141.2 578.5h.01M88.7 621.2h.01M143.5 584.2h.01M62.1 626.9h.01M99.2 572.8h.01M117.5 599.3h.01M142.9 572.2h.01M63.2 642.7h.01M75.4 569.1h.01M71.7 613.9h.01M108.5 613.8h.01M127.8 617.8h.01M132.9 613.4h.01M102.2 558.2h.01M84.5 615.1h.01M80.8 554.1h.01M63.4 624.8h.01M76.0 629.5h.01M90.6 568.9h.01M71.0 566.2h.01M110.8 566.9h.01M62.3 615.4h.01M150.2 598.6h.01M58.9 594.6h.01M118.9 593.9h.01M72.5 611.6h.01M129.3 583.3h.01M116.4 574.1h.01M77.4 621.1h.01M126.6 624.9h.01M127.2 568.2h.01M94.1 570.4h.01M76.1 624.9h.01M127.6 621.6h.01M60.2 597.7h.01M88.2 567.0h.01M119.0 560.9h.01M128.5 594.1h.01M104.0 626.7h.01M78.6 615.0h.01M87.1 617.5h.01M90.8 633.5h.01M98.7 572.8h.01M113.2 608.5h.01M101.2 645.5h.01M132.1 559.3h.01M130.2 636.7h.01M145.9 555.1h.01M59.6 617.8h.01M58.8 607.2h.01M92.8 557.9h.01M60.0 567.4h.01M86.1 559.9h.01M140.2 591.0h.01M122.3 624.2h.01M134.0 569.1h.01M87.5 626.4h.01M128.5 599.6h.01M114.9 569.3h.01M111.4 565.8h.01M94.9 562.3h.01M123.7 578.7h.01M83.6 568.0h.01M118.7 596.3h.01M103.9 606.5h.01M131.9 606.9h.01M139.0 577.1h.01M111.5 611.4h.01M141.3 581.7h.01M115.2 638.9h.01M127.6 581.1h.01M140.6 567.5h.01M130.1 628.9h.01M85.4 623.0h.01M108.5 620.4h.01M101.4 615.7h.01M142.7 591.7h.01M83.1 614.0h.01M109.8 554.8h.01M118.0 611.6h.01M103.9 609.1h.01M82.6 546.0h.01M119.1 608.0h.01M78.8 618.4h.01M110.7 632.9h.01M139.3 591.9h.01M147.2 580.3h.01M83.6 614.6h.01M139.2 613.9h.01M117.3 568.2h.01M98.4 607.5h.01M118.5 574.8h.01M99.3 630.5h.01M111.1 604.4h.01M151.2 560.9h.01M112.5 629.3h.01M88.2 613.5h.01M65.8 562.2h.01M87.6 569.9h.01M129.0 609.2h.01M114.0 645.6h.01M142.7 565.6h.01M120.1 640.1h.01M102.8 605.8h.01M105.1 615.4h.01M115.6 573.0h.01M121.1 545.2h.01M76.3 618.9h.01M94.4 612.5h.01M83.4 562.9h.01M103.8 629.6h.01M135.7 599.0h.01M87.0 609.5h.01M107.6 564.7h.01M105.7 609.7h.01M93.9 634.5h.01M87.0 611.6h.01M96.3 608.8h.01M126.9 588.6h.01M88.4 634.8h.01M86.3 642.6h.01M92.5 561.7h.01M133.5 577.8h.01M101.0 645.7h.01M79.0 620.7h.01M83.3 609.7h.01M146.3 636.0h.01M113.0 564.0h.01M125.6 594.3h.01M107.8 616.3h.01M80.2 622.0h.01M116.4 611.5h.01M130.8 624.9h.01M153.3 580.1h.01M142.9 584.6h.01M110.1 570.9h.01M134.6 602.4h.01M75.4 561.4h.01M108.1 554.4h.01M106.2 610.6h.01M97.3 623.0h.01M63.4 622.0h.01M90.3 621.3h.01M100.2 570.8h.01M126.0 630.8h.01M70.5 633.5h.01M122.7 587.8h.01M95.9 618.3h.01M118.2 612.7h.01M149.7 618.6h.01" stroke="#3a3a3a" stroke-width="0.5" stroke-linecap="square" opacity="0.7"/>
<path d="M60.9 561.7h.01M61.0 586.7h.01M58.6 578.7h.01M58.4 555.7h.01M58.9 611.0h.01M59.1 558.8h.01M58.6 596.3h.01M59.0 612.1h.01M59.1 587.6h.01M59.0 588.7h.01M59.4 570.0h.01M58.9 582.4h.01M60.3 557.3h.01M59.1 634.6h.01M59.9 604.6h.01M58.8 587.1h.01M58.6 601.5h.01M59.1 581.7h.01M58.5 570.1h.01M60.7 582.3h.01M59.5 580.6h.01M58.7 598.8h.01M59.5 579.4h.01M59.6 557.4h.01M58.5 602.8h.01M58.3 586.5h.01M60.7 578.6h.01M61.2 591.2h.01M60.3 560.0h.01M58.7 594.3h.01M60.1 587.5h.01M59.1 569.1h.01M58.7 556.2h.01M59.8 607.1h.01M60.6 583.4h.01M58.3 573.5h.01M58.4 571.6h.01M60.4 591.2h.01M59.4 568.9h.01M59.6 599.2h.01M62.5 566.4h.01M61.1 606.1h.01M58.4 582.8h.01M59.7 597.0h.01M59.7 578.5h.01M59.2 589.5h.01M60.6 581.6h.01M60.1 595.9h.01M58.5 603.1h.01M58.9 571.5h.01M60.8 596.8h.01M59.3 583.4h.01M58.4 600.9h.01M59.3 606.6h.01M59.9 547.5h.01M59.9 601.0h.01M60.0 592.3h.01M58.7 588.5h.01M59.4 581.0h.01M59.7 602.3h.01M58.5 559.8h.01M60.2 603.4h.01M59.8 604.7h.01M61.5 584.4h.01M58.7 599.8h.01M60.3 591.4h.01M58.9 583.7h.01M59.0 565.4h.01M58.4 575.8h.01M58.4 611.0h.01M60.1 608.7h.01M59.2 597.8h.01M60.2 593.6h.01M59.6 601.2h.01M61.3 604.4h.01M59.8 567.9h.01M59.2 563.3h.01M59.7 599.5h.01M59.7 600.2h.01M58.5 571.4h.01M60.3 583.8h.01M60.3 601.5h.01M60.8 623.3h.01M58.6 613.0h.01M60.3 577.8h.01M59.3 598.8h.01M59.6 584.6h.01M58.6 606.1h.01M58.8 606.8h.01M58.6 588.5h.01M58.7 594.9h.01M58.9 573.1h.01M61.9 594.0h.01M58.8 561.3h.01M59.6 576.3h.01M58.7 615.2h.01M59.0 594.1h.01M59.2 567.6h.01M58.7 560.9h.01M58.6 620.8h.01M59.1 594.3h.01M59.6 585.3h.01M59.3 607.7h.01M59.1 575.0h.01M60.6 566.9h.01M59.9 585.1h.01M59.5 562.8h.01M60.4 578.7h.01M59.8 600.1h.01M60.2 575.5h.01M59.1 595.1h.01M60.2 584.7h.01M58.6 594.9h.01M59.8 567.1h.01M58.7 590.8h.01M59.6 558.7h.01M59.7 590.3h.01M59.4 576.4h.01M58.4 582.4h.01M60.3 587.3h.01M58.9 571.3h.01M59.2 556.9h.01M58.9 589.9h.01M58.9 605.5h.01M60.6 588.5h.01M59.0 570.1h.01M62.2 595.5h.01M59.1 594.8h.01M59.2 603.3h.01M61.6 579.8h.01M58.4 589.3h.01M59.1 565.3h.01M60.4 584.4h.01M60.0 602.1h.01M59.2 585.8h.01M59.5 603.2h.01M60.9 573.2h.01M58.3 592.5h.01M60.3 596.1h.01M59.1 602.5h.01M59.1 574.3h.01M59.1 563.1h.01M59.3 595.6h.01M59.5 581.0h.01M58.6 603.5h.01M59.2 565.9h.01M59.2 568.8h.01M59.1 587.2h.01M59.6 598.9h.01M58.3 583.7h.01M58.7 587.1h.01M59.3 582.8h.01M59.7 606.5h.01M59.8 571.5h.01M61.4 592.1h.01M58.7 584.4h.01M60.7 582.3h.01M58.7 568.9h.01M58.8 567.7h.01M60.8 593.7h.01M58.4 597.6h.01M59.4 550.1h.01M59.8 597.5h.01M59.6 582.5h.01M60.5 589.6h.01M60.2 614.8h.01M58.7 578.6h.01M59.6 591.2h.01M60.5 570.7h.01M60.3 589.7h.01M59.6 587.3h.01M59.3 593.3h.01M59.5 593.5h.01M58.4 613.0h.01M58.9 594.6h.01M59.5 578.7h.01M60.8 582.9h.01M59.9 573.6h.01M58.5 583.0h.01M59.9 559.3h.01M59.0 568.7h.01M59.6 558.5h.01M59.5 591.4h.01M58.6 553.8h.01M58.6 592.8h.01M60.8 567.7h.01M62.1 585.0h.01M58.7 601.4h.01M58.8 567.4h.01M58.5 609.0h.01M58.4 587.2h.01M58.4 583.4h.01M58.3 612.3h.01M59.1 597.7h.01M59.5 587.0h.01M59.1 582.9h.01M59.1 577.5h.01M59.1 593.8h.01M58.4 588.6h.01M60.0 581.7h.01M58.3 596.3h.01M59.4 589.8h.01M58.7 598.3h.01M59.5 584.1h.01M59.0 604.8h.01M60.0 610.2h.01M58.7 598.8h.01M58.6 591.7h.01M59.6 587.0h.01M58.6 590.8h.01M60.5 558.3h.01M59.4 594.1h.01M59.0 564.5h.01M60.6 592.2h.01M59.1 611.0h.01M58.6 597.1h.01M59.9 563.7h.01M58.4 558.5h.01M59.7 581.0h.01M58.7 587.4h.01M58.5 575.0h.01M59.0 589.2h.01M59.8 587.4h.01M59.0 577.6h.01M60.2 618.4h.01M58.4 584.0h.01M60.6 586.2h.01M58.8 577.9h.01M60.7 598.4h.01M58.6 586.0h.01M62.1 594.8h.01M59.7 582.2h.01M58.7 571.2h.01M58.6 581.5h.01M59.4 578.8h.01M59.8 560.6h.01M58.7 573.7h.01M59.1 578.0h.01M60.2 599.2h.01M60.3 604.9h.01M58.7 585.2h.01M59.7 559.2h.01M63.0 582.9h.01M59.5 601.2h.01M61.0 584.6h.01M60.8 581.2h.01M58.4 590.7h.01M59.1 596.4h.01M59.7 572.5h.01M58.4 555.3h.01M58.4 576.2h.01M58.6 560.7h.01M59.2 554.5h.01M58.7 581.7h.01M59.3 581.5h.01M59.3 580.7h.01M58.4 585.6h.01M59.2 591.9h.01M59.9 573.1h.01M58.6 586.2h.01M59.8 577.6h.01M60.2 602.4h.01M60.4 604.9h.01M58.4 608.5h.01M59.1 585.7h.01M60.7 577.0h.01M60.1 588.6h.01M58.8 604.5h.01M60.2 582.9h.01M58.8 593.8h.01M59.2 614.4h.01M59.1 579.7h.01M58.5 563.7h.01M58.9 578.2h.01M59.8 596.2h.01M59.7 570.4h.01M58.9 585.8h.01M58.6 615.9h.01M58.3 585.7h.01M59.6 587.6h.01M59.4 585.2h.01M60.8 571.0h.01M60.1 590.5h.01M60.3 609.5h.01M59.9 599.5h.01M60.4 604.5h.01M60.9 584.8h.01M58.7 585.5h.01M58.7 595.7h.01M59.9 567.2h.01M58.6 582.5h.01M58.6 568.4h.01M58.3 596.9h.01M59.3 590.1h.01M58.9 582.4h.01M61.2 582.3h.01M59.5 569.4h.01M58.6 568.3h.01M59.0 584.1h.01M59.6 570.7h.01M60.6 574.1h.01M58.4 584.1h.01M60.9 599.2h.01M58.8 586.2h.01M60.1 599.5h.01M60.6 582.2h.01M60.5 592.9h.01M59.9 625.0h.01M60.0 594.4h.01M58.5 590.9h.01M58.3 591.1h.01M58.3 592.1h.01M60.1 621.8h.01M58.3 611.6h.01M59.7 581.7h.01M59.5 591.3h.01M59.7 573.8h.01M58.9 576.2h.01M59.3 590.6h.01M60.0 613.8h.01M60.1 590.8h.01M58.7 590.7h.01M59.3 573.6h.01M58.8 576.0h.01M58.8 582.6h.01M58.9 583.7h.01M58.5 581.3h.01M59.6 584.2h.01M59.6 606.0h.01M59.7 571.0h.01M59.8 584.1h.01M58.3 605.6h.01M60.0 595.0h.01M59.0 601.7h.01M58.7 587.5h.01M59.3 573.3h.01M60.6 570.5h.01M58.9 613.2h.01M58.5 585.0h.01M59.0 591.7h.01M60.2 568.6h.01M60.8 590.6h.01M58.4 588.0h.01M60.4 577.6h.01M59.3 584.3h.01M58.6 623.2h.01M58.9 610.2h.01M61.4 571.1h.01M58.6 578.2h.01M61.4 552.2h.01M60.3 587.2h.01M59.1 581.9h.01M59.0 565.8h.01M58.6 600.7h.01M59.1 605.3h.01M60.0 577.5h.01M58.4 572.3h.01M59.3 585.0h.01M59.8 597.8h.01M60.8 578.6h.01M59.1 608.8h.01M58.3 580.3h.01M59.9 616.3h.01M59.6 577.9h.01M59.0 581.6h.01M58.6 588.3h.01M61.0 599.6h.01M60.1 602.8h.01M59.8 586.7h.01M60.0 608.8h.01M58.9 584.5h.01M59.6 583.2h.01M59.0 571.0h.01M58.4 608.9h.01M59.0 584.7h.01M58.7 589.4h.01M60.4 578.2h.01M59.1 587.4h.01M60.6 608.1h.01M61.3 613.5h.01M58.3 601.8h.01M59.4 580.6h.01M59.2 601.0h.01M58.5 589.7h.01M59.1 576.4h.01M60.0 586.1h.01M60.9 574.4h.01M60.2 580.6h.01M59.9 573.8h.01M58.7 574.3h.01M58.5 600.1h.01M59.3 611.2h.01M58.6 578.7h.01M58.3 576.5h.01M58.6 570.7h.01M59.0 612.9h.01M58.8 575.0h.01M59.7 593.8h.01M58.8 587.9h.01M59.7 577.8h.01M59.4 599.9h.01M59.5 608.4h.01M58.3 581.3h.01M61.3 589.9h.01M58.3 598.2h.01M58.5 572.5h.01M59.8 558.7h.01M58.6 583.4h.01M59.7 585.1h.01M58.7 584.5h.01M59.4 579.7h.01M60.7 592.3h.01M58.9 579.2h.01M60.8 601.5h.01M58.9 597.2h.01M62.8 597.6h.01M59.6 597.5h.01M59.4 583.5h.01M59.3 615.9h.01M59.4 609.3h.01M59.4 555.2h.01M58.8 598.1h.01M60.2 593.7h.01M58.7 577.7h.01M58.6 597.3h.01M60.0 612.5h.01M58.6 586.1h.01M58.6 587.8h.01M60.2 598.7h.01M58.3 622.9h.01M61.4 576.4h.01M59.0 570.7h.01M61.0 583.3h.01M59.6 573.6h.01M58.5 594.8h.01M59.8 602.1h.01M58.9 575.5h.01M59.8 603.5h.01M58.8 584.6h.01M59.1 548.1h.01M58.6 614.6h.01M60.4 602.5h.01M58.4 592.9h.01M58.6 578.6h.01M58.8 574.4h.01M58.4 600.3h.01M59.8 586.3h.01M61.8 583.0h.01M59.5 577.6h.01M58.8 575.8h.01M59.5 585.8h.01M58.8 580.2h.01M59.8 584.5h.01M58.4 590.8h.01M60.4 611.0h.01M58.3 612.8h.01M58.8 564.0h.01M58.7 596.9h.01M63.8 603.6h.01M59.5 576.5h.01M59.4 564.0h.01M62.6 576.9h.01M58.6 569.6h.01M58.6 576.1h.01M60.2 552.6h.01M61.3 571.1h.01M60.7 577.2h.01M58.9 552.2h.01M59.2 595.9h.01M58.5 583.9h.01M59.0 596.1h.01M59.4 575.6h.01M60.0 590.1h.01M60.2 592.8h.01M58.7 559.0h.01M58.6 576.8h.01M58.4 568.9h.01M58.8 568.6h.01M60.3 590.0h.01M58.5 585.0h.01M59.2 577.0h.01M60.3 572.7h.01M58.7 595.0h.01M59.0 613.6h.01M58.5 592.7h.01M58.5 607.0h.01M59.5 568.6h.01M59.6 575.8h.01M58.5 598.2h.01M59.1 581.6h.01M60.3 585.2h.01M58.6 608.7h.01M60.6 571.6h.01M59.5 583.0h.01M60.2 583.9h.01M60.3 575.1h.01M58.3 609.8h.01M59.0 572.6h.01M58.8 568.8h.01M59.2 573.0h.01M59.7 608.4h.01M58.5 581.0h.01M60.9 601.6h.01M61.0 598.6h.01M60.0 581.2h.01M58.8 576.1h.01M58.5 596.3h.01M58.5 562.7h.01M59.6 574.1h.01M59.1 558.8h.01M59.9 575.5h.01M60.1 593.9h.01M59.7 583.4h.01M59.5 594.6h.01M60.2 574.6h.01M62.1 581.4h.01M59.0 591.7h.01M58.5 579.6h.01M60.3 567.3h.01M58.3 584.9h.01M59.0 570.6h.01M60.0 600.6h.01M60.6 597.2h.01M58.9 579.1h.01M58.6 598.7h.01M59.8 600.5h.01M58.9 580.5h.01M59.7 570.9h.01M59.0 569.3h.01M59.4 583.4h.01M58.9 576.2h.01M60.9 602.7h.01M59.0 576.3h.01M59.1 565.8h.01M59.7 574.4h.01M59.8 594.7h.01M60.6 580.8h.01M59.5 545.7h.01M58.6 556.2h.01M59.8 595.4h.01M61.8 595.4h.01M59.3 611.1h.01M60.8 560.9h.01M60.1 618.1h.01M60.1 593.8h.01M58.9 597.5h.01M59.9 568.0h.01M58.6 585.7h.01M58.8 606.3h.01M58.7 593.1h.01M58.9 589.8h.01M58.4 611.9h.01M58.6 575.4h.01M59.9 593.4h.01M59.1 589.4h.01M60.1 604.9h.01M59.4 599.6h.01M58.7 596.1h.01M58.3 558.0h.01M60.9 585.2h.01M59.4 593.1h.01M61.0 591.1h.01M59.6 567.4h.01M59.1 594.1h.01M59.9 599.6h.01M58.5 593.3h.01M62.1 571.1h.01M58.7 597.1h.01M58.3 600.7h.01M61.1 589.5h.01M59.9 580.2h.01M59.1 588.0h.01M60.4 602.1h.01M58.3 563.2h.01M60.3 578.0h.01M61.5 614.0h.01M58.9 596.5h.01M58.3 606.0h.01M59.8 617.9h.01M58.5 608.5h.01M60.3 583.8h.01M59.7 569.5h.01M61.3 585.1h.01M59.3 580.8h.01M61.1 557.9h.01M58.5 592.3h.01M60.2 571.0h.01M59.1 604.9h.01M59.4 594.7h.01M58.9 596.3h.01M58.8 579.5h.01M58.8 567.5h.01M58.5 562.2h.01M58.7 570.6h.01M58.3 578.6h.01M59.3 601.4h.01M59.7 550.0h.01M59.4 585.2h.01" stroke="#111" stroke-width="0.55" stroke-linecap="square" opacity="1.0"/>
<path d="M62.0,578.0 L62.6,576.8 L63.3,575.9 L64.0,575.0 L64.9,574.2 L66.0,573.5 L67.3,572.8 L68.8,572.3 L70.5,571.8 L72.2,571.3 L74.0,571.0 L75.9,570.7 L77.9,570.6 L79.9,570.5 L82.0,570.4 L84.0,570.5 L86.0,570.7 L88.1,570.9 L90.2,571.3 L92.2,571.6 L94.0,572.0 L95.6,572.4 L97.1,572.9 L98.5,573.4 L99.8,573.8 L101.0,574.0 L102.1,573.9 L103.1,573.6 L104.0,573.1 L105.0,572.7 L106.0,572.5 L107.2,572.4 L108.4,572.4 L109.6,572.5 L110.8,572.6 L112.0,573.0 L113.1,573.5 L114.2,574.2 L115.3,575.0 L116.2,576.0 L117.0,577.0 L117.6,578.2 L118.1,579.5 L118.5,581.0 L118.8,582.5 L119.0,584.0 L119.1,585.5 L119.1,587.1 L119.0,588.8 L118.8,590.4 L118.5,592.0 L118.2,593.7 L117.8,595.4 L117.3,597.1 L116.7,598.7 L116.0,600.0 L115.2,601.1 L114.3,602.0 L113.3,602.8 L112.2,603.5 L111.0,604.0 L109.7,604.4 L108.3,604.6 L106.8,604.7 L105.4,604.8 L104.0,605.0 L102.8,605.3 L101.6,605.5 L100.5,605.8 L99.3,606.2 L98.0,606.5 L96.6,606.9 L95.0,607.3 L93.4,607.8 L91.8,608.2 L90.0,608.5 L88.1,608.7 L86.1,608.9 L84.1,609.1 L82.0,609.1 L80.0,609.0 L78.0,608.8 L75.9,608.5 L73.8,608.1 L71.8,607.6 L70.0,607.0 L68.3,606.4 L66.8,605.7 L65.3,605.0 L64.1,604.1 L63.0,603.0 L62.2,601.7 L61.6,600.1 L61.1,598.5 L60.8,596.7 L60.5,595.0 L60.2,593.2 L60.0,591.4 L59.9,589.6 L59.9,587.8 L60.0,586.0 L60.2,584.3 L60.5,582.6 L60.9,580.9 L61.4,579.4Z" fill="#fff" stroke="#555" stroke-width="0.55"/>
<path d="M61.3,579.6 L62.3,578.5 L63.7,577.6 L65.3,577.0 L67.1,576.6 L68.9,576.3 L70.7,576.1 L72.5,575.9 L74.2,575.8 L75.8,575.7 L77.4,575.5 L78.9,575.1 L80.3,574.7 L82.0,574.1 L83.9,573.7 L86.1,573.6 L88.2,573.9 L90.3,574.4 L92.1,574.7 L93.7,575.1 L95.3,575.4 L96.8,575.9 L98.1,576.5 L99.2,577.1 L100.1,577.9 L100.8,578.8 L101.3,579.8 L101.8,580.8 L102.2,581.9 L102.5,583.0 L102.8,584.1 L103.0,585.3 L103.1,586.6 L103.1,587.9 L102.9,589.3 L102.6,590.6 L102.2,591.9 L101.9,593.1 L101.7,594.5 L101.6,596.0 L101.5,597.6 L101.3,599.2 L100.8,600.7 L99.9,602.0 L98.8,603.0 L97.3,603.8 L95.5,604.2 L93.7,604.3 L91.9,604.3 L90.1,604.3 L88.2,604.4 L86.2,604.7 L84.1,604.8 L82.0,604.8 L80.2,604.7 L78.4,604.5 L76.7,604.3 L74.9,604.0 L73.2,603.8 L71.5,603.4 L70.0,603.0 L68.5,602.5 L67.2,601.8 L65.9,601.1 L64.8,600.2 L63.9,599.2 L63.1,598.1 L62.5,597.0 L62.1,595.7 L61.7,594.4 L61.4,593.0 L61.2,591.5 L61.0,590.0 L60.7,588.4 L60.4,586.5 L60.2,584.6 L60.2,582.7 L60.6,581.0Z M67.2,581.7 L67.9,580.8 L68.7,580.0 L69.7,579.4 L70.8,578.8 L71.9,578.3 L73.1,577.9 L74.2,577.4 L75.3,576.9 L76.5,576.5 L77.8,576.1 L79.2,575.7 L80.7,575.5 L82.5,575.4 L84.4,575.7 L86.3,576.3 L88.1,576.7 L89.8,577.0 L91.4,577.0 L92.8,577.1 L94.2,577.4 L95.4,577.9 L96.3,578.5 L97.1,579.2 L97.8,580.0 L98.3,580.8 L98.7,581.6 L99.0,582.4 L99.4,583.2 L99.8,584.0 L100.2,584.9 L100.6,585.8 L101.0,586.9 L101.3,588.0 L101.5,589.2 L101.5,590.5 L101.4,591.7 L101.1,592.9 L100.8,594.2 L100.4,595.4 L99.9,596.6 L99.3,597.7 L98.4,598.6 L97.4,599.3 L96.2,599.8 L94.9,600.3 L93.7,600.6 L92.4,601.0 L91.1,601.6 L89.7,602.1 L88.1,602.7 L86.3,603.0 L84.5,603.0 L82.8,602.7 L81.2,602.4 L79.7,602.2 L78.2,602.1 L76.6,602.1 L74.9,602.0 L73.3,601.8 L71.8,601.5 L70.5,601.1 L69.2,600.5 L68.1,599.8 L67.2,599.0 L66.5,598.1 L66.0,597.1 L65.7,596.0 L65.5,594.8 L65.5,593.6 L65.6,592.3 L65.8,591.1 L65.9,589.8 L66.1,588.5 L66.2,587.1 L66.3,585.6 L66.4,584.1 L66.7,582.8Z M69.0,582.3 L69.6,581.5 L70.5,580.9 L71.5,580.3 L72.6,579.9 L73.8,579.6 L74.9,579.3 L76.1,579.0 L77.2,578.8 L78.4,578.6 L79.6,578.4 L80.8,578.3 L82.1,578.1 L83.5,578.2 L85.0,578.3 L86.5,578.6 L88.0,578.9 L89.4,579.1 L90.6,579.4 L91.7,579.6 L92.7,580.0 L93.6,580.3 L94.5,580.7 L95.3,581.1 L96.0,581.5 L96.7,581.9 L97.4,582.4 L98.0,583.0 L98.5,583.6 L99.0,584.4 L99.3,585.2 L99.6,586.1 L99.6,587.1 L99.4,588.2 L99.1,589.2 L98.6,590.2 L98.2,591.1 L97.8,592.0 L97.5,592.9 L97.3,593.9 L97.1,594.9 L96.7,595.8 L96.2,596.7 L95.6,597.4 L94.7,598.0 L93.8,598.5 L92.8,599.0 L91.7,599.4 L90.6,599.8 L89.4,600.2 L88.0,600.5 L86.5,600.7 L85.0,600.7 L83.5,600.7 L82.0,600.6 L80.7,600.6 L79.3,600.5 L78.0,600.3 L76.8,600.0 L75.8,599.6 L74.8,599.1 L74.1,598.5 L73.4,597.9 L72.9,597.2 L72.4,596.4 L72.0,595.7 L71.7,594.9 L71.5,594.1 L71.3,593.3 L71.1,592.4 L70.8,591.5 L70.5,590.6 L70.1,589.7 L69.7,588.6 L69.2,587.3 L68.8,586.0 L68.6,584.6 L68.6,583.4Z M73.3,583.9 L73.9,583.3 L74.6,582.8 L75.4,582.5 L76.2,582.1 L77.0,581.8 L77.8,581.5 L78.6,581.2 L79.4,581.0 L80.3,580.7 L81.2,580.5 L82.2,580.5 L83.2,580.5 L84.4,580.7 L85.6,581.0 L86.8,581.3 L87.9,581.4 L89.0,581.2 L90.0,581.1 L91.1,581.1 L92.0,581.2 L92.9,581.4 L93.6,581.7 L94.3,582.1 L94.8,582.6 L95.2,583.1 L95.6,583.6 L95.8,584.2 L96.0,584.9 L96.1,585.5 L96.2,586.2 L96.2,586.9 L96.1,587.6 L96.0,588.4 L95.9,589.1 L95.8,589.9 L95.8,590.6 L95.8,591.4 L95.7,592.2 L95.7,593.1 L95.4,593.9 L95.1,594.6 L94.5,595.2 L93.9,595.7 L93.2,596.1 L92.5,596.5 L91.7,597.0 L90.9,597.4 L90.1,598.0 L89.1,598.4 L87.9,598.7 L86.7,598.6 L85.5,598.2 L84.4,597.9 L83.5,597.6 L82.6,597.4 L81.6,597.2 L80.7,597.1 L79.8,597.0 L78.9,596.8 L78.1,596.5 L77.3,596.2 L76.6,595.9 L75.9,595.5 L75.3,595.0 L74.7,594.5 L74.2,594.0 L73.7,593.4 L73.3,592.7 L73.0,592.0 L72.7,591.3 L72.5,590.4 L72.3,589.6 L72.2,588.6 L72.1,587.6 L72.2,586.5 L72.4,585.5 L72.8,584.6Z M77.1,585.3 L77.6,584.8 L78.1,584.5 L78.7,584.2 L79.3,584.0 L79.9,583.8 L80.5,583.6 L81.1,583.4 L81.8,583.3 L82.4,583.2 L83.1,583.1 L83.8,583.0 L84.5,583.0 L85.3,583.0 L86.1,582.9 L86.9,582.8 L87.8,582.6 L88.7,582.6 L89.5,582.8 L90.2,583.1 L90.7,583.4 L91.2,583.8 L91.6,584.1 L92.0,584.4 L92.4,584.7 L92.7,585.0 L93.1,585.3 L93.3,585.7 L93.6,586.0 L93.8,586.5 L93.9,586.9 L94.0,587.4 L94.0,588.0 L93.9,588.5 L93.9,589.1 L93.8,589.7 L93.7,590.2 L93.7,590.8 L93.7,591.4 L93.6,592.0 L93.4,592.7 L93.2,593.2 L92.9,593.7 L92.4,594.1 L91.9,594.5 L91.4,594.9 L90.8,595.2 L90.1,595.4 L89.4,595.6 L88.6,595.6 L87.8,595.4 L87.0,595.2 L86.2,595.1 L85.4,595.2 L84.5,595.3 L83.7,595.5 L82.8,595.6 L82.0,595.6 L81.2,595.5 L80.5,595.3 L79.9,595.1 L79.4,594.8 L78.9,594.4 L78.5,594.0 L78.2,593.6 L77.8,593.2 L77.6,592.7 L77.3,592.3 L77.1,591.7 L76.9,591.2 L76.8,590.6 L76.6,590.0 L76.5,589.4 L76.4,588.7 L76.4,588.0 L76.4,587.2 L76.6,586.5 L76.8,585.8Z M81.3,586.8 L81.5,586.5 L81.8,586.3 L82.1,586.1 L82.4,585.9 L82.7,585.7 L83.0,585.5 L83.2,585.3 L83.6,585.1 L83.9,584.9 L84.4,584.8 L84.8,584.7 L85.4,584.7 L85.9,584.8 L86.5,584.9 L87.1,585.0 L87.7,585.1 L88.2,585.2 L88.7,585.4 L89.1,585.5 L89.5,585.6 L89.8,585.7 L90.2,585.8 L90.5,586.0 L90.8,586.1 L91.0,586.3 L91.2,586.5 L91.4,586.8 L91.5,587.0 L91.6,587.4 L91.6,587.7 L91.6,588.0 L91.7,588.3 L91.7,588.7 L91.7,589.1 L91.7,589.4 L91.8,589.8 L91.8,590.2 L91.8,590.7 L91.7,591.1 L91.4,591.4 L91.2,591.7 L90.8,591.9 L90.5,592.1 L90.1,592.3 L89.8,592.4 L89.4,592.6 L89.0,592.8 L88.7,593.0 L88.2,593.1 L87.7,593.2 L87.1,593.3 L86.6,593.4 L86.0,593.4 L85.4,593.4 L84.9,593.4 L84.4,593.3 L84.0,593.2 L83.5,593.1 L83.1,592.9 L82.8,592.8 L82.5,592.6 L82.2,592.4 L81.9,592.1 L81.6,591.9 L81.3,591.7 L81.1,591.4 L80.9,591.1 L80.7,590.8 L80.6,590.4 L80.5,590.1 L80.5,589.7 L80.5,589.3 L80.5,588.8 L80.6,588.4 L80.7,587.9 L80.9,587.5 L81.1,587.1Z M84.4,587.9 L84.5,587.8 L84.6,587.6 L84.7,587.5 L84.9,587.4 L85.1,587.3 L85.2,587.3 L85.4,587.2 L85.7,587.2 L85.9,587.2 L86.1,587.2 L86.4,587.2 L86.6,587.3 L86.9,587.3 L87.1,587.3 L87.3,587.3 L87.6,587.3 L87.8,587.3 L88.0,587.3 L88.2,587.4 L88.4,587.5 L88.6,587.5 L88.7,587.6 L88.9,587.6 L89.0,587.7 L89.1,587.8 L89.2,587.9 L89.3,588.0 L89.4,588.1 L89.4,588.2 L89.5,588.4 L89.5,588.5 L89.5,588.7 L89.5,588.9 L89.4,589.0 L89.4,589.2 L89.4,589.4 L89.3,589.5 L89.2,589.7 L89.2,589.8 L89.1,590.0 L89.0,590.1 L88.9,590.2 L88.8,590.3 L88.7,590.5 L88.6,590.6 L88.4,590.8 L88.3,590.9 L88.1,591.0 L87.8,591.0 L87.6,591.0 L87.3,590.9 L87.1,590.9 L86.8,590.9 L86.6,591.0 L86.3,591.0 L86.1,590.9 L85.9,590.9 L85.7,590.8 L85.6,590.7 L85.4,590.7 L85.3,590.6 L85.2,590.5 L85.1,590.4 L84.9,590.3 L84.9,590.1 L84.8,590.0 L84.7,589.9 L84.6,589.8 L84.6,589.6 L84.5,589.5 L84.5,589.3 L84.5,589.1 L84.4,588.9 L84.4,588.7 L84.4,588.5 L84.4,588.3 L84.4,588.1Z" fill="none" stroke="#505050" stroke-width="0.55"/>
<path d="M104,578 Q113,577 115.5,586 Q116,596 110,600 Q104,601 104,594" fill="none" stroke="#555" stroke-width="0.55"/>
<path d="M103.9 599.3h.01M106.0 602.2h.01M107.1 604.4h.01M106.3 603.3h.01M114.2 601.5h.01M109.5 598.7h.01M106.4 600.9h.01M107.2 604.5h.01M106.1 604.8h.01M112.7 598.9h.01M111.4 604.6h.01M108.4 599.6h.01M110.6 602.4h.01M110.4 603.1h.01M108.4 604.9h.01M105.8 604.4h.01M113.8 600.4h.01M113.9 601.8h.01M112.4 601.6h.01M103.1 604.6h.01M105.1 603.0h.01M111.3 603.9h.01M107.4 603.4h.01M104.9 604.5h.01M104.1 598.7h.01M111.4 598.4h.01M105.8 601.0h.01M112.1 604.0h.01M114.0 601.1h.01M105.6 604.5h.01M104.8 601.8h.01M109.0 599.0h.01M113.6 604.0h.01M107.0 601.5h.01M111.0 604.6h.01M103.4 602.3h.01M114.6 603.9h.01M106.8 602.8h.01M111.8 601.4h.01M115.3 600.5h.01M105.9 602.4h.01M105.3 602.6h.01M104.6 602.0h.01M111.1 598.8h.01M111.3 601.6h.01M107.2 604.7h.01M104.4 603.2h.01M112.9 602.9h.01M111.0 598.3h.01M115.3 602.0h.01M113.5 598.2h.01M105.1 598.6h.01M114.1 600.9h.01M106.6 603.5h.01M110.0 598.9h.01M105.9 601.0h.01M114.3 603.7h.01M113.6 601.4h.01M112.6 599.9h.01M106.7 600.8h.01M109.2 604.2h.01M115.8 599.5h.01M112.4 602.2h.01M114.6 601.0h.01M113.7 600.7h.01M108.8 600.7h.01M109.5 604.1h.01M112.4 599.5h.01M108.6 599.8h.01M115.6 601.7h.01M110.0 602.2h.01M109.4 599.2h.01M107.5 603.8h.01M110.4 599.4h.01M105.3 601.3h.01M103.2 600.5h.01M103.9 600.4h.01M111.1 602.1h.01M110.3 602.4h.01M111.0 598.1h.01M103.4 603.7h.01M103.1 599.4h.01M115.5 602.3h.01M113.0 601.2h.01M109.8 603.7h.01M114.4 603.9h.01M106.6 599.9h.01M107.2 604.6h.01M112.7 603.1h.01M112.8 600.8h.01M111.0 604.9h.01M112.1 599.2h.01M105.1 600.7h.01M108.8 603.8h.01M111.9 601.9h.01M104.4 599.0h.01M111.8 601.2h.01M106.4 600.6h.01M113.6 599.4h.01M115.4 599.9h.01M108.4 598.9h.01M112.5 604.7h.01M106.2 603.6h.01M103.8 601.1h.01M108.4 601.3h.01M106.7 601.1h.01M112.1 599.4h.01M104.0 598.6h.01M115.3 603.5h.01M112.3 601.3h.01M109.7 598.4h.01M104.9 602.2h.01M111.5 602.4h.01M114.8 601.1h.01M104.3 604.6h.01M108.2 602.2h.01M111.8 599.6h.01M111.8 598.1h.01M114.6 602.4h.01M112.6 598.6h.01M114.1 601.7h.01M108.2 599.9h.01M110.7 598.8h.01M115.5 603.5h.01M112.1 604.0h.01M104.0 601.2h.01M104.9 601.7h.01M113.3 601.2h.01M104.8 603.7h.01M108.6 602.8h.01M110.5 603.9h.01M108.8 598.6h.01M116.0 598.1h.01M111.4 599.7h.01M116.0 601.5h.01M104.6 602.5h.01M108.4 598.4h.01M111.7 598.8h.01M114.8 601.1h.01M111.8 603.6h.01M115.4 602.8h.01M108.8 600.3h.01M115.5 600.6h.01M106.5 602.4h.01M103.8 604.3h.01M110.9 602.4h.01M111.5 604.8h.01M107.9 598.8h.01M113.5 598.6h.01M103.2 598.1h.01M112.4 603.2h.01M110.1 600.9h.01M105.5 604.0h.01M106.9 602.1h.01M103.0 601.9h.01M105.6 602.8h.01M111.0 598.5h.01M112.8 600.1h.01M104.2 602.7h.01M111.6 602.8h.01" stroke="#333" stroke-width="0.5" stroke-linecap="square" opacity="0.8"/>
<rect x="102.10" y="443.20" width="31.10" height="38.00" fill="none" stroke="#2222b0" stroke-width="1.8" />
<text x="111.80" y="441.00" font-size="7.4" fill="#2222b0" font-weight="bold" textLength="11.00" lengthAdjust="spacingAndGlyphs" >2%</text>
<line x1="127.40" y1="453.10" x2="173.80" y2="453.10" stroke="#2222b0" stroke-width="1.9" />
<path d="M167.8,449.6 L174.4,453.1 L167.8,456.7" fill="none" stroke="#2222b0" stroke-width="1.8"/>
<rect x="102.10" y="570.40" width="31.60" height="37.00" fill="none" stroke="#2222b0" stroke-width="1.8" />
<text x="112.20" y="567.60" font-size="7.4" fill="#2222b0" font-weight="bold" textLength="11.40" lengthAdjust="spacingAndGlyphs" stroke="#fff" stroke-width="1.6" paint-order="stroke" stroke-opacity="0.8">9%</text>
<line x1="127.80" y1="579.40" x2="173.80" y2="579.40" stroke="#2222b0" stroke-width="1.9" />
<path d="M167.8,575.9 L174.4,579.4 L167.8,583.0" fill="none" stroke="#2222b0" stroke-width="1.8"/>
<text x="93.00" y="409.60" font-size="7.8" fill="#000" font-weight="bold" textLength="30.20" lengthAdjust="spacingAndGlyphs" >Day 60</text>
<line x1="41.40" y1="417.50" x2="41.40" y2="500.80" stroke="#000" stroke-width="0.9" />
<line x1="41.60" y1="561.50" x2="41.60" y2="644.30" stroke="#000" stroke-width="0.9" />
<text x="26.00" y="470.60" font-size="10.4" fill="#000" font-weight="bold" text-anchor="middle" textLength="20.20" lengthAdjust="spacingAndGlyphs" transform="rotate(-90 26.00 470.60)" >CTL</text>
<text x="355.40" y="470.80" font-size="10.4" fill="#000" font-weight="bold" text-anchor="middle" textLength="20.20" lengthAdjust="spacingAndGlyphs" transform="rotate(-90 355.40 470.80)" >CTL</text>
<text x="25.40" y="595.50" font-size="10.4" fill="#000" font-weight="bold" text-anchor="middle" textLength="22.10" lengthAdjust="spacingAndGlyphs" transform="rotate(-90 25.40 595.50)" >MN1</text>
<text x="355.40" y="594.90" font-size="10.4" fill="#000" font-weight="bold" text-anchor="middle" textLength="21.50" lengthAdjust="spacingAndGlyphs" transform="rotate(-90 355.40 594.90)" >MN1</text>
<text x="45.00" y="533.80" font-size="7.2" fill="#000" font-weight="bold" textLength="20.50" lengthAdjust="spacingAndGlyphs" transform="rotate(-90 45.00 533.80)" >CD38</text>
<text x="96.20" y="663.80" font-size="7.9" fill="#000" font-weight="bold" textLength="21.30" lengthAdjust="spacingAndGlyphs" >CD34</text>
<rect x="208.40" y="415.60" width="103.80" height="105.40" fill="#fff" stroke="#8a8a8a" stroke-width="0.9" />
<path d="M207.3,441.2h1.1M207.3,436.9h1.1M207.3,433.9h1.1M207.3,431.5h1.1M207.3,429.6h1.1M207.3,428.0h1.1M207.3,426.6h1.1M207.3,425.3h1.1M207.3,465.1h1.1M207.3,460.9h1.1M207.3,457.9h1.1M207.3,455.6h1.1M207.3,453.8h1.1M207.3,452.2h1.1M207.3,450.8h1.1M207.3,449.6h1.1M207.3,489.5h1.1M207.3,485.2h1.1M207.3,482.1h1.1M207.3,479.7h1.1M207.3,477.7h1.1M207.3,476.0h1.1M207.3,474.6h1.1M207.3,473.3h1.1" stroke="#777" stroke-width="0.45"/>
<line x1="206.90" y1="424.20" x2="208.40" y2="424.20" stroke="#555" stroke-width="0.5" />
<text x="197.50" y="426.00" font-size="4.6" fill="#666" font-weight="normal" >10</text>
<text x="202.60" y="423.60" font-size="3.2" fill="#666" font-weight="normal" >5</text>
<line x1="206.90" y1="448.50" x2="208.40" y2="448.50" stroke="#555" stroke-width="0.5" />
<text x="197.50" y="450.30" font-size="4.6" fill="#666" font-weight="normal" >10</text>
<text x="202.60" y="447.90" font-size="3.2" fill="#666" font-weight="normal" >4</text>
<line x1="206.90" y1="472.20" x2="208.40" y2="472.20" stroke="#555" stroke-width="0.5" />
<text x="197.50" y="474.00" font-size="4.6" fill="#666" font-weight="normal" >10</text>
<text x="202.60" y="471.60" font-size="3.2" fill="#666" font-weight="normal" >3</text>
<line x1="206.90" y1="497.00" x2="208.40" y2="497.00" stroke="#555" stroke-width="0.5" />
<text x="197.50" y="498.80" font-size="4.6" fill="#666" font-weight="normal" >10</text>
<text x="202.60" y="496.40" font-size="3.2" fill="#666" font-weight="normal" >2</text>
<line x1="206.90" y1="506.40" x2="208.40" y2="506.40" stroke="#555" stroke-width="0.5" />
<text x="202.50" y="508.10" font-size="4.6" fill="#666" font-weight="normal" >0</text>
<path d="M238.1,521.0v1.1M242.5,521.0v1.1M245.7,521.0v1.1M248.1,521.0v1.1M250.1,521.0v1.1M251.7,521.0v1.1M253.2,521.0v1.1M254.5,521.0v1.1M262.8,521.0v1.1M267.1,521.0v1.1M270.0,521.0v1.1M272.4,521.0v1.1M274.3,521.0v1.1M275.9,521.0v1.1M277.3,521.0v1.1M278.5,521.0v1.1M286.6,521.0v1.1M290.7,521.0v1.1M293.6,521.0v1.1M295.8,521.0v1.1M297.7,521.0v1.1M299.2,521.0v1.1M300.6,521.0v1.1M301.7,521.0v1.1" stroke="#777" stroke-width="0.45"/>
<line x1="218.60" y1="521.00" x2="218.60" y2="522.50" stroke="#555" stroke-width="0.5" />
<text x="218.60" y="526.80" font-size="4.6" fill="#666" font-weight="normal" text-anchor="middle" >0</text>
<line x1="230.60" y1="521.00" x2="230.60" y2="522.50" stroke="#555" stroke-width="0.5" />
<text x="227.80" y="526.80" font-size="4.6" fill="#666" font-weight="normal" >10</text>
<text x="233.00" y="524.60" font-size="3.2" fill="#666" font-weight="normal" >2</text>
<line x1="255.60" y1="521.00" x2="255.60" y2="522.50" stroke="#555" stroke-width="0.5" />
<text x="252.80" y="526.80" font-size="4.6" fill="#666" font-weight="normal" >10</text>
<text x="258.00" y="524.60" font-size="3.2" fill="#666" font-weight="normal" >3</text>
<line x1="279.60" y1="521.00" x2="279.60" y2="522.50" stroke="#555" stroke-width="0.5" />
<text x="276.80" y="526.80" font-size="4.6" fill="#666" font-weight="normal" >10</text>
<text x="282.00" y="524.60" font-size="3.2" fill="#666" font-weight="normal" >4</text>
<line x1="302.80" y1="521.00" x2="302.80" y2="522.50" stroke="#555" stroke-width="0.5" />
<text x="300.00" y="526.80" font-size="4.6" fill="#666" font-weight="normal" >10</text>
<text x="305.20" y="524.60" font-size="3.2" fill="#666" font-weight="normal" >5</text>
<path d="M296.4 429.6h.01M237.5 479.3h.01M240.8 460.3h.01M262.9 479.9h.01M265.1 427.6h.01M267.7 443.8h.01M261.0 472.9h.01M265.1 496.5h.01M234.2 481.8h.01M251.8 459.9h.01M295.5 435.3h.01M263.3 449.7h.01M224.8 453.7h.01M243.0 454.2h.01M284.7 496.6h.01M297.6 446.1h.01M275.4 423.9h.01M230.5 459.3h.01M300.1 421.8h.01M245.0 475.2h.01M233.2 480.0h.01M211.0 471.4h.01M304.3 424.4h.01M221.2 451.5h.01M240.5 454.9h.01M239.8 423.1h.01M280.9 435.7h.01M213.9 432.4h.01M295.3 514.4h.01M288.2 439.5h.01M278.9 494.6h.01M227.7 420.9h.01M300.6 420.9h.01M228.9 474.1h.01M247.1 428.2h.01M242.3 457.0h.01M220.2 480.5h.01M261.3 427.4h.01M238.9 503.8h.01M271.0 430.9h.01M302.2 513.5h.01M268.5 427.8h.01M266.5 435.3h.01M268.4 497.6h.01M221.8 429.6h.01M221.0 503.2h.01M294.8 449.4h.01M252.0 457.0h.01M238.3 454.6h.01M225.2 482.6h.01M221.3 499.3h.01M295.3 505.7h.01M241.8 425.5h.01M274.4 476.3h.01M304.0 477.2h.01M279.5 432.2h.01M282.2 470.6h.01M255.9 494.6h.01M245.8 476.3h.01M256.2 427.1h.01M258.4 475.5h.01M292.4 454.2h.01M285.9 422.1h.01M239.9 513.8h.01M300.2 512.2h.01M266.2 419.0h.01M304.5 466.8h.01M302.9 456.6h.01M244.1 421.9h.01M243.2 465.2h.01M283.1 423.1h.01M262.5 489.2h.01M259.8 429.4h.01M264.3 472.9h.01M252.8 471.8h.01M269.4 486.2h.01M210.9 448.8h.01M291.3 454.9h.01M288.7 495.2h.01M272.9 499.1h.01M252.2 484.7h.01M301.7 463.9h.01M218.5 500.4h.01M261.0 507.7h.01M304.8 493.6h.01M297.5 513.7h.01M279.6 453.6h.01M238.8 487.8h.01M263.7 437.6h.01M220.9 482.6h.01M268.4 508.4h.01M269.9 488.9h.01M299.0 433.2h.01M284.9 447.6h.01M245.0 443.7h.01M289.1 468.4h.01M215.6 454.5h.01M248.1 487.9h.01M247.1 473.6h.01M248.7 468.8h.01M227.4 455.6h.01M270.3 507.2h.01M286.0 500.0h.01M267.2 510.7h.01M211.6 496.2h.01M304.6 499.2h.01M238.3 448.5h.01M272.9 462.7h.01M213.9 466.1h.01M275.5 422.2h.01M281.9 489.2h.01M225.8 485.9h.01M226.4 451.8h.01M213.6 419.3h.01M209.9 487.3h.01M230.6 504.1h.01M284.5 507.1h.01M293.5 517.9h.01M209.9 491.9h.01M230.9 477.9h.01M263.7 457.0h.01M273.0 444.9h.01M251.1 508.7h.01M286.9 482.4h.01M281.2 506.2h.01M300.5 495.0h.01M295.7 418.2h.01M270.5 495.0h.01M268.2 443.4h.01M238.3 427.2h.01M284.8 490.2h.01M214.9 499.0h.01M227.5 453.1h.01M304.8 432.9h.01M272.9 419.2h.01M299.0 473.7h.01M279.2 439.6h.01M222.0 472.8h.01M288.0 432.5h.01M278.6 494.6h.01M303.0 458.8h.01M233.8 421.7h.01M213.0 437.8h.01M241.6 463.6h.01M216.1 427.6h.01M256.1 474.1h.01M212.6 479.7h.01M297.0 419.3h.01M252.8 444.3h.01M240.3 430.0h.01M270.6 446.6h.01M288.2 518.9h.01M263.7 437.3h.01M215.4 501.9h.01M221.8 496.2h.01M218.8 471.4h.01M224.3 509.8h.01M295.5 495.1h.01M290.2 514.9h.01M297.7 441.4h.01M240.2 459.2h.01M266.3 447.8h.01M279.3 466.7h.01M284.4 484.1h.01M270.9 468.6h.01M230.5 511.8h.01M275.1 486.1h.01M245.1 464.0h.01M272.8 418.3h.01M245.6 518.8h.01M221.0 518.8h.01M290.2 440.2h.01M262.1 451.4h.01M225.8 484.2h.01M230.2 489.1h.01M249.7 483.1h.01M231.0 511.1h.01M263.6 421.4h.01M246.8 422.3h.01M282.1 422.8h.01M215.9 438.6h.01M242.4 431.7h.01M265.3 450.7h.01M249.5 433.5h.01M244.8 474.7h.01M271.2 447.1h.01M303.7 418.2h.01M214.0 493.3h.01M225.1 483.2h.01M244.5 443.4h.01M251.2 460.7h.01M281.0 509.6h.01M220.1 439.5h.01M226.1 455.4h.01M298.2 472.9h.01M243.6 511.7h.01M286.5 485.3h.01M283.7 425.5h.01M299.1 467.5h.01M247.0 466.9h.01M258.8 493.4h.01M215.0 507.3h.01M303.8 433.8h.01M212.6 435.4h.01M269.1 422.2h.01M217.4 486.3h.01M235.8 442.8h.01M238.3 483.4h.01M280.4 490.5h.01M224.0 501.9h.01M294.3 431.9h.01M259.6 432.6h.01M215.5 448.2h.01M274.3 481.3h.01M213.0 433.0h.01M228.7 446.5h.01M222.6 458.1h.01M299.1 505.4h.01M273.6 468.8h.01M304.1 460.2h.01M209.6 439.3h.01M286.4 503.1h.01M300.2 441.1h.01M214.1 465.2h.01M234.0 434.3h.01M218.5 418.1h.01M274.1 467.0h.01M231.5 443.0h.01M239.3 486.4h.01M249.1 429.4h.01M295.0 469.7h.01M264.9 466.3h.01M286.3 511.0h.01M238.0 447.3h.01M210.8 457.9h.01M235.2 501.3h.01M281.3 425.1h.01M293.6 430.3h.01M218.6 505.1h.01M278.7 498.1h.01M235.6 429.8h.01M221.7 427.9h.01M219.3 504.9h.01M300.9 514.3h.01M284.5 492.5h.01M280.7 452.2h.01M257.9 419.2h.01M221.3 451.5h.01M245.7 461.0h.01M301.9 478.5h.01" stroke="#888" stroke-width="0.45" stroke-linecap="square" opacity="0.5"/>
<path d="M240.6,448.5 L240.8,448.1 L241.1,447.8 L241.4,447.5 L241.8,447.3 L242.2,447.2 L242.7,447.2 L243.3,447.1 L244.1,447.1 L245.0,447.2 L246.0,447.4 L247.0,447.6 L248.1,447.7 L249.1,447.8 L250.0,447.8 L250.8,447.6 L251.6,447.4 L252.3,447.1 L253.1,446.7 L253.8,446.4 L254.6,446.0 L255.4,445.8 L256.3,445.6 L257.2,445.4 L258.2,445.2 L259.2,445.0 L260.2,445.0 L261.2,445.0 L262.1,445.1 L263.0,445.3 L264.0,445.7 L265.0,446.1 L265.9,446.6 L266.8,447.2 L267.5,447.8 L268.2,448.5 L268.7,449.3 L269.2,450.1 L269.6,451.1 L269.9,452.1 L270.1,453.1 L270.2,454.1 L270.2,455.2 L270.1,456.3 L269.9,457.5 L269.6,458.7 L269.2,460.0 L268.7,461.1 L268.1,462.3 L267.5,463.3 L266.8,464.2 L265.9,465.1 L264.9,465.9 L263.9,466.7 L262.8,467.4 L261.8,468.0 L260.8,468.6 L259.8,469.1 L258.9,469.6 L257.9,470.0 L256.9,470.4 L255.9,470.7 L255.0,471.0 L254.0,471.3 L253.0,471.6 L252.0,471.9 L251.0,472.2 L250.0,472.5 L249.0,472.6 L248.1,472.7 L247.3,472.7 L246.6,472.6 L245.9,472.4 L245.3,472.1 L244.7,471.8 L244.2,471.3 L243.7,470.7 L243.3,470.0 L242.9,469.1 L242.5,468.1 L242.2,466.9 L241.9,465.7 L241.7,464.4 L241.4,463.1 L241.2,461.9 L241.0,460.7 L240.7,459.5 L240.5,458.3 L240.3,457.1 L240.1,455.9 L240.0,454.8 L239.9,453.8 L239.9,452.9 L239.9,452.0 L240.0,451.1 L240.1,450.4 L240.2,449.6 L240.4,449.0Z M242.1,449.2 L242.3,448.8 L242.5,448.5 L242.7,448.2 L243.0,448.1 L243.4,447.9 L243.9,447.9 L244.4,447.8 L245.1,447.8 L246.0,447.9 L246.9,448.1 L247.9,448.3 L248.9,448.4 L249.9,448.6 L250.8,448.6 L251.6,448.5 L252.3,448.2 L252.9,447.9 L253.6,447.5 L254.2,447.1 L254.8,446.7 L255.6,446.3 L256.4,445.9 L257.3,445.6 L258.2,445.5 L259.2,445.6 L260.1,445.9 L261.0,446.3 L261.7,446.8 L262.4,447.3 L263.2,447.8 L263.9,448.1 L264.8,448.4 L265.7,448.6 L266.6,448.9 L267.4,449.3 L268.0,449.9 L268.6,450.6 L269.0,451.4 L269.3,452.3 L269.5,453.3 L269.6,454.3 L269.6,455.3 L269.5,456.4 L269.3,457.5 L269.0,458.6 L268.4,459.7 L267.8,460.8 L267.2,461.7 L266.6,462.6 L266.0,463.5 L265.3,464.4 L264.4,465.0 L263.4,465.5 L262.3,465.9 L261.4,466.3 L260.6,466.8 L259.8,467.5 L258.9,468.2 L258.0,469.0 L257.0,469.7 L256.0,470.4 L255.0,470.9 L254.0,471.3 L253.0,471.7 L252.0,472.0 L251.0,472.2 L250.1,472.3 L249.2,472.3 L248.5,472.2 L247.8,472.0 L247.3,471.7 L246.8,471.4 L246.4,471.0 L246.0,470.5 L245.7,470.0 L245.4,469.3 L245.1,468.6 L244.8,467.7 L244.6,466.7 L244.4,465.7 L244.1,464.6 L243.9,463.5 L243.6,462.4 L243.4,461.3 L243.2,460.3 L243.0,459.2 L242.9,458.1 L242.7,457.1 L242.5,456.1 L242.3,455.1 L242.2,454.2 L242.0,453.3 L241.9,452.5 L241.9,451.7 L241.8,451.0 L241.9,450.3 L241.9,449.7Z M243.1,449.7 L243.2,449.3 L243.4,448.9 L243.6,448.7 L243.9,448.5 L244.2,448.4 L244.7,448.4 L245.2,448.3 L245.9,448.3 L246.7,448.4 L247.6,448.6 L248.5,448.7 L249.5,448.9 L250.4,449.1 L251.3,449.1 L252.1,449.1 L252.9,449.0 L253.6,448.9 L254.3,448.7 L254.9,448.5 L255.6,448.3 L256.3,448.2 L257.0,448.1 L257.7,448.0 L258.5,448.0 L259.2,447.9 L260.0,447.9 L260.8,447.8 L261.5,447.8 L262.3,447.8 L263.2,447.8 L264.1,447.8 L265.1,448.0 L265.9,448.3 L266.6,448.9 L267.2,449.5 L267.5,450.3 L267.7,451.2 L267.8,452.1 L267.9,453.0 L268.0,453.9 L268.1,454.7 L268.2,455.6 L268.3,456.5 L268.3,457.4 L267.9,458.5 L267.3,459.4 L266.7,460.3 L266.0,461.1 L265.6,461.8 L265.1,462.6 L264.6,463.5 L264.0,464.4 L263.2,465.2 L262.3,465.9 L261.5,466.5 L260.6,467.1 L259.8,467.6 L258.9,468.1 L258.1,468.4 L257.2,468.6 L256.4,468.8 L255.7,468.8 L254.9,468.8 L254.2,468.9 L253.5,468.9 L252.8,468.9 L252.1,469.0 L251.5,469.0 L250.9,469.0 L250.3,468.9 L249.7,468.8 L249.2,468.6 L248.8,468.5 L248.3,468.2 L247.8,468.0 L247.3,467.6 L246.8,467.2 L246.3,466.7 L245.8,466.0 L245.3,465.2 L244.9,464.2 L244.6,463.2 L244.4,462.1 L244.3,461.1 L244.2,460.1 L244.2,459.1 L244.2,458.1 L244.2,457.1 L244.0,456.2 L243.9,455.3 L243.7,454.5 L243.5,453.7 L243.3,452.9 L243.2,452.1 L243.1,451.4 L243.0,450.8 L243.0,450.2Z M245.1,450.6 L245.4,450.3 L245.7,450.1 L246.0,450.0 L246.3,449.9 L246.7,449.9 L247.2,449.9 L247.7,449.9 L248.4,450.0 L249.2,450.1 L250.0,450.3 L250.8,450.6 L251.7,450.8 L252.5,450.9 L253.2,451.0 L253.8,451.0 L254.3,450.8 L254.8,450.6 L255.2,450.2 L255.6,449.8 L256.0,449.3 L256.5,448.9 L257.1,448.5 L257.8,448.2 L258.5,448.0 L259.2,447.9 L260.0,447.9 L260.7,448.0 L261.4,448.1 L262.1,448.3 L262.8,448.6 L263.6,448.9 L264.3,449.2 L264.9,449.7 L265.5,450.2 L265.9,450.8 L266.2,451.4 L266.5,452.1 L266.7,452.8 L266.9,453.5 L267.0,454.3 L267.1,455.0 L267.2,455.8 L267.0,456.6 L266.8,457.4 L266.4,458.2 L266.1,459.1 L265.8,459.9 L265.7,460.9 L265.6,461.9 L265.3,462.8 L264.6,463.6 L263.8,464.1 L262.8,464.4 L261.9,464.6 L261.1,464.8 L260.4,465.1 L259.7,465.5 L259.0,465.9 L258.3,466.2 L257.6,466.5 L256.9,466.8 L256.2,467.0 L255.6,467.3 L254.9,467.4 L254.1,467.6 L253.4,467.8 L252.7,468.0 L252.0,468.1 L251.4,468.2 L250.8,468.2 L250.3,468.1 L249.8,468.0 L249.3,467.9 L248.9,467.7 L248.4,467.4 L248.0,467.0 L247.6,466.6 L247.3,466.0 L246.9,465.2 L246.6,464.4 L246.4,463.5 L246.2,462.5 L246.0,461.6 L245.9,460.7 L245.7,459.8 L245.5,458.9 L245.3,458.0 L245.0,457.1 L244.7,456.2 L244.5,455.4 L244.3,454.6 L244.2,453.8 L244.2,453.1 L244.3,452.5 L244.4,451.9 L244.6,451.4 L244.8,450.9Z M248.1,452.0 L248.2,451.7 L248.4,451.5 L248.5,451.4 L248.7,451.2 L249.0,451.2 L249.3,451.1 L249.6,451.1 L250.1,451.1 L250.6,451.1 L251.2,451.2 L251.8,451.3 L252.4,451.3 L253.0,451.3 L253.5,451.3 L253.9,451.1 L254.3,450.8 L254.7,450.4 L255.1,450.1 L255.6,449.8 L256.1,449.5 L256.7,449.4 L257.3,449.3 L258.0,449.4 L258.6,449.4 L259.3,449.5 L259.9,449.5 L260.5,449.5 L261.1,449.6 L261.7,449.6 L262.4,449.7 L263.1,449.9 L263.7,450.2 L264.2,450.7 L264.6,451.2 L264.9,451.8 L265.1,452.4 L265.2,453.0 L265.4,453.6 L265.6,454.2 L265.8,454.7 L266.0,455.3 L266.3,455.9 L266.4,456.6 L266.4,457.4 L266.3,458.2 L266.0,459.1 L265.7,459.9 L265.3,460.6 L264.8,461.3 L264.2,461.8 L263.5,462.2 L262.7,462.5 L262.1,462.8 L261.4,463.2 L260.9,463.8 L260.3,464.3 L259.7,464.9 L259.0,465.3 L258.4,465.6 L257.8,465.8 L257.2,465.9 L256.6,466.0 L256.0,466.1 L255.4,466.2 L254.8,466.3 L254.2,466.5 L253.5,466.7 L252.9,466.8 L252.3,466.9 L251.8,467.0 L251.2,467.0 L250.7,467.0 L250.2,466.9 L249.8,466.8 L249.3,466.6 L248.9,466.3 L248.5,465.9 L248.1,465.4 L247.7,464.7 L247.5,463.9 L247.3,463.1 L247.3,462.1 L247.3,461.2 L247.4,460.3 L247.5,459.5 L247.6,458.7 L247.7,457.9 L247.7,457.1 L247.7,456.4 L247.7,455.8 L247.7,455.2 L247.7,454.6 L247.7,454.1 L247.7,453.5 L247.8,453.1 L247.8,452.7 L247.9,452.3Z M248.5,452.1 L248.6,451.9 L248.8,451.7 L249.0,451.6 L249.2,451.5 L249.5,451.5 L249.8,451.4 L250.2,451.4 L250.7,451.5 L251.2,451.6 L251.8,451.7 L252.4,451.8 L253.1,451.9 L253.7,452.0 L254.2,452.0 L254.6,451.9 L255.1,451.7 L255.4,451.5 L255.8,451.3 L256.2,451.1 L256.7,450.9 L257.1,450.8 L257.7,450.7 L258.2,450.7 L258.8,450.6 L259.3,450.6 L259.8,450.6 L260.3,450.7 L260.8,450.7 L261.3,450.9 L261.9,451.1 L262.3,451.3 L262.8,451.6 L263.2,452.0 L263.6,452.3 L264.0,452.7 L264.3,453.0 L264.7,453.4 L265.1,453.8 L265.5,454.2 L265.8,454.7 L266.0,455.3 L266.0,456.0 L265.8,456.7 L265.4,457.4 L264.9,458.0 L264.5,458.6 L264.2,459.2 L264.0,459.9 L263.8,460.5 L263.4,461.0 L262.9,461.5 L262.4,461.9 L261.8,462.2 L261.2,462.6 L260.7,463.1 L260.2,463.5 L259.6,463.9 L259.1,464.2 L258.5,464.4 L258.0,464.7 L257.4,464.9 L256.9,465.0 L256.3,465.2 L255.8,465.4 L255.2,465.6 L254.6,465.8 L254.0,466.0 L253.4,466.1 L252.9,466.2 L252.4,466.2 L252.0,466.1 L251.6,466.0 L251.2,465.8 L250.9,465.6 L250.7,465.3 L250.5,464.9 L250.3,464.4 L250.2,463.9 L250.2,463.2 L250.2,462.4 L250.3,461.6 L250.4,460.8 L250.5,460.1 L250.5,459.5 L250.3,458.9 L250.1,458.3 L249.8,457.8 L249.4,457.1 L249.0,456.5 L248.7,455.9 L248.4,455.3 L248.3,454.7 L248.1,454.2 L248.1,453.7 L248.1,453.2 L248.2,452.8 L248.3,452.4Z M250.7,453.2 L250.9,453.0 L251.1,452.9 L251.2,452.8 L251.4,452.7 L251.6,452.7 L251.8,452.7 L252.1,452.6 L252.5,452.6 L252.9,452.7 L253.3,452.8 L253.8,452.8 L254.2,452.9 L254.7,452.9 L255.1,452.9 L255.4,452.7 L255.7,452.6 L256.1,452.4 L256.4,452.2 L256.8,452.1 L257.2,452.1 L257.6,452.1 L258.0,452.1 L258.5,452.2 L258.9,452.2 L259.3,452.1 L259.7,452.0 L260.2,451.9 L260.6,451.8 L261.1,451.7 L261.6,451.7 L262.1,451.8 L262.6,452.0 L263.0,452.3 L263.4,452.6 L263.7,453.0 L263.9,453.4 L264.1,453.8 L264.2,454.3 L264.3,454.8 L264.4,455.3 L264.3,455.8 L264.2,456.3 L264.1,456.8 L263.9,457.3 L263.8,457.9 L263.7,458.4 L263.6,459.0 L263.5,459.6 L263.2,460.1 L262.8,460.4 L262.3,460.8 L261.9,461.1 L261.4,461.5 L261.0,462.0 L260.6,462.5 L260.1,462.9 L259.6,463.2 L259.1,463.4 L258.7,463.5 L258.2,463.5 L257.8,463.5 L257.4,463.5 L257.0,463.5 L256.6,463.5 L256.2,463.6 L255.8,463.6 L255.4,463.7 L255.0,463.8 L254.6,463.8 L254.2,463.8 L253.9,463.8 L253.6,463.7 L253.3,463.6 L253.1,463.5 L252.8,463.3 L252.6,463.1 L252.3,462.8 L252.1,462.5 L251.9,462.0 L251.7,461.5 L251.6,461.0 L251.4,460.5 L251.2,459.9 L250.9,459.4 L250.7,458.9 L250.5,458.3 L250.2,457.7 L250.1,457.1 L249.9,456.6 L249.9,456.0 L249.9,455.5 L250.0,455.1 L250.0,454.7 L250.2,454.3 L250.3,454.0 L250.4,453.7 L250.6,453.4Z M252.5,454.0 L252.7,453.9 L252.8,453.8 L252.9,453.7 L253.1,453.7 L253.2,453.6 L253.4,453.6 L253.7,453.6 L253.9,453.6 L254.3,453.7 L254.6,453.7 L255.0,453.8 L255.4,453.9 L255.8,453.9 L256.1,453.9 L256.4,453.8 L256.6,453.7 L256.9,453.6 L257.2,453.5 L257.4,453.4 L257.7,453.2 L258.0,453.1 L258.3,453.0 L258.6,452.9 L259.0,452.7 L259.3,452.5 L259.7,452.3 L260.1,452.2 L260.5,452.3 L260.9,452.4 L261.2,452.6 L261.6,452.9 L261.8,453.3 L262.0,453.6 L262.3,453.9 L262.4,454.2 L262.6,454.5 L262.8,454.7 L263.0,455.0 L263.2,455.3 L263.3,455.7 L263.4,456.1 L263.4,456.5 L263.3,456.9 L263.2,457.3 L263.0,457.7 L263.0,458.2 L262.9,458.7 L262.7,459.1 L262.5,459.6 L262.2,459.9 L261.9,460.3 L261.5,460.6 L261.1,460.9 L260.7,461.1 L260.3,461.3 L259.9,461.4 L259.6,461.4 L259.2,461.5 L258.9,461.5 L258.6,461.6 L258.3,461.7 L257.9,461.8 L257.6,462.0 L257.2,462.2 L256.8,462.4 L256.4,462.6 L255.9,462.8 L255.5,463.0 L255.1,463.1 L254.7,463.2 L254.4,463.2 L254.1,463.1 L253.9,463.1 L253.6,462.9 L253.4,462.8 L253.2,462.5 L253.1,462.2 L253.0,461.9 L252.9,461.4 L252.9,460.9 L252.8,460.4 L252.8,459.9 L252.8,459.4 L252.7,458.9 L252.5,458.5 L252.4,458.1 L252.2,457.6 L252.1,457.2 L252.0,456.7 L252.0,456.3 L251.9,455.9 L252.0,455.6 L252.0,455.2 L252.1,454.9 L252.2,454.7 L252.3,454.4 L252.4,454.2Z M254.6,455.0 L254.7,454.9 L254.7,454.8 L254.8,454.7 L254.9,454.7 L255.0,454.6 L255.1,454.6 L255.2,454.6 L255.4,454.6 L255.6,454.6 L255.8,454.6 L256.0,454.6 L256.3,454.6 L256.5,454.6 L256.7,454.5 L256.9,454.4 L257.1,454.3 L257.3,454.1 L257.5,454.0 L257.7,453.9 L257.9,453.8 L258.2,453.8 L258.5,453.8 L258.8,453.8 L259.1,453.8 L259.3,453.8 L259.6,453.8 L259.9,453.8 L260.1,453.9 L260.4,454.0 L260.6,454.1 L260.9,454.2 L261.1,454.4 L261.4,454.5 L261.6,454.7 L261.8,454.8 L262.0,455.0 L262.1,455.2 L262.3,455.5 L262.4,455.7 L262.4,456.0 L262.4,456.4 L262.4,456.7 L262.3,457.0 L262.3,457.3 L262.3,457.6 L262.3,458.0 L262.2,458.4 L262.0,458.7 L261.8,459.0 L261.4,459.1 L261.1,459.3 L260.8,459.4 L260.6,459.6 L260.3,459.9 L260.0,460.1 L259.8,460.3 L259.5,460.5 L259.2,460.7 L259.0,460.8 L258.7,460.9 L258.4,461.1 L258.1,461.2 L257.8,461.3 L257.5,461.4 L257.2,461.5 L256.9,461.6 L256.6,461.7 L256.3,461.8 L256.1,461.8 L255.8,461.8 L255.6,461.7 L255.5,461.6 L255.3,461.5 L255.2,461.4 L255.1,461.2 L255.0,461.0 L254.9,460.8 L254.8,460.5 L254.7,460.2 L254.6,459.9 L254.6,459.5 L254.5,459.2 L254.4,458.9 L254.2,458.5 L254.1,458.2 L254.1,457.9 L254.0,457.5 L254.0,457.2 L254.0,456.8 L254.1,456.5 L254.2,456.3 L254.2,456.1 L254.3,455.8 L254.4,455.6 L254.5,455.5 L254.5,455.3 L254.6,455.1Z M255.7,455.5 L255.7,455.4 L255.7,455.3 L255.8,455.2 L255.8,455.2 L255.9,455.2 L256.0,455.1 L256.1,455.1 L256.2,455.1 L256.4,455.1 L256.6,455.2 L256.8,455.2 L257.0,455.2 L257.3,455.3 L257.5,455.3 L257.7,455.3 L257.8,455.2 L258.0,455.2 L258.2,455.2 L258.4,455.2 L258.5,455.2 L258.7,455.2 L258.9,455.1 L259.0,455.1 L259.2,455.0 L259.4,454.9 L259.5,454.9 L259.7,454.9 L259.9,454.9 L260.1,455.0 L260.3,455.0 L260.4,455.2 L260.6,455.3 L260.7,455.4 L260.9,455.5 L261.0,455.6 L261.2,455.7 L261.3,455.8 L261.4,456.0 L261.5,456.2 L261.6,456.4 L261.6,456.6 L261.6,456.8 L261.5,457.0 L261.5,457.3 L261.4,457.5 L261.2,457.7 L261.1,457.9 L260.9,458.1 L260.8,458.3 L260.7,458.4 L260.6,458.6 L260.4,458.8 L260.3,459.1 L260.1,459.3 L259.9,459.4 L259.7,459.5 L259.5,459.5 L259.3,459.6 L259.1,459.6 L258.9,459.7 L258.7,459.8 L258.6,459.8 L258.4,459.9 L258.2,460.0 L257.9,460.1 L257.7,460.2 L257.5,460.2 L257.3,460.3 L257.2,460.3 L257.0,460.3 L256.9,460.2 L256.8,460.2 L256.7,460.1 L256.6,460.0 L256.5,459.9 L256.4,459.8 L256.4,459.6 L256.3,459.4 L256.3,459.2 L256.3,459.0 L256.3,458.7 L256.2,458.5 L256.2,458.3 L256.1,458.0 L256.1,457.8 L256.0,457.6 L255.9,457.4 L255.9,457.2 L255.8,457.0 L255.8,456.8 L255.7,456.6 L255.7,456.4 L255.7,456.2 L255.7,456.0 L255.6,455.9 L255.6,455.7 L255.6,455.6Z M257.5,456.3 L257.6,456.3 L257.6,456.3 L257.6,456.2 L257.7,456.2 L257.7,456.2 L257.8,456.2 L257.8,456.2 L257.9,456.2 L258.0,456.2 L258.1,456.2 L258.2,456.3 L258.3,456.3 L258.4,456.3 L258.5,456.3 L258.6,456.3 L258.6,456.3 L258.7,456.2 L258.8,456.2 L258.9,456.2 L258.9,456.1 L259.0,456.1 L259.1,456.1 L259.2,456.0 L259.3,456.0 L259.4,456.0 L259.5,456.0 L259.6,456.0 L259.7,456.0 L259.8,456.0 L259.9,456.1 L260.0,456.1 L260.1,456.1 L260.2,456.2 L260.3,456.2 L260.4,456.3 L260.4,456.3 L260.5,456.4 L260.5,456.5 L260.5,456.7 L260.5,456.8 L260.4,456.9 L260.4,457.0 L260.4,457.1 L260.4,457.2 L260.4,457.3 L260.4,457.5 L260.3,457.6 L260.3,457.7 L260.2,457.8 L260.2,457.9 L260.1,458.0 L260.0,458.1 L259.9,458.2 L259.8,458.2 L259.6,458.3 L259.5,458.3 L259.4,458.4 L259.3,458.4 L259.2,458.5 L259.2,458.5 L259.1,458.6 L259.0,458.6 L258.9,458.6 L258.8,458.7 L258.7,458.7 L258.6,458.7 L258.5,458.7 L258.4,458.7 L258.3,458.7 L258.3,458.7 L258.2,458.6 L258.1,458.6 L258.1,458.6 L258.1,458.5 L258.0,458.5 L258.0,458.4 L257.9,458.4 L257.9,458.3 L257.8,458.2 L257.8,458.1 L257.7,458.0 L257.6,457.9 L257.5,457.8 L257.5,457.7 L257.4,457.6 L257.4,457.5 L257.3,457.3 L257.3,457.2 L257.3,457.1 L257.3,456.9 L257.4,456.8 L257.4,456.8 L257.4,456.7 L257.4,456.6 L257.5,456.5 L257.5,456.4 L257.5,456.4Z" fill="none" stroke="#383838" stroke-width="0.6"/>
<path d="M222.4,466.0 L222.5,465.1 L222.7,464.0 L223.0,463.0 L223.4,462.1 L224.0,461.5 L224.8,461.1 L225.8,461.0 L226.9,460.9 L228.0,461.0 L229.0,461.2 L229.9,461.5 L230.7,462.0 L231.4,462.5 L232.2,463.1 L233.0,463.5 L233.8,463.8 L234.6,464.0 L235.4,464.2 L236.2,464.3 L237.0,464.5 L237.8,464.7 L238.7,464.8 L239.5,464.9 L240.3,465.1 L241.0,465.5 L241.6,466.1 L242.2,467.0 L242.7,467.9 L243.0,468.8 L243.0,469.5 L242.8,470.1 L242.3,470.6 L241.6,471.1 L240.8,471.4 L240.0,471.5 L239.1,471.3 L238.1,470.9 L237.1,470.3 L236.0,469.8 L235.0,469.5 L234.0,469.4 L233.0,469.4 L231.9,469.5 L230.9,469.6 L230.0,469.8 L229.1,470.1 L228.3,470.5 L227.5,471.0 L226.7,471.3 L226.0,471.5 L225.3,471.4 L224.6,471.3 L224.0,470.9 L223.4,470.5 L223.0,470.0 L222.7,469.4 L222.5,468.6 L222.4,467.8 L222.3,466.9Z M225.2,466.1 L225.3,465.5 L225.5,464.7 L225.7,464.0 L226.0,463.4 L226.4,462.9 L227.0,462.6 L227.7,462.5 L228.5,462.5 L229.3,462.6 L230.0,462.7 L230.6,462.9 L231.2,463.3 L231.7,463.7 L232.3,464.0 L232.9,464.3 L233.4,464.5 L234.0,464.7 L234.6,464.8 L235.2,464.9 L235.7,465.1 L236.3,465.2 L237.0,465.2 L237.6,465.3 L238.1,465.5 L238.6,465.8 L239.1,466.2 L239.5,466.8 L239.8,467.5 L240.0,468.1 L240.1,468.7 L239.9,469.1 L239.5,469.5 L239.0,469.8 L238.5,470.0 L237.9,470.1 L237.3,470.0 L236.6,469.7 L235.8,469.3 L235.0,468.9 L234.3,468.7 L233.6,468.6 L232.8,468.6 L232.1,468.6 L231.4,468.7 L230.7,468.9 L230.1,469.1 L229.5,469.4 L228.9,469.7 L228.3,470.0 L227.8,470.1 L227.3,470.1 L226.8,469.9 L226.4,469.7 L226.0,469.4 L225.7,469.0 L225.4,468.6 L225.3,468.0 L225.2,467.4 L225.2,466.8Z M224.5,465.5 a1.2,1.2 0 1,0 2.4,0 a1.2,1.2 0 1,0 -2.4,0Z" fill="none" stroke="#555" stroke-width="0.55"/>
<path d="M257.0,478.0 L257.4,477.1 L258.1,476.3 L259.0,475.8 L260.0,475.5 L261.1,475.4 L262.4,475.4 L263.8,475.6 L265.0,476.0 L266.1,476.6 L267.1,477.3 L268.1,478.1 L269.0,479.0 L269.8,480.0 L270.5,481.0 L271.2,482.0 L272.0,483.0 L273.0,483.8 L274.0,484.5 L275.1,485.2 L276.0,486.0 L276.8,486.9 L277.5,487.9 L278.0,488.9 L278.3,490.0 L278.4,491.2 L278.3,492.4 L278.0,493.6 L277.5,494.5 L276.8,495.1 L275.9,495.5 L274.9,495.6 L274.0,495.5 L273.3,495.0 L272.7,494.1 L272.1,493.0 L271.5,492.0 L270.9,491.0 L270.4,489.9 L269.8,488.9 L269.0,488.0 L267.9,487.4 L266.7,486.9 L265.3,486.5 L264.0,486.0 L262.7,485.6 L261.3,485.2 L260.0,484.8 L259.0,484.0 L258.2,482.7 L257.5,481.0 L257.1,479.3Z M258.8,479.0 L259.1,478.2 L259.6,477.7 L260.4,477.3 L261.2,477.0 L262.1,476.9 L263.1,476.9 L264.2,477.1 L265.2,477.4 L266.1,477.8 L266.9,478.4 L267.7,479.1 L268.4,479.8 L269.0,480.6 L269.6,481.4 L270.2,482.2 L270.8,483.0 L271.6,483.6 L272.4,484.2 L273.3,484.8 L274.0,485.4 L274.6,486.1 L275.2,486.9 L275.6,487.8 L275.8,488.6 L275.9,489.5 L275.8,490.6 L275.6,491.5 L275.2,492.2 L274.6,492.7 L273.9,493.0 L273.1,493.1 L272.4,493.0 L271.8,492.6 L271.4,491.9 L270.9,491.0 L270.4,490.2 L269.9,489.4 L269.5,488.5 L269.0,487.7 L268.4,487.0 L267.5,486.5 L266.5,486.1 L265.4,485.8 L264.4,485.4 L263.3,485.1 L262.2,484.8 L261.2,484.4 L260.4,483.8 L259.7,482.8 L259.2,481.4 L258.9,480.1Z M260.2,480 a2.5,2.2 0 1,0 5,0 a2.5,2.2 0 1,0 -5,0Z M273.2,492.5 a2,1.8 0 1,0 4,0 a2,1.8 0 1,0 -4,0Z" fill="none" stroke="#4a4a4a" stroke-width="0.55"/>
<rect x="208.40" y="542.30" width="103.80" height="104.60" fill="#fff" stroke="#8a8a8a" stroke-width="0.9" />
<path d="M207.3,568.1h1.1M207.3,563.9h1.1M207.3,560.9h1.1M207.3,558.6h1.1M207.3,556.8h1.1M207.3,555.2h1.1M207.3,553.8h1.1M207.3,552.6h1.1M207.3,592.2h1.1M207.3,587.9h1.1M207.3,584.9h1.1M207.3,582.5h1.1M207.3,580.6h1.1M207.3,579.0h1.1M207.3,577.6h1.1M207.3,576.3h1.1M207.3,615.9h1.1M207.3,611.7h1.1M207.3,608.8h1.1M207.3,606.5h1.1M207.3,604.7h1.1M207.3,603.1h1.1M207.3,601.8h1.1M207.3,600.6h1.1" stroke="#777" stroke-width="0.45"/>
<line x1="206.90" y1="551.50" x2="208.40" y2="551.50" stroke="#555" stroke-width="0.5" />
<text x="197.50" y="553.30" font-size="4.6" fill="#666" font-weight="normal" >10</text>
<text x="202.60" y="550.90" font-size="3.2" fill="#666" font-weight="normal" >5</text>
<line x1="206.90" y1="575.20" x2="208.40" y2="575.20" stroke="#555" stroke-width="0.5" />
<text x="197.50" y="577.00" font-size="4.6" fill="#666" font-weight="normal" >10</text>
<text x="202.60" y="574.60" font-size="3.2" fill="#666" font-weight="normal" >4</text>
<line x1="206.90" y1="599.50" x2="208.40" y2="599.50" stroke="#555" stroke-width="0.5" />
<text x="197.50" y="601.30" font-size="4.6" fill="#666" font-weight="normal" >10</text>
<text x="202.60" y="598.90" font-size="3.2" fill="#666" font-weight="normal" >3</text>
<line x1="206.90" y1="622.90" x2="208.40" y2="622.90" stroke="#555" stroke-width="0.5" />
<text x="197.50" y="624.70" font-size="4.6" fill="#666" font-weight="normal" >10</text>
<text x="202.60" y="622.30" font-size="3.2" fill="#666" font-weight="normal" >2</text>
<line x1="206.90" y1="632.30" x2="208.40" y2="632.30" stroke="#555" stroke-width="0.5" />
<text x="202.50" y="634.00" font-size="4.6" fill="#666" font-weight="normal" >0</text>
<path d="M238.1,646.9v1.1M242.5,646.9v1.1M245.7,646.9v1.1M248.1,646.9v1.1M250.1,646.9v1.1M251.7,646.9v1.1M253.2,646.9v1.1M254.5,646.9v1.1M262.8,646.9v1.1M267.1,646.9v1.1M270.0,646.9v1.1M272.4,646.9v1.1M274.3,646.9v1.1M275.9,646.9v1.1M277.3,646.9v1.1M278.5,646.9v1.1M286.6,646.9v1.1M290.7,646.9v1.1M293.6,646.9v1.1M295.8,646.9v1.1M297.7,646.9v1.1M299.2,646.9v1.1M300.6,646.9v1.1M301.7,646.9v1.1" stroke="#777" stroke-width="0.45"/>
<line x1="218.60" y1="646.90" x2="218.60" y2="648.40" stroke="#555" stroke-width="0.5" />
<text x="218.60" y="652.70" font-size="4.6" fill="#666" font-weight="normal" text-anchor="middle" >0</text>
<line x1="230.60" y1="646.90" x2="230.60" y2="648.40" stroke="#555" stroke-width="0.5" />
<text x="227.80" y="652.70" font-size="4.6" fill="#666" font-weight="normal" >10</text>
<text x="233.00" y="650.50" font-size="3.2" fill="#666" font-weight="normal" >2</text>
<line x1="255.60" y1="646.90" x2="255.60" y2="648.40" stroke="#555" stroke-width="0.5" />
<text x="252.80" y="652.70" font-size="4.6" fill="#666" font-weight="normal" >10</text>
<text x="258.00" y="650.50" font-size="3.2" fill="#666" font-weight="normal" >3</text>
<line x1="279.60" y1="646.90" x2="279.60" y2="648.40" stroke="#555" stroke-width="0.5" />
<text x="276.80" y="652.70" font-size="4.6" fill="#666" font-weight="normal" >10</text>
<text x="282.00" y="650.50" font-size="3.2" fill="#666" font-weight="normal" >4</text>
<line x1="302.80" y1="646.90" x2="302.80" y2="648.40" stroke="#555" stroke-width="0.5" />
<text x="300.00" y="652.70" font-size="4.6" fill="#666" font-weight="normal" >10</text>
<text x="305.20" y="650.50" font-size="3.2" fill="#666" font-weight="normal" >5</text>
<path d="M231.0 630.8h.01M271.0 622.4h.01M211.7 625.6h.01M263.2 585.4h.01M245.3 583.7h.01M261.9 614.3h.01M212.6 627.4h.01M261.7 611.6h.01M235.7 618.1h.01M213.0 625.3h.01M239.8 596.7h.01M262.9 630.0h.01M249.2 600.6h.01M238.4 609.3h.01M231.8 619.0h.01M266.8 608.4h.01M242.1 621.2h.01M244.2 608.7h.01M272.2 625.8h.01M242.2 629.4h.01M247.9 603.6h.01M262.6 629.6h.01M243.8 619.8h.01M263.3 594.5h.01M260.1 608.9h.01M234.6 627.6h.01M216.1 598.4h.01M243.7 618.1h.01M262.8 578.4h.01M231.4 610.8h.01M267.2 629.5h.01M221.0 616.7h.01M217.5 598.4h.01M256.2 612.2h.01M223.3 589.1h.01M237.9 610.6h.01M228.0 640.2h.01M270.3 635.9h.01M228.9 602.5h.01M250.9 614.4h.01M231.0 628.6h.01M253.3 621.1h.01M239.1 638.7h.01M231.1 604.9h.01M227.1 598.3h.01M260.5 610.9h.01M255.7 608.8h.01M214.5 603.4h.01M247.4 614.4h.01M234.8 624.5h.01M249.5 588.4h.01M227.1 587.7h.01M238.0 631.7h.01M226.0 607.8h.01M247.8 638.1h.01M245.9 635.8h.01M253.7 640.5h.01M248.6 600.6h.01M265.4 612.4h.01M262.5 626.4h.01M258.5 621.4h.01M241.2 627.5h.01M250.8 606.7h.01M236.9 575.5h.01M227.0 612.0h.01M290.8 633.5h.01M223.1 637.1h.01M220.1 635.9h.01M232.2 604.5h.01M232.7 574.7h.01M239.2 621.7h.01M230.0 626.5h.01M210.2 600.4h.01M247.8 626.4h.01M285.4 621.2h.01M222.0 607.7h.01M234.8 616.9h.01M246.8 618.7h.01M216.6 601.8h.01M231.9 592.4h.01M236.8 608.2h.01M215.5 612.8h.01M213.9 593.4h.01M223.8 615.7h.01M211.6 619.1h.01M250.0 631.2h.01M212.4 614.8h.01M215.0 568.5h.01M256.0 609.5h.01M244.3 644.1h.01M224.3 594.2h.01M224.9 618.2h.01M227.0 606.1h.01M236.9 612.6h.01M222.9 639.3h.01M277.2 617.5h.01M284.4 629.3h.01M246.4 627.6h.01M268.8 604.9h.01M244.0 604.2h.01M221.2 623.6h.01M286.2 626.0h.01M238.1 619.2h.01M256.9 608.4h.01M269.3 600.9h.01M255.9 616.8h.01M252.2 631.9h.01M251.2 642.5h.01M262.7 604.8h.01M218.0 610.3h.01M230.3 635.2h.01M226.5 624.5h.01M210.7 619.4h.01M228.0 613.0h.01M249.7 614.4h.01M255.1 629.1h.01M234.6 621.1h.01M226.0 626.0h.01M266.3 611.1h.01M243.2 615.4h.01M241.1 593.4h.01M235.0 596.6h.01M215.0 622.9h.01M248.5 617.6h.01M263.3 614.2h.01M271.9 612.4h.01M250.8 628.3h.01M267.1 624.2h.01M216.4 632.8h.01M218.5 612.9h.01M247.8 608.3h.01M238.3 611.9h.01M260.8 633.1h.01M250.4 601.6h.01M225.9 618.1h.01M232.3 615.1h.01M224.4 617.5h.01M229.9 627.0h.01M245.0 605.4h.01M260.0 608.6h.01M220.5 615.6h.01M240.7 616.6h.01M217.9 622.8h.01M238.5 608.4h.01M223.0 613.4h.01M268.3 595.7h.01M216.7 624.7h.01M221.0 610.0h.01M261.6 622.9h.01M244.4 619.9h.01M227.6 587.4h.01M211.7 633.3h.01M263.5 612.0h.01M210.7 617.7h.01M265.7 598.6h.01M281.5 629.0h.01M261.1 612.7h.01M224.0 623.0h.01M239.7 624.4h.01M223.1 599.3h.01M224.8 605.7h.01M224.0 625.9h.01M246.1 612.4h.01M253.4 603.4h.01M253.1 617.7h.01M302.1 619.2h.01M251.9 611.5h.01M242.1 643.5h.01M248.9 633.8h.01M253.0 610.5h.01M220.3 622.9h.01M248.8 623.8h.01M215.4 605.0h.01M229.1 629.7h.01M226.5 615.3h.01M217.9 610.8h.01M244.7 598.9h.01M216.0 614.8h.01M229.5 629.2h.01M264.3 635.0h.01M282.3 619.4h.01M265.7 598.2h.01M221.6 635.7h.01M230.0 625.7h.01M239.9 619.2h.01M215.3 612.3h.01M252.0 596.6h.01M218.8 577.7h.01M250.8 607.1h.01M230.8 606.5h.01M233.3 593.6h.01M229.3 624.3h.01M245.6 599.2h.01M227.4 593.8h.01M245.3 593.8h.01M242.1 616.9h.01M231.4 630.5h.01M257.3 621.8h.01M233.6 621.1h.01M277.3 613.7h.01M257.0 627.1h.01M218.8 617.6h.01M245.0 587.0h.01M218.9 600.1h.01M229.4 596.2h.01M237.6 611.5h.01M228.5 617.3h.01M244.8 613.8h.01M250.5 582.5h.01M234.5 621.5h.01M228.4 612.7h.01M232.1 613.0h.01M225.4 588.6h.01M212.8 608.4h.01M234.2 606.8h.01M257.5 621.2h.01M217.3 617.1h.01M261.7 620.6h.01M270.0 597.9h.01M219.9 644.3h.01M216.5 634.3h.01M250.1 612.1h.01M246.5 621.5h.01M262.7 560.1h.01M229.9 590.8h.01M267.2 617.3h.01M220.7 592.9h.01M242.3 610.7h.01M243.4 634.1h.01M234.2 599.3h.01M238.9 613.3h.01M251.6 605.1h.01M240.3 620.2h.01M244.0 604.7h.01M275.4 607.6h.01M232.8 643.3h.01M255.7 611.0h.01M216.1 636.0h.01M228.6 591.5h.01M263.9 612.4h.01M224.2 610.8h.01M213.1 613.4h.01M248.7 614.9h.01M209.8 610.9h.01M218.2 609.0h.01M232.3 639.0h.01M238.4 619.4h.01M255.1 578.9h.01M218.6 605.5h.01M231.2 615.3h.01M240.4 633.5h.01M222.7 632.3h.01M225.2 621.5h.01M274.7 610.9h.01M244.9 634.7h.01M243.6 635.2h.01M247.3 625.5h.01M262.2 621.7h.01M227.9 594.9h.01M260.1 624.5h.01M251.7 614.6h.01M256.7 615.5h.01M273.9 601.3h.01M225.8 608.6h.01M235.4 599.6h.01M264.9 595.5h.01M238.3 610.7h.01M213.9 613.3h.01M227.7 632.9h.01M241.4 621.6h.01M258.6 613.7h.01M214.3 628.5h.01M233.2 623.1h.01M237.5 616.7h.01M264.8 619.9h.01M224.9 578.9h.01M234.3 612.7h.01M251.4 643.1h.01M268.7 620.2h.01M262.5 637.3h.01M246.1 618.7h.01M225.0 629.1h.01M251.1 624.3h.01M227.6 591.2h.01M226.8 610.2h.01M240.5 609.4h.01M270.9 616.6h.01M262.6 633.2h.01M238.1 587.4h.01M210.7 643.3h.01M211.1 625.9h.01M255.6 614.8h.01M262.3 637.4h.01M219.6 591.6h.01M228.8 606.3h.01M239.3 613.5h.01M265.9 624.0h.01M233.0 616.3h.01M226.7 614.1h.01M215.7 619.0h.01M228.4 607.1h.01M246.3 607.4h.01M224.4 625.9h.01M244.6 631.7h.01M255.5 619.4h.01M214.0 605.0h.01M252.8 608.2h.01M242.1 579.4h.01M224.7 627.0h.01M214.0 639.7h.01M222.7 634.2h.01M251.5 603.7h.01M227.6 634.7h.01M261.8 601.5h.01M238.2 577.5h.01M216.2 637.5h.01M240.9 606.0h.01M262.7 617.5h.01M256.3 641.5h.01M230.4 595.0h.01M251.6 587.1h.01M213.5 634.0h.01M234.1 605.5h.01M259.2 620.5h.01M269.2 627.9h.01M256.0 615.3h.01M225.7 617.6h.01M250.1 601.3h.01M245.8 639.3h.01M229.5 638.8h.01M281.3 608.0h.01M264.2 630.5h.01M245.4 608.5h.01M251.8 617.1h.01M224.6 611.3h.01M222.8 639.1h.01M230.9 614.5h.01M229.8 601.8h.01M218.1 635.7h.01M239.1 625.0h.01M273.6 639.6h.01M234.6 620.9h.01M227.2 615.0h.01M279.6 645.7h.01M256.4 602.3h.01M262.8 597.9h.01M220.4 608.6h.01M268.4 631.0h.01M248.4 612.5h.01M256.3 601.4h.01M215.5 625.6h.01M259.4 599.0h.01M272.6 609.3h.01M223.8 619.5h.01M220.3 590.0h.01M246.2 621.3h.01M232.1 626.1h.01M224.5 617.5h.01M273.2 589.6h.01M224.4 631.1h.01M240.8 601.6h.01M242.4 632.6h.01M243.7 610.5h.01M232.3 618.5h.01M209.9 640.2h.01M231.6 607.2h.01M222.4 635.8h.01M233.8 627.6h.01M249.5 620.8h.01M244.4 629.4h.01M274.2 621.3h.01M249.6 609.0h.01M264.6 599.2h.01M249.5 624.8h.01M218.6 603.6h.01M232.0 627.1h.01M225.8 605.5h.01M256.0 637.6h.01M209.5 632.7h.01M239.6 633.0h.01M247.2 604.2h.01M258.1 613.2h.01M227.9 608.3h.01M260.0 600.8h.01M263.1 622.8h.01M219.2 620.4h.01M270.1 584.9h.01M233.7 608.3h.01M235.5 623.8h.01M265.5 615.8h.01M251.7 629.0h.01M238.4 610.0h.01M267.6 612.8h.01M210.7 590.5h.01M235.2 636.0h.01M239.2 607.7h.01M242.1 631.9h.01M225.3 608.6h.01M257.9 609.9h.01M226.3 602.4h.01M254.3 620.9h.01M254.6 635.5h.01M235.2 620.6h.01M242.8 621.7h.01M223.1 613.6h.01M287.9 628.9h.01M242.2 638.3h.01M255.6 599.8h.01M226.4 591.5h.01M265.2 614.4h.01M223.4 611.2h.01M257.2 603.4h.01M225.8 615.6h.01M217.3 616.2h.01M229.0 601.2h.01M278.5 635.6h.01M233.6 616.1h.01M232.8 595.0h.01M260.6 606.7h.01M240.2 590.8h.01M269.3 620.0h.01M278.1 608.7h.01M239.7 628.2h.01M253.4 606.9h.01M209.3 611.6h.01M236.4 630.1h.01M259.5 591.5h.01M222.6 637.0h.01M242.7 595.7h.01M225.8 608.2h.01M210.6 637.7h.01M273.1 641.8h.01M253.8 610.0h.01M241.5 613.9h.01M241.3 628.9h.01M223.1 639.0h.01M215.4 605.3h.01M245.7 644.4h.01M217.8 632.1h.01M262.4 640.6h.01M217.3 635.5h.01M213.4 642.6h.01M254.4 615.2h.01M259.0 642.4h.01M247.7 620.5h.01M255.0 577.9h.01M241.6 622.2h.01M217.0 613.2h.01M215.1 621.0h.01M228.8 623.3h.01M218.3 603.6h.01M266.1 613.7h.01M219.8 601.9h.01M248.1 624.9h.01M231.9 612.8h.01M214.7 624.0h.01M245.5 616.4h.01M218.8 608.7h.01M256.3 628.3h.01M225.8 634.3h.01M220.6 618.3h.01M269.9 628.8h.01M256.7 623.9h.01M235.4 630.3h.01M240.0 614.0h.01M226.1 642.1h.01M217.4 629.8h.01M271.0 635.3h.01M215.6 612.0h.01M220.8 631.7h.01M255.5 612.9h.01M251.5 617.2h.01M219.6 628.6h.01M231.1 597.1h.01M253.3 628.1h.01M242.5 626.8h.01M246.4 637.5h.01M225.1 609.5h.01M241.0 613.4h.01M222.8 618.3h.01M250.9 609.9h.01M226.9 629.2h.01M250.0 609.7h.01M220.7 607.6h.01M257.7 642.1h.01M246.9 620.0h.01M272.5 607.9h.01M229.8 607.3h.01M246.4 619.4h.01M213.2 599.0h.01M236.7 611.5h.01M266.5 633.8h.01M242.1 595.3h.01M229.1 596.1h.01M240.1 613.0h.01M274.1 614.3h.01M216.5 614.6h.01M288.5 635.6h.01M223.5 621.2h.01M232.4 616.3h.01M243.2 577.9h.01M234.9 636.1h.01M218.4 610.4h.01M267.8 632.2h.01M210.3 630.4h.01M232.8 637.7h.01M230.9 622.1h.01M232.3 614.4h.01M229.8 619.0h.01M267.0 641.3h.01M223.4 614.2h.01M229.6 599.9h.01M233.9 628.7h.01M233.6 602.3h.01M209.1 600.0h.01M223.1 607.5h.01M232.8 621.1h.01M249.6 614.0h.01M282.2 604.4h.01M244.2 625.9h.01M249.2 603.5h.01M260.2 599.4h.01M249.2 613.5h.01M244.6 611.0h.01M231.4 600.8h.01M259.1 604.0h.01M215.4 614.4h.01M222.3 641.4h.01M218.1 637.5h.01M246.4 640.6h.01M223.5 629.2h.01M228.3 632.8h.01M223.0 633.8h.01M238.6 633.5h.01M235.0 617.3h.01M220.9 578.2h.01M239.4 634.5h.01M248.3 577.9h.01M233.1 626.0h.01M278.3 599.8h.01M266.1 624.0h.01M233.9 638.2h.01M239.2 628.1h.01M232.4 622.0h.01M237.5 596.7h.01M233.0 611.4h.01M256.6 635.0h.01M227.0 608.2h.01M245.8 627.6h.01M238.0 608.0h.01M242.9 636.8h.01M214.8 615.3h.01M240.1 586.1h.01M223.2 603.7h.01M237.8 586.2h.01M245.3 626.9h.01M228.5 604.9h.01M243.4 590.0h.01M229.4 608.5h.01M217.6 585.3h.01M225.2 636.0h.01M229.3 640.4h.01M237.4 582.5h.01M268.7 615.3h.01M230.7 635.7h.01M212.8 630.7h.01M232.8 614.5h.01M219.8 630.1h.01M238.0 639.9h.01M251.6 600.1h.01M222.4 620.9h.01M265.8 618.7h.01M225.2 616.2h.01M242.1 623.1h.01M246.0 638.2h.01M251.2 610.1h.01M280.2 617.3h.01M229.8 619.5h.01M263.4 636.6h.01M219.7 608.7h.01M256.1 582.2h.01M261.9 622.4h.01M245.9 634.8h.01M224.0 605.9h.01M218.9 625.9h.01M277.1 637.4h.01M252.3 644.5h.01M223.1 587.5h.01M240.4 604.6h.01M237.8 630.9h.01M240.1 609.8h.01M244.3 635.1h.01M221.2 608.2h.01M267.3 606.2h.01M239.5 624.0h.01M237.8 615.3h.01M212.4 599.1h.01M229.4 627.7h.01M225.1 643.9h.01M235.8 592.8h.01M226.6 598.8h.01M244.1 597.5h.01M235.9 614.3h.01M229.1 621.1h.01M249.3 621.7h.01M249.9 611.1h.01M295.4 609.8h.01M220.2 603.3h.01" stroke="#666" stroke-width="0.45" stroke-linecap="square" opacity="0.65"/>
<path d="M214.2,611.5 L214.8,610.1 L215.6,608.2 L216.7,606.2 L217.9,604.1 L219.2,602.3 L220.4,600.8 L221.6,599.8 L222.8,599.0 L224.1,598.4 L225.4,597.9 L226.7,597.5 L228.0,597.0 L229.3,596.5 L230.6,596.1 L231.9,595.8 L233.2,595.4 L234.5,595.0 L235.8,594.6 L237.1,594.2 L238.4,593.7 L239.8,593.3 L241.1,592.8 L242.3,592.2 L243.5,591.5 L244.6,590.6 L245.6,589.6 L246.6,588.5 L247.5,587.4 L248.5,586.3 L249.6,585.4 L250.8,584.6 L252.1,583.7 L253.5,582.9 L254.8,582.3 L256.1,581.8 L257.3,581.5 L258.4,581.4 L259.4,581.6 L260.4,581.8 L261.3,582.3 L262.1,582.9 L262.7,583.8 L263.1,584.9 L263.2,586.2 L263.2,587.7 L263.2,589.3 L263.3,591.1 L263.5,593.0 L263.9,595.1 L264.5,597.4 L265.1,599.8 L265.8,602.3 L266.2,604.7 L266.5,607.0 L266.6,609.2 L266.5,611.4 L266.3,613.5 L266.0,615.5 L265.6,617.4 L265.0,619.2 L264.3,620.8 L263.3,622.4 L262.3,623.8 L261.2,625.0 L260.0,626.1 L258.8,627.0 L257.6,627.6 L256.4,628.0 L255.1,628.2 L253.7,628.3 L252.4,628.4 L251.0,628.5 L249.5,628.6 L248.0,628.8 L246.4,628.9 L244.8,628.9 L243.4,628.8 L242.0,628.5 L240.8,628.0 L239.7,627.3 L238.7,626.5 L237.8,625.6 L236.8,624.7 L235.8,623.8 L234.8,622.8 L233.7,621.7 L232.7,620.5 L231.7,619.4 L230.6,618.5 L229.6,617.7 L228.6,617.2 L227.6,616.9 L226.6,616.7 L225.6,616.5 L224.6,616.4 L223.5,616.2 L222.2,616.0 L220.8,615.7 L219.4,615.5 L218.0,615.2 L216.7,615.0 L215.8,614.6 L215.1,614.3 L214.5,614.0 L214.1,613.6 L213.9,613.2 L213.9,612.5Z M220.4,610.7 L220.9,609.5 L221.7,608.0 L222.6,606.3 L223.5,604.6 L224.4,603.1 L225.2,601.8 L226.1,600.9 L227.0,600.2 L227.9,599.6 L228.9,599.2 L229.9,598.8 L230.9,598.3 L232.0,597.9 L233.0,597.5 L234.1,597.1 L235.3,596.8 L236.4,596.5 L237.6,596.2 L238.8,595.8 L240.1,595.5 L241.2,595.2 L242.3,594.7 L243.3,594.0 L244.3,593.2 L245.1,592.2 L246.0,591.0 L246.8,589.9 L247.7,588.9 L248.7,588.1 L249.7,587.5 L250.8,587.1 L251.9,586.8 L253.0,586.6 L254.1,586.6 L255.0,586.6 L255.9,586.7 L256.7,587.0 L257.4,587.3 L258.1,587.6 L258.8,588.0 L259.4,588.5 L259.9,589.1 L260.3,589.8 L260.5,590.7 L260.6,591.7 L260.7,592.8 L261.0,593.9 L261.5,595.2 L262.2,596.6 L262.9,598.4 L263.6,600.6 L264.1,602.8 L264.5,605.0 L264.8,607.0 L264.8,608.9 L264.5,610.8 L264.0,612.5 L263.6,614.2 L263.2,615.8 L262.7,617.3 L262.2,618.8 L261.5,620.2 L260.6,621.4 L259.5,622.3 L258.4,623.0 L257.3,623.5 L256.3,623.8 L255.2,623.9 L254.1,623.9 L253.1,624.0 L252.0,624.2 L250.9,624.6 L249.7,625.2 L248.3,625.9 L246.8,626.6 L245.3,627.2 L243.8,627.4 L242.4,627.4 L241.3,627.0 L240.3,626.3 L239.4,625.3 L238.7,624.2 L238.1,623.1 L237.4,621.9 L236.8,620.7 L236.2,619.5 L235.6,618.3 L234.8,617.3 L234.0,616.5 L233.2,615.8 L232.4,615.4 L231.5,615.2 L230.7,615.0 L229.9,614.9 L229.0,614.8 L228.1,614.6 L227.0,614.4 L225.8,614.2 L224.6,614.1 L223.5,613.8 L222.5,613.6 L221.7,613.3 L221.1,613.0 L220.6,612.8 L220.3,612.5 L220.2,612.1 L220.2,611.5Z M224.6,610.2 L225.2,609.2 L226.0,607.9 L226.9,606.4 L227.7,605.0 L228.4,603.7 L229.0,602.6 L229.6,601.8 L230.3,601.1 L231.0,600.6 L231.8,600.2 L232.6,599.8 L233.4,599.4 L234.2,599.0 L235.1,598.6 L236.1,598.3 L237.1,598.0 L238.1,597.7 L239.2,597.5 L240.3,597.3 L241.5,597.1 L242.6,597.0 L243.7,596.8 L244.7,596.5 L245.6,596.2 L246.4,595.7 L247.1,595.1 L247.8,594.4 L248.4,593.7 L249.1,593.1 L249.9,592.5 L250.7,592.0 L251.6,591.4 L252.5,590.8 L253.4,590.3 L254.3,589.8 L255.2,589.4 L256.0,589.1 L256.8,589.0 L257.6,588.9 L258.4,589.0 L259.0,589.2 L259.6,589.6 L260.0,590.3 L260.2,591.1 L260.3,592.1 L260.4,593.3 L260.4,594.6 L260.6,596.1 L260.7,597.9 L260.8,599.9 L260.9,601.9 L261.2,603.7 L261.9,605.3 L262.3,607.0 L262.3,608.6 L261.9,610.1 L261.4,611.5 L260.9,612.7 L260.5,613.9 L260.2,615.2 L259.9,616.5 L259.5,617.8 L258.9,619.0 L258.2,620.1 L257.5,621.1 L256.7,621.9 L255.8,622.5 L254.9,622.8 L253.9,623.1 L253.0,623.3 L251.9,623.4 L250.9,623.5 L249.7,623.7 L248.5,623.8 L247.3,623.7 L246.2,623.5 L245.2,623.1 L244.3,622.5 L243.6,621.9 L243.0,621.1 L242.5,620.3 L241.9,619.5 L241.4,618.7 L240.8,618.1 L240.0,617.5 L239.1,616.9 L238.2,616.3 L237.2,615.8 L236.2,615.2 L235.3,614.8 L234.5,614.4 L233.7,614.2 L232.9,614.1 L232.2,614.0 L231.4,613.9 L230.6,613.8 L229.7,613.6 L228.7,613.4 L227.7,613.2 L226.8,613.0 L225.9,612.8 L225.3,612.5 L224.9,612.3 L224.5,612.0 L224.3,611.8 L224.2,611.4 L224.3,610.9Z M228.3,609.7 L228.6,608.9 L229.0,607.8 L229.5,606.5 L230.0,605.2 L230.6,604.0 L231.3,603.0 L232.0,602.4 L232.8,601.9 L233.6,601.5 L234.5,601.2 L235.4,601.0 L236.3,600.7 L237.3,600.5 L238.3,600.4 L239.3,600.3 L240.3,600.2 L241.3,600.2 L242.3,600.1 L243.2,600.0 L244.0,599.9 L244.7,599.7 L245.3,599.3 L245.9,598.7 L246.4,598.0 L246.9,597.2 L247.5,596.3 L248.0,595.5 L248.6,594.7 L249.2,594.0 L249.9,593.4 L250.7,592.9 L251.5,592.5 L252.3,592.1 L253.1,591.7 L253.9,591.5 L254.6,591.3 L255.3,591.3 L255.9,591.4 L256.6,591.5 L257.1,591.8 L257.6,592.2 L258.0,592.7 L258.2,593.3 L258.3,594.1 L258.3,595.1 L258.3,596.1 L258.3,597.2 L258.4,598.4 L258.6,599.8 L258.8,601.3 L259.1,602.8 L259.4,604.2 L259.7,605.7 L259.8,607.0 L259.6,608.2 L259.4,609.4 L259.4,610.7 L259.6,612.0 L259.8,613.4 L259.8,614.8 L259.5,616.1 L259.0,617.2 L258.3,618.1 L257.4,618.7 L256.5,619.1 L255.6,619.3 L254.7,619.4 L253.9,619.4 L253.1,619.3 L252.3,619.2 L251.5,619.2 L250.7,619.3 L249.9,619.4 L249.0,619.6 L248.1,619.8 L247.1,619.8 L246.3,619.8 L245.5,619.6 L244.8,619.3 L244.2,618.9 L243.6,618.4 L243.0,617.8 L242.5,617.3 L241.8,616.8 L241.2,616.3 L240.5,615.8 L239.7,615.2 L239.0,614.6 L238.3,614.0 L237.7,613.5 L237.0,613.2 L236.4,613.0 L235.9,612.9 L235.2,612.8 L234.6,612.8 L234.0,612.6 L233.2,612.5 L232.3,612.3 L231.5,612.2 L230.6,612.0 L229.9,611.9 L229.3,611.6 L228.9,611.4 L228.5,611.2 L228.3,611.0 L228.2,610.8 L228.2,610.3Z M232.5,609.2 L233.0,608.5 L233.6,607.6 L234.3,606.6 L235.1,605.6 L235.7,604.8 L236.3,604.1 L236.9,603.6 L237.4,603.2 L238.0,602.9 L238.6,602.7 L239.3,602.5 L239.9,602.3 L240.4,602.1 L241.0,601.9 L241.6,601.7 L242.2,601.5 L242.8,601.3 L243.3,601.0 L243.9,600.7 L244.4,600.4 L244.9,600.0 L245.5,599.5 L246.1,599.1 L246.7,598.7 L247.3,598.2 L247.9,597.8 L248.4,597.3 L248.9,596.9 L249.4,596.5 L250.0,596.2 L250.6,595.9 L251.2,595.6 L251.9,595.2 L252.6,594.9 L253.2,594.5 L253.8,594.3 L254.4,594.2 L255.0,594.2 L255.5,594.2 L256.0,594.4 L256.4,594.6 L256.7,595.1 L256.9,595.6 L257.0,596.3 L257.0,597.1 L256.9,598.0 L256.9,599.0 L256.9,600.1 L256.8,601.3 L256.9,602.6 L257.2,603.7 L257.7,604.8 L258.4,605.8 L258.8,607.0 L258.9,608.2 L258.9,609.3 L258.8,610.4 L258.6,611.5 L258.4,612.5 L257.9,613.3 L257.4,614.0 L256.8,614.6 L256.1,615.1 L255.5,615.5 L254.8,615.9 L254.3,616.2 L253.7,616.6 L253.2,616.9 L252.6,617.1 L252.0,617.3 L251.4,617.6 L250.7,617.8 L250.0,618.0 L249.2,618.1 L248.4,618.1 L247.6,618.0 L246.9,617.9 L246.3,617.6 L245.7,617.2 L245.2,616.9 L244.7,616.5 L244.2,616.1 L243.7,615.7 L243.1,615.4 L242.4,615.1 L241.7,614.7 L241.0,614.2 L240.3,613.7 L239.7,613.2 L239.1,612.8 L238.6,612.5 L238.2,612.3 L237.7,612.2 L237.2,612.1 L236.7,612.0 L236.2,611.9 L235.6,611.7 L235.0,611.5 L234.3,611.4 L233.7,611.2 L233.2,611.1 L232.8,610.9 L232.5,610.7 L232.3,610.5 L232.2,610.3 L232.1,610.1 L232.3,609.7Z M237.0,608.7 L237.0,608.2 L237.1,607.5 L237.1,606.7 L237.2,605.8 L237.4,605.0 L237.7,604.4 L238.0,603.9 L238.5,603.5 L239.0,603.3 L239.5,603.0 L240.1,602.9 L240.7,602.7 L241.3,602.5 L241.9,602.3 L242.5,602.2 L243.1,602.1 L243.7,602.0 L244.3,601.8 L244.9,601.7 L245.4,601.5 L246.0,601.3 L246.5,601.0 L247.0,600.8 L247.5,600.5 L248.0,600.1 L248.4,599.7 L248.8,599.3 L249.2,599.0 L249.6,598.6 L250.1,598.3 L250.6,598.0 L251.1,597.7 L251.6,597.4 L252.2,597.2 L252.7,597.0 L253.1,596.9 L253.6,596.8 L254.0,596.9 L254.4,597.0 L254.7,597.2 L255.0,597.5 L255.2,597.9 L255.4,598.3 L255.4,598.9 L255.4,599.5 L255.4,600.1 L255.4,600.8 L255.5,601.6 L255.7,602.3 L256.2,603.1 L256.8,603.9 L257.3,604.9 L257.5,606.0 L257.3,607.0 L257.0,607.9 L256.7,608.7 L256.5,609.5 L256.5,610.3 L256.4,611.2 L256.3,611.9 L256.0,612.6 L255.6,613.2 L255.2,613.7 L254.7,614.2 L254.2,614.6 L253.7,615.0 L253.3,615.2 L252.8,615.4 L252.3,615.6 L251.8,615.7 L251.2,615.8 L250.7,616.0 L250.0,616.1 L249.4,616.2 L248.7,616.2 L248.0,616.3 L247.4,616.2 L246.8,616.1 L246.3,615.9 L245.9,615.7 L245.4,615.4 L245.0,615.0 L244.5,614.7 L244.1,614.3 L243.7,613.8 L243.3,613.3 L243.0,612.7 L242.7,612.1 L242.5,611.6 L242.3,611.2 L242.0,610.9 L241.7,610.8 L241.4,610.6 L241.1,610.6 L240.8,610.5 L240.4,610.4 L240.0,610.3 L239.5,610.2 L239.0,610.1 L238.5,610.0 L238.1,609.9 L237.8,609.8 L237.5,609.7 L237.3,609.5 L237.1,609.4 L237.0,609.3 L237.0,609.0Z M238.0,608.5 L238.1,608.1 L238.3,607.4 L238.6,606.7 L239.0,606.0 L239.5,605.3 L240.0,604.8 L240.5,604.5 L241.0,604.3 L241.5,604.1 L242.0,603.9 L242.5,603.8 L243.0,603.7 L243.5,603.6 L243.9,603.5 L244.4,603.3 L244.8,603.2 L245.2,603.1 L245.6,602.9 L246.0,602.8 L246.4,602.6 L246.8,602.4 L247.2,602.2 L247.7,602.0 L248.1,601.9 L248.5,601.7 L248.9,601.5 L249.2,601.3 L249.5,601.1 L249.8,600.8 L250.2,600.5 L250.5,600.2 L250.9,599.9 L251.4,599.5 L251.8,599.2 L252.2,598.9 L252.7,598.6 L253.1,598.5 L253.5,598.4 L253.8,598.4 L254.2,598.5 L254.5,598.6 L254.7,598.9 L254.9,599.2 L254.9,599.6 L254.9,600.2 L254.9,600.7 L255.0,601.4 L255.0,602.1 L255.1,602.9 L255.2,603.7 L255.4,604.6 L255.5,605.4 L255.4,606.3 L255.4,607.0 L255.4,607.7 L255.5,608.4 L255.6,609.1 L255.6,609.8 L255.5,610.5 L255.3,611.1 L255.0,611.5 L254.6,612.0 L254.2,612.4 L253.9,612.8 L253.5,613.2 L253.2,613.6 L252.8,614.0 L252.5,614.2 L252.0,614.5 L251.6,614.6 L251.1,614.7 L250.6,614.7 L250.1,614.7 L249.6,614.7 L249.0,614.5 L248.5,614.3 L248.1,614.1 L247.7,613.8 L247.4,613.6 L247.1,613.3 L246.8,613.0 L246.5,612.7 L246.2,612.4 L245.9,612.2 L245.6,611.9 L245.2,611.6 L244.8,611.3 L244.4,611.0 L244.1,610.7 L243.7,610.4 L243.4,610.3 L243.0,610.2 L242.7,610.1 L242.3,610.1 L242.0,610.1 L241.6,610.0 L241.1,610.0 L240.6,609.9 L240.1,609.8 L239.6,609.8 L239.1,609.7 L238.8,609.6 L238.5,609.4 L238.3,609.4 L238.1,609.2 L238.0,609.1 L238.0,608.9Z M241.2,608.1 L241.3,607.8 L241.5,607.3 L241.7,606.8 L242.0,606.3 L242.3,605.8 L242.7,605.4 L243.0,605.1 L243.4,605.0 L243.8,604.8 L244.1,604.7 L244.5,604.6 L244.9,604.5 L245.2,604.4 L245.6,604.4 L245.9,604.3 L246.3,604.2 L246.6,604.1 L246.9,604.0 L247.2,603.9 L247.5,603.8 L247.9,603.7 L248.2,603.6 L248.5,603.5 L248.7,603.3 L249.0,603.1 L249.2,602.8 L249.5,602.4 L249.7,602.1 L249.9,601.7 L250.2,601.4 L250.5,601.0 L250.9,600.7 L251.2,600.4 L251.6,600.2 L252.0,600.0 L252.3,600.0 L252.6,600.0 L252.9,600.1 L253.1,600.2 L253.3,600.4 L253.5,600.7 L253.6,601.0 L253.6,601.4 L253.6,601.8 L253.6,602.2 L253.5,602.7 L253.5,603.2 L253.5,603.7 L253.6,604.2 L253.8,604.7 L254.0,605.2 L254.2,605.8 L254.3,606.4 L254.3,607.0 L254.3,607.5 L254.3,608.1 L254.4,608.6 L254.4,609.2 L254.3,609.7 L254.2,610.2 L254.0,610.6 L253.8,611.0 L253.5,611.4 L253.2,611.7 L252.9,612.0 L252.6,612.2 L252.3,612.3 L251.9,612.4 L251.6,612.4 L251.2,612.3 L250.9,612.2 L250.5,612.1 L250.2,612.0 L249.8,612.0 L249.5,611.9 L249.2,611.9 L248.8,611.9 L248.5,611.9 L248.1,611.9 L247.8,611.9 L247.5,611.8 L247.2,611.7 L246.9,611.6 L246.6,611.4 L246.2,611.2 L246.0,610.9 L245.7,610.6 L245.5,610.3 L245.3,610.0 L245.1,609.7 L244.9,609.6 L244.7,609.5 L244.4,609.4 L244.2,609.4 L243.9,609.4 L243.7,609.3 L243.4,609.2 L243.0,609.2 L242.6,609.1 L242.3,609.1 L242.0,609.0 L241.7,608.9 L241.5,608.8 L241.4,608.7 L241.3,608.7 L241.2,608.6 L241.2,608.4Z M244.1,607.8 L244.2,607.5 L244.4,607.2 L244.6,606.9 L245.0,606.5 L245.3,606.2 L245.6,606.0 L245.8,605.8 L246.1,605.7 L246.3,605.7 L246.5,605.6 L246.7,605.5 L247.0,605.5 L247.1,605.4 L247.3,605.3 L247.5,605.2 L247.6,605.1 L247.8,605.0 L247.9,604.9 L248.1,604.8 L248.3,604.6 L248.5,604.5 L248.7,604.4 L248.9,604.3 L249.1,604.2 L249.4,604.0 L249.5,603.9 L249.7,603.7 L249.9,603.6 L250.1,603.4 L250.3,603.3 L250.5,603.2 L250.7,603.0 L250.9,602.9 L251.1,602.8 L251.4,602.8 L251.5,602.8 L251.7,602.8 L251.9,602.8 L252.0,602.9 L252.2,603.0 L252.3,603.1 L252.4,603.3 L252.4,603.4 L252.5,603.7 L252.5,603.9 L252.5,604.2 L252.5,604.4 L252.5,604.7 L252.7,605.0 L252.8,605.4 L252.9,605.8 L253.0,606.2 L253.0,606.6 L253.1,607.0 L253.2,607.4 L253.3,607.8 L253.4,608.2 L253.3,608.6 L253.1,608.9 L252.9,609.1 L252.7,609.3 L252.5,609.5 L252.3,609.6 L252.1,609.8 L251.9,610.0 L251.7,610.2 L251.6,610.3 L251.4,610.4 L251.2,610.5 L251.0,610.5 L250.7,610.6 L250.5,610.6 L250.3,610.7 L250.0,610.7 L249.7,610.8 L249.4,610.8 L249.2,610.8 L248.9,610.8 L248.7,610.7 L248.5,610.6 L248.3,610.5 L248.1,610.3 L248.0,610.2 L247.8,610.0 L247.7,609.8 L247.5,609.5 L247.4,609.3 L247.2,609.1 L247.1,608.9 L246.9,608.8 L246.7,608.7 L246.6,608.7 L246.4,608.6 L246.2,608.6 L246.0,608.6 L245.8,608.6 L245.6,608.5 L245.3,608.5 L245.1,608.5 L244.8,608.4 L244.6,608.4 L244.4,608.3 L244.3,608.3 L244.2,608.2 L244.1,608.1 L244.1,608.1 L244.1,608.0Z M246.9,607.4 L247.0,607.3 L247.0,607.1 L247.1,606.9 L247.2,606.7 L247.3,606.5 L247.4,606.4 L247.5,606.3 L247.6,606.2 L247.7,606.1 L247.8,606.1 L248.0,606.0 L248.1,606.0 L248.2,605.9 L248.3,605.8 L248.4,605.8 L248.5,605.7 L248.7,605.7 L248.8,605.6 L249.0,605.6 L249.1,605.6 L249.3,605.6 L249.5,605.6 L249.6,605.6 L249.7,605.5 L249.9,605.5 L250.0,605.4 L250.0,605.3 L250.1,605.1 L250.2,605.0 L250.3,604.9 L250.4,604.8 L250.6,604.7 L250.7,604.6 L250.8,604.5 L251.0,604.5 L251.1,604.4 L251.2,604.5 L251.3,604.5 L251.4,604.5 L251.5,604.6 L251.5,604.7 L251.6,604.8 L251.6,604.9 L251.6,605.0 L251.6,605.1 L251.6,605.3 L251.6,605.5 L251.7,605.6 L251.8,605.8 L251.9,606.0 L252.0,606.2 L252.0,606.5 L252.1,606.8 L252.1,607.0 L252.0,607.2 L252.0,607.4 L251.9,607.6 L251.9,607.8 L251.8,608.0 L251.7,608.1 L251.7,608.3 L251.6,608.4 L251.6,608.6 L251.5,608.8 L251.4,609.0 L251.3,609.1 L251.2,609.2 L251.0,609.2 L250.9,609.3 L250.8,609.3 L250.6,609.2 L250.5,609.2 L250.3,609.2 L250.2,609.2 L250.0,609.2 L249.8,609.2 L249.7,609.2 L249.5,609.2 L249.4,609.2 L249.3,609.1 L249.2,609.0 L249.1,608.9 L249.0,608.8 L248.9,608.7 L248.8,608.6 L248.7,608.5 L248.7,608.3 L248.6,608.2 L248.5,608.1 L248.4,608.0 L248.4,608.0 L248.3,607.9 L248.2,607.9 L248.1,607.9 L248.0,607.9 L247.9,607.9 L247.8,607.8 L247.6,607.8 L247.5,607.8 L247.3,607.8 L247.2,607.8 L247.1,607.7 L247.1,607.7 L247.0,607.7 L247.0,607.6 L246.9,607.6 L246.9,607.5Z" fill="none" stroke="#555" stroke-width="0.55"/>
<rect x="208.90" y="474.80" width="33.40" height="23.60" fill="none" stroke="#c42a2a" stroke-width="1.5" />
<rect x="208.90" y="498.40" width="33.40" height="21.10" fill="none" stroke="#4a2a12" stroke-width="1.5" />
<line x1="208.20" y1="498.40" x2="243.00" y2="498.40" stroke="#6a1a14" stroke-width="2.2" />
<rect x="208.90" y="602.80" width="33.40" height="23.60" fill="none" stroke="#c42a2a" stroke-width="1.5" />
<rect x="208.90" y="626.40" width="33.40" height="20.00" fill="none" stroke="#4a2a12" stroke-width="1.5" />
<line x1="208.20" y1="626.40" x2="243.00" y2="626.40" stroke="#6a1a14" stroke-width="2.2" />
<rect x="243.95" y="474.80" width="36.45" height="24.00" fill="none" stroke="#1c1c7a" stroke-width="1.5" />
<rect x="243.95" y="602.80" width="38.25" height="23.60" fill="none" stroke="#1c1c7a" stroke-width="1.5" />
<text x="216.70" y="446.20" font-size="6.8" fill="#c42a2a" font-weight="bold" textLength="19.70" lengthAdjust="spacingAndGlyphs" >CMP</text>
<text x="220.80" y="456.00" font-size="6.8" fill="#c42a2a" font-weight="bold" textLength="11.20" lengthAdjust="spacingAndGlyphs" >0%</text>
<text x="271.40" y="446.20" font-size="6.8" fill="#1c1c7a" font-weight="bold" textLength="19.90" lengthAdjust="spacingAndGlyphs" >GMP</text>
<text x="273.30" y="456.00" font-size="6.8" fill="#1c1c7a" font-weight="bold" textLength="16.10" lengthAdjust="spacingAndGlyphs" >12%</text>
<text x="248.20" y="512.50" font-size="6.8" fill="#7a5020" font-weight="bold" textLength="31.30" lengthAdjust="spacingAndGlyphs" >MEP 0%</text>
<text x="215.40" y="583.30" font-size="6.8" fill="#c42a2a" font-weight="bold" textLength="18.80" lengthAdjust="spacingAndGlyphs" >CMP</text>
<text x="216.70" y="592.70" font-size="6.8" fill="#c42a2a" font-weight="bold" textLength="16.20" lengthAdjust="spacingAndGlyphs" >18%</text>
<text x="268.70" y="583.30" font-size="6.8" fill="#1c1c7a" font-weight="bold" textLength="19.40" lengthAdjust="spacingAndGlyphs" >GMP</text>
<text x="270.60" y="592.70" font-size="6.8" fill="#1c1c7a" font-weight="bold" textLength="16.10" lengthAdjust="spacingAndGlyphs" >56%</text>
<text x="246.40" y="641.70" font-size="6.8" fill="#7a5020" font-weight="bold" textLength="32.30" lengthAdjust="spacingAndGlyphs" >MEP 2%</text>
<line x1="189.90" y1="418.30" x2="189.90" y2="497.50" stroke="#333" stroke-width="1.0" />
<line x1="189.90" y1="561.80" x2="189.90" y2="643.00" stroke="#333" stroke-width="1.0" />
<text x="195.20" y="534.60" font-size="7.2" fill="#000" font-weight="bold" textLength="26.90" lengthAdjust="spacingAndGlyphs" transform="rotate(-90 195.20 534.60)" >CD123</text>
<text x="239.60" y="664.20" font-size="7.6" fill="#000" font-weight="bold" textLength="33.70" lengthAdjust="spacingAndGlyphs" >CD45RA</text>
<defs><clipPath id="cp1"><rect x="363.6" y="418.8" width="113.6" height="96.2"/></clipPath><clipPath id="cp2"><rect x="364.2" y="545.3" width="113.3" height="95.8"/></clipPath><filter id="pb1" x="-20%" y="-20%" width="140%" height="140%"><feGaussianBlur stdDeviation="0.7"/></filter><filter id="pb2" x="-20%" y="-20%" width="140%" height="140%"><feGaussianBlur stdDeviation="1.4"/></filter><filter id="pb3" x="-20%" y="-20%" width="140%" height="140%"><feGaussianBlur stdDeviation="2.5"/></filter><filter id="texw" x="-5%" y="-5%" width="110%" height="110%"><feGaussianBlur in="SourceAlpha" stdDeviation="1.2" result="m"/><feTurbulence type="fractalNoise" baseFrequency="0.35" numOctaves="2" seed="5" result="n"/><feColorMatrix in="n" type="matrix" values="0 0 0 0 1  0 0 0 0 0.98  0 0 0 0 1  -3 0 0 0 1.7" result="w"/><feGaussianBlur in="w" stdDeviation="0.4" result="w2"/><feComposite in="w2" in2="m" operator="in"/></filter><filter id="texd" x="-5%" y="-5%" width="110%" height="110%"><feGaussianBlur in="SourceAlpha" stdDeviation="1.2" result="m"/><feTurbulence type="fractalNoise" baseFrequency="0.18" numOctaves="2" seed="9" result="n"/><feColorMatrix in="n" type="matrix" values="0 0 0 0 0.36  0 0 0 0 0.22  0 0 0 0 0.6  3 0 0 0 -1.4" result="w"/><feGaussianBlur in="w" stdDeviation="0.6" result="w2"/><feComposite in="w2" in2="m" operator="in"/></filter></defs>
<g clip-path="url(#cp1)">
<rect x="363.6" y="418.8" width="113.6" height="96.2" fill="#dcdbe0"/>
<rect x="430" y="480" width="48" height="36" fill="#e6e4e8" filter="url(#pb3)"/>
<path d="M372.5,447 L385,444 L400,444 L414,442.5 L422,443 L428,437 L430,428 L434,422 L441,419.5 L448,420 L452,424 L452,432 L449,440 L453,445 L459,448 L461,456 L461,465 L457,472 L448,477 L440,478 L430,479 L426,483 L424,492 L422,500 L416,507 L405,510.5 L392,510.5 L381,509 L378,503 L377,495 L373,490 L369,483 L370,475 L372,465 L371,455Z" fill="#9e94c6" filter="url(#pb1)" opacity="1"/>
<path d="M374,450 L392,447 L410,447 L418,452 L416,462 L405,466 L390,466 L378,462Z" fill="#b4aad4" filter="url(#pb3)" opacity="0.8"/>
<path d="M398,462 L412,456 L424,452 L432,458 L428,474 L422,488 L410,494 L398,490 L394,476Z" fill="#8670b8" filter="url(#pb3)" opacity="0.85"/>
<path d="M436,450 L452,448 L459,456 L458,468 L448,474 L436,472 L432,462Z" fill="#b0a6d2" filter="url(#pb3)" opacity="0.8"/>
<path d="M382,490 L392,486 L404,490 L410,500 L402,507 L388,507 L381,500Z" fill="#aea4d0" filter="url(#pb3)" opacity="0.8"/>
<ellipse cx="471" cy="445" rx="8" ry="13.5" fill="#b0a6d2" filter="url(#pb1)" opacity="1"/>
<path d="M372.5,447 L385,444 L400,444 L414,442.5 L422,443 L428,437 L430,428 L434,422 L441,419.5 L448,420 L452,424 L452,432 L449,440 L453,445 L459,448 L461,456 L461,465 L457,472 L448,477 L440,478 L430,479 L426,483 L424,492 L422,500 L416,507 L405,510.5 L392,510.5 L381,509 L378,503 L377,495 L373,490 L369,483 L370,475 L372,465 L371,455Z" fill="#000" filter="url(#texd)" opacity="0.6"/>
<path d="M372.5,447 L385,444 L400,444 L414,442.5 L422,443 L428,437 L430,428 L434,422 L441,419.5 L448,420 L452,424 L452,432 L449,440 L453,445 L459,448 L461,456 L461,465 L457,472 L448,477 L440,478 L430,479 L426,483 L424,492 L422,500 L416,507 L405,510.5 L392,510.5 L381,509 L378,503 L377,495 L373,490 L369,483 L370,475 L372,465 L371,455Z" fill="#000" filter="url(#texw)" opacity="0.25"/>
<ellipse cx="384" cy="435.6" rx="6.8" ry="6.8" fill="#d6b8d8" filter="url(#pb2)" opacity="1"/>
<ellipse cx="384" cy="435.6" rx="5.2" ry="5.2" fill="#5a2a86" filter="url(#pb1)" opacity="1"/>
<ellipse cx="385" cy="434" rx="1.5" ry="1.5" fill="#9a70c0" filter="url(#pb1)" opacity="1"/>
<ellipse cx="404" cy="427" rx="7" ry="6" fill="#d8c0d8" filter="url(#pb3)" opacity="0.8"/>
<ellipse cx="408.2" cy="424.7" rx="2.1" ry="2.1" fill="#3a1a6a" filter="url(#pb1)" opacity="1"/>
<ellipse cx="412.8" cy="427" rx="2.1" ry="2.1" fill="#3a1a6a" filter="url(#pb1)" opacity="1"/>
<ellipse cx="408.2" cy="429.3" rx="2.1" ry="2.1" fill="#3a1a6a" filter="url(#pb1)" opacity="1"/>
<ellipse cx="404.5" cy="432" rx="1.5" ry="1.5" fill="#3a1a6a" filter="url(#pb1)" opacity="1"/>
<ellipse cx="444.5" cy="487.5" rx="6.5" ry="6.5" fill="#c4b8dc" filter="url(#pb2)" opacity="1"/>
<ellipse cx="398.3" cy="460.4" rx="3.6" ry="2.6" fill="#3c1c70" filter="url(#pb1)" opacity="1"/>
<ellipse cx="421.5" cy="448.3" rx="5" ry="5.5" fill="#3c1c70" filter="url(#pb1)" opacity="1"/>
<ellipse cx="443.4" cy="432.7" rx="3.6" ry="3.4" fill="#3c1c70" filter="url(#pb1)" opacity="1"/>
<ellipse cx="436.5" cy="438.5" rx="3.5" ry="3.3" fill="#3c1c70" filter="url(#pb1)" opacity="1"/>
<ellipse cx="430.7" cy="446" rx="3.8" ry="3.6" fill="#3c1c70" filter="url(#pb1)" opacity="1"/>
<ellipse cx="448" cy="450.6" rx="3" ry="2.8" fill="#3c1c70" filter="url(#pb1)" opacity="1"/>
<ellipse cx="453.8" cy="455.2" rx="3" ry="2.8" fill="#3c1c70" filter="url(#pb1)" opacity="1"/>
<ellipse cx="438.8" cy="462.2" rx="4.2" ry="4.0" fill="#3c1c70" filter="url(#pb1)" opacity="1"/>
<ellipse cx="466.5" cy="449.5" rx="3.5" ry="3.2" fill="#3c1c70" filter="url(#pb1)" opacity="1"/>
<ellipse cx="422.6" cy="473" rx="2" ry="3.5" fill="#3c1c70" filter="url(#pb1)" opacity="1"/>
<ellipse cx="379.9" cy="474.7" rx="3.6" ry="3.0" fill="#3c1c70" filter="url(#pb1)" opacity="1"/>
<ellipse cx="401.8" cy="473.5" rx="3.5" ry="3.5" fill="#3c1c70" filter="url(#pb1)" opacity="1"/>
<ellipse cx="367.8" cy="491.4" rx="4.5" ry="4.5" fill="#3c1c70" filter="url(#pb1)" opacity="1"/>
<ellipse cx="395.5" cy="490.2" rx="4.5" ry="4.5" fill="#3c1c70" filter="url(#pb1)" opacity="1"/>
<ellipse cx="397.2" cy="504" rx="2" ry="3.5" fill="#3c1c70" filter="url(#pb1)" opacity="1"/>
<ellipse cx="403.5" cy="494.3" rx="2.2" ry="2" fill="#3c1c70" filter="url(#pb1)" opacity="1"/>
<ellipse cx="405.3" cy="501.2" rx="2.5" ry="2.5" fill="#3c1c70" filter="url(#pb1)" opacity="1"/>
<ellipse cx="442.2" cy="485" rx="2.5" ry="2.5" fill="#3c1c70" filter="url(#pb1)" opacity="1"/>
<ellipse cx="446.8" cy="484.5" rx="1.5" ry="1.5" fill="#3c1c70" filter="url(#pb1)" opacity="1"/>
<ellipse cx="442.8" cy="490.2" rx="2.5" ry="2.3" fill="#3c1c70" filter="url(#pb1)" opacity="1"/>
<ellipse cx="446.8" cy="490.8" rx="2.5" ry="2.3" fill="#3c1c70" filter="url(#pb1)" opacity="1"/>
<ellipse cx="386" cy="467" rx="2" ry="2" fill="#3c1c70" filter="url(#pb1)" opacity="1"/>
<ellipse cx="413" cy="462" rx="2.5" ry="2.5" fill="#3c1c70" filter="url(#pb1)" opacity="1"/>
<rect x="441" y="512.8" width="17" height="1.1" fill="#c070b8" filter="url(#pb1)" opacity="0.5"/>
</g>
<g clip-path="url(#cp2)">
<rect x="363.6" y="545.3" width="114" height="96" fill="#f4f2f8"/>
<path d="M371,545.3 L478,545.3 L478,558 L472,566 L462,570 L458,582 L459,600 L462,620 L460,641 L384,641 L382,630 L370,627 L363.6,622 L363.6,560 L367,553Z" fill="#9484cc" filter="url(#pb2)" opacity="1"/>
<path d="M364,626 L383,628 L384,641 L364,641Z" fill="#eadcee" filter="url(#pb2)" opacity="1"/>
<path d="M371,545.3 L385,545.3 L378,552 L372,556Z" fill="#ece6f4" filter="url(#pb1)" opacity="1"/>
<ellipse cx="370" cy="580" rx="7" ry="7" fill="#a474c4" filter="url(#pb1)" opacity="1"/>
<ellipse cx="366" cy="602" rx="5" ry="5" fill="#b080c8" filter="url(#pb1)" opacity="1"/>
<ellipse cx="402.7" cy="601" rx="6" ry="6" fill="#9868bc" filter="url(#pb1)" opacity="1"/>
<ellipse cx="433.8" cy="596.5" rx="7" ry="7" fill="#9a6cbc" filter="url(#pb1)" opacity="1"/>
<ellipse cx="385.4" cy="622" rx="7" ry="7" fill="#9a68bc" filter="url(#pb1)" opacity="1"/>
<ellipse cx="414" cy="620.8" rx="7" ry="7" fill="#9868bc" filter="url(#pb1)" opacity="1"/>
<ellipse cx="371" cy="624" rx="5" ry="5" fill="#c8a0d4" filter="url(#pb1)" opacity="1"/>
<ellipse cx="458" cy="560" rx="4" ry="4" fill="#b090d0" filter="url(#pb1)" opacity="1"/>
<ellipse cx="397" cy="562" rx="12.979999999999999" ry="12.979999999999999" fill="#3c2c9c" filter="url(#pb1)" opacity="1"/>
<ellipse cx="428" cy="567.7" rx="8.26" ry="8.26" fill="#4232a2" filter="url(#pb1)" opacity="1"/>
<ellipse cx="444.2" cy="577" rx="12.979999999999999" ry="12.979999999999999" fill="#36289a" filter="url(#pb1)" opacity="1"/>
<ellipse cx="416.5" cy="580.4" rx="11.799999999999999" ry="11.799999999999999" fill="#4434a4" filter="url(#pb1)" opacity="1"/>
<ellipse cx="376" cy="600" rx="11.799999999999999" ry="11.799999999999999" fill="#3c2c9c" filter="url(#pb1)" opacity="1"/>
<ellipse cx="390" cy="596.5" rx="7.08" ry="7.08" fill="#4232a2" filter="url(#pb1)" opacity="1"/>
<ellipse cx="416.5" cy="597.7" rx="8.26" ry="8.26" fill="#36289a" filter="url(#pb1)" opacity="1"/>
<ellipse cx="450" cy="597.7" rx="9.44" ry="9.44" fill="#4434a4" filter="url(#pb1)" opacity="1"/>
<ellipse cx="431.5" cy="616" rx="11.799999999999999" ry="11.799999999999999" fill="#3c2c9c" filter="url(#pb1)" opacity="1"/>
<ellipse cx="403.8" cy="631" rx="7.08" ry="7.08" fill="#4232a2" filter="url(#pb1)" opacity="1"/>
<ellipse cx="431.5" cy="632" rx="5.8999999999999995" ry="5.8999999999999995" fill="#36289a" filter="url(#pb1)" opacity="1"/>
<ellipse cx="447.7" cy="631" rx="5.8999999999999995" ry="5.8999999999999995" fill="#4434a4" filter="url(#pb1)" opacity="1"/>
<ellipse cx="466" cy="553" rx="8.26" ry="8.26" fill="#3c2c9c" filter="url(#pb1)" opacity="1"/>
<ellipse cx="446" cy="551" rx="5.8999999999999995" ry="5.8999999999999995" fill="#4232a2" filter="url(#pb1)" opacity="1"/>
<ellipse cx="410" cy="549" rx="5.31" ry="5.31" fill="#36289a" filter="url(#pb1)" opacity="1"/>
<ellipse cx="383" cy="550" rx="4.72" ry="4.72" fill="#4434a4" filter="url(#pb1)" opacity="1"/>
<ellipse cx="392" cy="612" rx="5.8999999999999995" ry="5.8999999999999995" fill="#3c2c9c" filter="url(#pb1)" opacity="1"/>
<ellipse cx="419" cy="612" rx="5.8999999999999995" ry="5.8999999999999995" fill="#4232a2" filter="url(#pb1)" opacity="1"/>
<ellipse cx="380" cy="572" rx="5.8999999999999995" ry="5.8999999999999995" fill="#36289a" filter="url(#pb1)" opacity="1"/>
<ellipse cx="405" cy="572" rx="5.8999999999999995" ry="5.8999999999999995" fill="#4434a4" filter="url(#pb1)" opacity="1"/>
<ellipse cx="460" cy="590" rx="4.72" ry="4.72" fill="#3c2c9c" filter="url(#pb1)" opacity="1"/>
<ellipse cx="424" cy="549" rx="4.72" ry="4.72" fill="#4232a2" filter="url(#pb1)" opacity="1"/>
<ellipse cx="395" cy="640" rx="4.72" ry="4.72" fill="#36289a" filter="url(#pb1)" opacity="1"/>
<ellipse cx="418" cy="638" rx="4.72" ry="4.72" fill="#4434a4" filter="url(#pb1)" opacity="1"/>
<ellipse cx="397.6" cy="562.4" rx="5.5" ry="4.62" fill="#6858bc" filter="url(#pb1)" opacity="0.7"/>
<ellipse cx="428.6" cy="568.1" rx="3.5" ry="2.94" fill="#6858bc" filter="url(#pb1)" opacity="0.7"/>
<ellipse cx="444.8" cy="577.4" rx="5.5" ry="4.62" fill="#6858bc" filter="url(#pb1)" opacity="0.7"/>
<ellipse cx="417.1" cy="580.8" rx="5.0" ry="4.2" fill="#6858bc" filter="url(#pb1)" opacity="0.7"/>
<ellipse cx="376.6" cy="600.4" rx="5.0" ry="4.2" fill="#6858bc" filter="url(#pb1)" opacity="0.7"/>
<ellipse cx="417.1" cy="598.1" rx="3.5" ry="2.94" fill="#6858bc" filter="url(#pb1)" opacity="0.7"/>
<ellipse cx="450.6" cy="598.1" rx="4.0" ry="3.36" fill="#6858bc" filter="url(#pb1)" opacity="0.7"/>
<ellipse cx="432.1" cy="616.4" rx="5.0" ry="4.2" fill="#6858bc" filter="url(#pb1)" opacity="0.7"/>
<path d="M371,545.3 L478,545.3 L478,558 L472,566 L462,570 L458,582 L459,600 L462,620 L460,641 L384,641 L382,630 L370,627 L363.6,622 L363.6,560 L367,553Z" fill="#000" filter="url(#texd)" opacity="0.45"/>
<path d="M371,545.3 L478,545.3 L478,558 L472,566 L462,570 L458,582 L459,600 L462,620 L460,641 L384,641 L382,630 L370,627 L363.6,622 L363.6,560 L367,553Z" fill="#000" filter="url(#texw)" opacity="0.2"/>
<ellipse cx="375" cy="555" rx="4.5" ry="4.5" fill="#22126e" filter="url(#pb1)" opacity="1"/>
<ellipse cx="402.7" cy="583.8" rx="4" ry="4" fill="#22126e" filter="url(#pb1)" opacity="1"/>
<ellipse cx="445.4" cy="613.8" rx="4" ry="4" fill="#22126e" filter="url(#pb1)" opacity="1"/>
<ellipse cx="459.2" cy="609" rx="3.5" ry="3.5" fill="#22126e" filter="url(#pb1)" opacity="1"/>
<ellipse cx="468.5" cy="632" rx="4" ry="4" fill="#22126e" filter="url(#pb1)" opacity="1"/>
<ellipse cx="463" cy="636" rx="3" ry="3" fill="#22126e" filter="url(#pb1)" opacity="1"/>
<ellipse cx="431.5" cy="632" rx="3" ry="3" fill="#22126e" filter="url(#pb1)" opacity="1"/>
<ellipse cx="420" cy="585" rx="4" ry="4" fill="#22126e" filter="url(#pb1)" opacity="1"/>
<ellipse cx="399" cy="626" rx="3" ry="3" fill="#22126e" filter="url(#pb1)" opacity="1"/>
<ellipse cx="450" cy="562" rx="3" ry="3" fill="#22126e" filter="url(#pb1)" opacity="1"/>
<ellipse cx="387" cy="606" rx="2.5" ry="2.5" fill="#22126e" filter="url(#pb1)" opacity="1"/>
<ellipse cx="383" cy="590" rx="2.5" ry="2.5" fill="#e8e4f6" filter="url(#pb1)" opacity="0.9"/>
<ellipse cx="457" cy="572" rx="2.5" ry="2.5" fill="#e8e4f6" filter="url(#pb1)" opacity="0.9"/>
<ellipse cx="440" cy="603" rx="2" ry="2" fill="#e8e4f6" filter="url(#pb1)" opacity="0.9"/>
<ellipse cx="398" cy="606" rx="1.8" ry="1.8" fill="#e8e4f6" filter="url(#pb1)" opacity="0.9"/>
<ellipse cx="426" cy="598" rx="2" ry="2" fill="#e8e4f6" filter="url(#pb1)" opacity="0.9"/>
<ellipse cx="412" cy="566" rx="2" ry="2" fill="#e8e4f6" filter="url(#pb1)" opacity="0.9"/>
<ellipse cx="468" cy="575" rx="3" ry="3" fill="#e8e4f6" filter="url(#pb1)" opacity="0.9"/>
<ellipse cx="470" cy="600" rx="4" ry="4" fill="#e8e4f6" filter="url(#pb1)" opacity="0.9"/>
<ellipse cx="455" cy="630" rx="3" ry="3" fill="#e8e4f6" filter="url(#pb1)" opacity="0.9"/>
</g>
</g>
</svg>
</body></html>
